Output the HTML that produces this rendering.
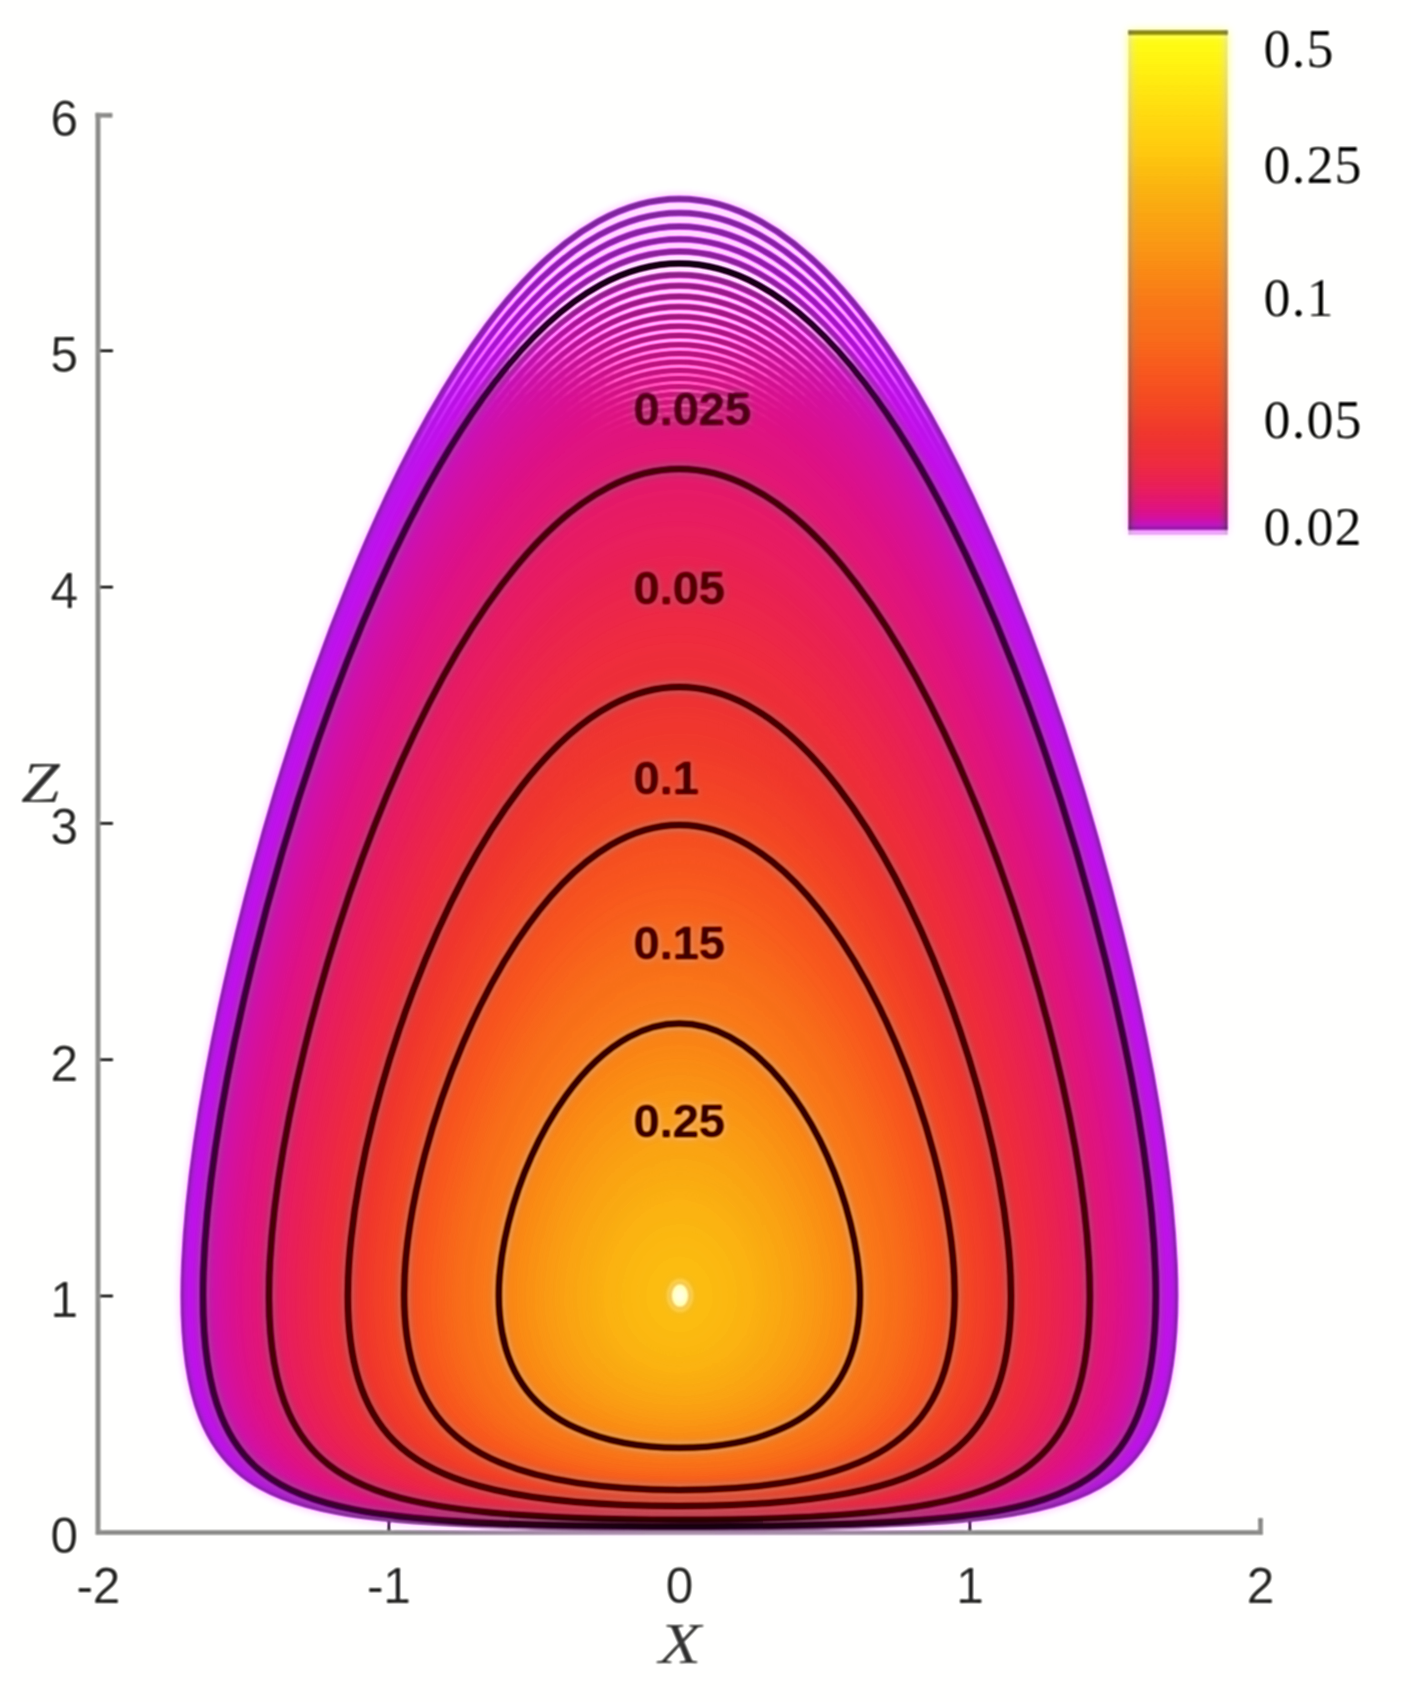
<!DOCTYPE html>
<html lang="en"><head><meta charset="utf-8"><title>Contour plot</title>
<style>
html,body{margin:0;padding:0;background:#fff}
svg{display:block}
.t{font-family:"Liberation Sans",sans-serif;font-size:49.5px;fill:#3c3c3c}
.b{font-family:"Liberation Sans",sans-serif;font-size:47px;font-weight:bold;fill:#2a0008}
.s{font-family:"Liberation Serif",serif;font-size:54px;letter-spacing:1.2px;fill:#222}
.i{font-family:"Liberation Serif",serif;font-size:57px;font-style:italic;fill:#444}
</style></head>
<body>
<svg width="1411" height="1702" viewBox="0 0 1411 1702">
<defs><filter id="usm" x="-30" y="-30" width="1471" height="1762" filterUnits="userSpaceOnUse" color-interpolation-filters="sRGB"><feGaussianBlur in="SourceGraphic" stdDeviation="1.0" result="a"/><feColorMatrix in="a" type="matrix" values=".299 .587 .114 0 0 .299 .587 .114 0 0 .299 .587 .114 0 0 0 0 0 1 0" result="ya"/><feGaussianBlur in="ya" stdDeviation="2.5" result="yb"/><feComposite in="ya" in2="yb" operator="arithmetic" k1="0" k2="1.5" k3="-0.5" k4="0" result="ys"/><feColorMatrix in="a" type="matrix" values=".3505 -.2935 -.057 0 .5 -.1495 .2065 -.057 0 .5 -.1495 -.2935 .443 0 .5 0 0 0 1 0" result="c"/><feGaussianBlur in="c" stdDeviation="4.0" result="cb"/><feComposite in="ys" in2="cb" operator="arithmetic" k1="0" k2="1" k3="2" k4="-1"/></filter></defs>
<g filter="url(#usm)">
<rect x="-30" y="-30" width="1471" height="1762" fill="#fff"/>
<g id="axes">
<line x1="98" y1="1296.0" x2="113" y2="1296.0" stroke="#111" stroke-width="2.4"/>
<line x1="98" y1="1059.7" x2="113" y2="1059.7" stroke="#111" stroke-width="2.4"/>
<line x1="98" y1="823.4" x2="113" y2="823.4" stroke="#111" stroke-width="2.4"/>
<line x1="98" y1="587.1" x2="113" y2="587.1" stroke="#111" stroke-width="2.4"/>
<line x1="98" y1="350.8" x2="113" y2="350.8" stroke="#111" stroke-width="2.4"/>
<line x1="388.9" y1="1532" x2="388.9" y2="1519" stroke="#111" stroke-width="2.4"/>
<line x1="679.4" y1="1532" x2="679.4" y2="1519" stroke="#111" stroke-width="2.4"/>
<line x1="969.9" y1="1532" x2="969.9" y2="1519" stroke="#111" stroke-width="2.4"/>
<path d="M98 112.8V1532.5H1263" fill="none" stroke="#989898" stroke-width="5.2" stroke-linejoin="miter"/>
<path d="M95.4 115.3H112.5" fill="none" stroke="#989898" stroke-width="5"/>
<path d="M1260.5 1518V1534" fill="none" stroke="#989898" stroke-width="5"/>
</g>
<g id="lines" fill="none" stroke-width="7.0">
<path stroke="#b814ec" d="M679.4 1527.5c213.8 0 293.7-6.8 343.1-16c40.3-7.5 70.9-18.9 93.9-37.3c17.5-14 31.2-32.4 41-57.4c12.6-32.2 20.3-79.5 16.9-154.3c-4.2-95.7-25.8-215.5-53.5-328.8c-28.2-114.9-66.9-240.2-113.3-353.7c-38.5-94.3-84.2-184.6-135.7-253.6c-33.2-44.5-70.5-82.3-111.2-104.9c-26.2-14.5-53.3-22.5-81.2-22.5c-27.9 0-55 8-81.2 22.5c-40.7 22.6-78 60.4-111.2 104.9c-51.5 69-97.2 159.3-135.7 253.6c-46.4 113.5-85.1 238.8-113.3 353.7c-27.7 113.3-49.3 233.1-53.5 328.8c-3.4 74.8 4.3 122.1 16.9 154.3c9.8 25 23.5 43.4 41 57.4c23 18.4 53.6 29.8 93.9 37.3c49.4 9.2 129.3 16 343.1 16z"/>
<path stroke="#bc12ec" d="M679.4 1527.2c212.1 0 291.2-7 339.9-16.3c39.7-7.5 69.9-18.8 92.7-36.9c17.5-13.9 31.2-32.2 41-57c12.6-31.8 20.4-78.5 17.3-151.9c-4-94.7-25.3-213.3-52.7-325.2c-27.9-114-66.4-238.2-112.5-350.6c-38.4-93.2-83.7-182.5-134.9-250.7c-32.9-43.8-69.8-81-110.2-103.3c-25.5-14.1-52.4-22.3-80.6-22.3c-28.2 0-55.1 8.2-80.6 22.3c-40.4 22.3-77.3 59.5-110.2 103.3c-51.2 68.2-96.5 157.5-134.9 250.7c-46.1 112.4-84.6 236.6-112.5 350.6c-27.4 111.9-48.7 230.5-52.7 325.2c-3.1 73.4 4.7 120.1 17.3 151.9c9.8 24.8 23.5 43.1 41 57c22.8 18.1 53 29.4 92.7 36.9c48.7 9.3 127.8 16.3 339.9 16.3z"/>
<path stroke="#c010ec" d="M679.4 1527c210 0 288.3-7.3 336.1-16.4c39.6-7.6 69.8-19 92.6-37.1c17.4-13.9 31-32.2 40.8-56.7c12.5-31.6 20.3-77.6 17.4-149.8c-3.7-93.7-24.7-210.8-51.8-321.3c-27.7-113-65.9-236.1-111.8-347.5c-38.1-92.3-83.2-180.5-134-247.9c-32.5-43.1-69.1-79.8-109.2-101.8c-25.7-14.2-52.4-22-80.1-22c-27.7 0-54.4 7.8-80.1 22c-40.1 22-76.7 58.7-109.2 101.8c-50.8 67.4-95.9 155.6-134 247.9c-45.9 111.4-84.1 234.5-111.8 347.5c-27.1 110.5-48.1 227.6-51.8 321.3c-2.9 72.2 4.9 118.2 17.4 149.8c9.8 24.5 23.4 42.8 40.8 56.7c22.8 18.1 53 29.5 92.6 37.1c47.8 9.1 126.1 16.4 336.1 16.4z"/>
<path stroke="#c40eeb" d="M679.4 1526.7c208.1 0 285.6-7.5 332.5-16.5c39.3-7.6 69.4-19 92.1-37c17.5-13.9 31.2-32.1 41-56.7c12.5-31.2 20.3-76.7 17.5-147.7c-3.5-92.7-24.2-208.5-50.9-317.5c-27.5-112.1-65.5-234.2-111.3-344.6c-37.7-91.2-82.4-178.3-132.8-244.8c-32.3-42.6-68.6-79-108.5-100.8c-25.9-14.2-52.5-21.8-79.6-21.8c-27.1 0-53.7 7.6-79.6 21.8c-39.9 21.8-76.2 58.2-108.5 100.8c-50.4 66.5-95.1 153.6-132.8 244.8c-45.8 110.4-83.8 232.5-111.3 344.6c-26.7 109-47.4 224.8-50.9 317.5c-2.8 71 5 116.5 17.5 147.7c9.8 24.6 23.5 42.8 41 56.7c22.7 18 52.8 29.4 92.1 37c46.9 9 124.4 16.5 332.5 16.5z"/>
<path stroke="#c60fdf" d="M679.4 1526.5c206.2 0 283-7.8 329.1-16.7c39.2-7.6 69.2-19.1 91.9-37.1c17.3-13.8 30.9-31.9 40.7-56.1c12.5-30.9 20.3-75.8 17.8-145.5c-3.3-91.9-23.7-206.6-50.2-314.4c-27.2-111-64.9-231.9-110.3-341.3c-37.6-90.4-82.1-176.9-132.3-242.8c-32-41.9-68-77.9-107.5-99.4c-25.2-13.8-51.6-21.6-79.2-21.6c-27.6 0-54 7.8-79.2 21.6c-39.5 21.5-75.5 57.5-107.5 99.4c-50.2 65.9-94.7 152.4-132.3 242.8c-45.4 109.4-83.1 230.3-110.3 341.3c-26.5 107.8-46.9 222.5-50.2 314.4c-2.5 69.7 5.3 114.6 17.8 145.5c9.8 24.2 23.4 42.3 40.7 56.1c22.7 18 52.7 29.5 91.9 37.1c46.1 8.9 122.9 16.7 329.1 16.7z"/>
<path stroke="#c810d4" d="M679.4 1526.2c204.5 0 280.6-7.9 325.9-16.8c38.9-7.6 68.7-19.1 91.3-37c17.4-13.8 31.1-31.9 40.9-56.2c12.4-30.6 20.2-74.9 17.9-143.5c-3.1-90.9-23.3-204.4-49.4-310.8c-27-110.2-64.6-230.2-109.8-338.7c-37.4-89.6-81.6-175.1-131.5-240.2c-31.7-41.4-67.4-76.9-106.6-98.2c-25.9-14.1-52.1-21.3-78.7-21.3c-26.6 0-52.8 7.2-78.7 21.3c-39.2 21.3-74.9 56.8-106.6 98.2c-49.9 65.1-94.1 150.6-131.5 240.2c-45.2 108.5-82.8 228.5-109.8 338.7c-26.1 106.4-46.3 219.9-49.4 310.8c-2.3 68.6 5.5 112.9 17.9 143.5c9.8 24.3 23.5 42.4 40.9 56.2c22.6 17.9 52.4 29.4 91.3 37c45.3 8.9 121.4 16.8 325.9 16.8z"/>
<path stroke="#ca10c2" d="M679.4 1526c202.9 0 278.3-8.2 322.8-17c38.8-7.7 68.6-19.2 91.1-37.1c17.2-13.7 30.8-31.7 40.6-55.6c12.3-30.4 20.2-74.3 18-142c-2.8-90.1-22.8-202.3-48.6-307.5c-26.8-109.3-64.2-228.5-109.2-336.1c-37.1-88.6-81-173.1-130.5-237.4c-31.4-41-66.9-76.1-105.9-97.3c-25-13.5-51.1-21.1-78.3-21.1c-27.2 0-53.3 7.6-78.3 21.1c-39 21.2-74.5 56.3-105.9 97.3c-49.5 64.3-93.4 148.8-130.5 237.4c-45 107.6-82.4 226.8-109.2 336.1c-25.8 105.2-45.8 217.4-48.6 307.5c-2.2 67.7 5.7 111.6 18 142c9.8 23.9 23.4 41.9 40.6 55.6c22.5 17.9 52.3 29.4 91.1 37.1c44.5 8.8 119.9 17 322.8 17z"/>
<path stroke="#cd10b4" d="M679.4 1525.7c201.3 0 276.1-8.4 319.8-17.1c38.6-7.7 68.2-19.2 90.6-37c17.2-13.7 30.8-31.5 40.5-55.3c12.4-30.2 20.3-73.6 18.3-140.5c-2.7-89.2-22.4-200.2-47.9-304.2c-26.6-108.4-63.7-226.5-108.4-333.1c-37-88-80.7-171.8-130-235.7c-31.1-40.3-66.4-75.1-105.1-96c-24.8-13.4-50.8-21-77.8-21c-27 0-53 7.6-77.8 21c-38.7 20.9-74 55.7-105.1 96c-49.3 63.9-93 147.7-130 235.7c-44.7 106.6-81.8 224.7-108.4 333.1c-25.5 104-45.2 215-47.9 304.2c-2 66.9 5.9 110.3 18.3 140.5c9.7 23.8 23.3 41.6 40.5 55.3c22.4 17.8 52 29.3 90.6 37c43.7 8.7 118.5 17.1 319.8 17.1z"/>
<path stroke="#cf10ae" d="M679.4 1525.5c199.8 0 274.1-8.6 317-17.3c38.3-7.7 67.7-19.2 90.1-36.9c17.2-13.7 30.8-31.6 40.6-55.4c12.3-29.9 20.1-72.9 18.2-138.7c-2.5-88.4-21.9-198.2-47.1-301c-26.4-107.6-63.4-224.9-107.9-330.7c-36.7-87.1-80.1-170-129-233.1c-30.9-40-66-74.4-104.5-95.2c-24.8-13.3-50.6-20.7-77.4-20.7c-26.8 0-52.6 7.4-77.4 20.7c-38.5 20.8-73.6 55.2-104.5 95.2c-48.9 63.1-92.3 146-129 233.1c-44.5 105.8-81.5 223.1-107.9 330.7c-25.2 102.8-44.6 212.6-47.1 301c-1.9 65.8 5.9 108.8 18.2 138.7c9.8 23.8 23.4 41.7 40.6 55.4c22.4 17.7 51.8 29.2 90.1 36.9c42.9 8.7 117.2 17.3 317 17.3z"/>
<path stroke="#d110a8" d="M679.4 1525.2c198 0 271.5-8.8 313.6-17.3c38.3-7.7 67.8-19.2 90.2-36.9c17.2-13.7 30.8-31.5 40.6-55.2c12.2-29.6 20.1-72 18.4-136.7c-2.3-87.7-21.5-196.7-46.5-298.5c-26.2-106.9-63-223.4-107.4-328.4c-36.5-86.3-79.6-168.4-128.3-230.9c-30.6-39.4-65.4-73.5-103.6-94c-25-13.4-50.7-20.6-77-20.6c-26.3 0-52 7.2-77 20.6c-38.2 20.5-73 54.6-103.6 94c-48.7 62.5-91.8 144.6-128.3 230.9c-44.4 105-81.2 221.5-107.4 328.4c-25 101.8-44.2 210.8-46.5 298.5c-1.7 64.7 6.2 107.1 18.4 136.7c9.8 23.7 23.4 41.5 40.6 55.2c22.4 17.7 51.9 29.2 90.2 36.9c42.1 8.5 115.6 17.3 313.6 17.3z"/>
<path stroke="#d310a3" d="M679.4 1525c196.6 0 269.7-9 311-17.5c38-7.7 67.3-19.2 89.7-36.9c17.1-13.6 30.7-31.3 40.5-54.8c12.2-29.4 20.1-71.4 18.5-135.4c-2.1-86.9-21.1-194.8-45.8-295.5c-26-106-62.5-221.5-106.6-325.7c-36.3-85.6-79.2-167-127.6-228.9c-30.5-39.1-65-72.9-103.1-93.2c-24.5-13.1-50-20.4-76.6-20.4c-26.6 0-52.1 7.3-76.6 20.4c-38.1 20.3-72.6 54.1-103.1 93.2c-48.4 61.9-91.3 143.3-127.6 228.9c-44.1 104.2-80.6 219.7-106.6 325.7c-24.7 100.7-43.7 208.6-45.8 295.5c-1.6 64 6.3 106 18.5 135.4c9.8 23.5 23.4 41.2 40.5 54.8c22.4 17.7 51.7 29.2 89.7 36.9c41.3 8.5 114.4 17.5 311 17.5z"/>
<path stroke="#d4109f" d="M679.4 1524.7c195.3 0 267.9-9.2 308.5-17.6c37.8-7.8 66.9-19.2 89.1-36.8c17.1-13.5 30.7-31.2 40.5-54.6c12.2-29.2 20.1-70.8 18.6-134.1c-1.9-86.1-20.7-193-45.1-292.5c-25.8-105.3-62.2-220.2-106.2-323.6c-36.1-84.9-78.8-165.5-126.9-226.9c-30.2-38.5-64.5-71.9-102.3-92c-24.6-13.2-50-20.3-76.2-20.3c-26.2 0-51.6 7.1-76.2 20.3c-37.8 20.1-72.1 53.5-102.3 92c-48.1 61.4-90.8 142-126.9 226.9c-44 103.4-80.4 218.3-106.2 323.6c-24.4 99.5-43.2 206.4-45.1 292.5c-1.5 63.3 6.4 104.9 18.6 134.1c9.8 23.4 23.4 41.1 40.5 54.6c22.2 17.6 51.3 29 89.1 36.8c40.6 8.4 113.2 17.6 308.5 17.6z"/>
<path stroke="#d6109b" d="M679.4 1524.5c194 0 266.2-9.5 306.2-17.8c37.4-7.8 66.4-19.2 88.4-36.7c17.1-13.6 30.6-31.1 40.4-54.4c12.2-29 20.1-70.3 18.8-132.8c-1.8-85.4-20.4-191.2-44.5-289.7c-25.6-104.7-61.9-218.8-105.7-321.6c-35.9-83.9-78.2-163.7-126-224.5c-30-38.1-64.1-71.3-101.8-91.3c-24.8-13.2-50.1-20.1-75.8-20.1c-25.7 0-51 6.9-75.8 20.1c-37.7 20-71.8 53.2-101.8 91.3c-47.8 60.8-90.1 140.6-126 224.5c-43.8 102.8-80.1 216.9-105.7 321.6c-24.1 98.5-42.7 204.3-44.5 289.7c-1.3 62.5 6.6 103.8 18.8 132.8c9.8 23.3 23.3 40.8 40.4 54.4c22 17.5 51 28.9 88.4 36.7c40 8.3 112.2 17.8 306.2 17.8z"/>
<path stroke="#d71098" d="M679.4 1524.2c192.4 0 264-9.6 303.2-17.7c37.5-7.9 66.5-19.4 88.6-36.9c17-13.5 30.5-30.9 40.3-54.1c12.2-28.8 20.1-69.7 18.9-131.5c-1.6-84.7-20-189.5-43.9-286.9c-25.5-103.9-61.5-217.2-105.1-319.1c-35.7-83.5-77.9-162.8-125.6-223.1c-29.7-37.7-63.6-70.5-100.9-90.3c-24.8-13.1-50-19.9-75.5-19.9c-25.5 0-50.7 6.8-75.5 19.9c-37.3 19.8-71.2 52.6-100.9 90.3c-47.7 60.3-89.9 139.6-125.6 223.1c-43.6 101.9-79.6 215.2-105.1 319.1c-23.9 97.4-42.3 202.2-43.9 286.9c-1.2 61.8 6.7 102.7 18.9 131.5c9.8 23.2 23.3 40.6 40.3 54.1c22.1 17.5 51.1 29 88.6 36.9c39.2 8.1 110.8 17.7 303.2 17.7z"/>
<path stroke="#d91094" d="M679.4 1524c191.2 0 262.4-9.8 301-18c37.2-7.8 66-19.3 88-36.7c17-13.5 30.4-30.9 40.2-53.9c12.2-28.6 20.1-69.2 19-130.3c-1.5-84-19.7-187.8-43.3-284.2c-25.3-103.3-61.1-215.9-104.6-317.2c-35.5-82.7-77.4-161.2-124.7-220.9c-29.6-37.3-63.3-69.8-100.5-89.5c-24.6-13-49.7-19.8-75.1-19.8c-25.4 0-50.5 6.8-75.1 19.8c-37.2 19.7-70.9 52.2-100.5 89.5c-47.3 59.7-89.2 138.2-124.7 220.9c-43.5 101.3-79.3 213.9-104.6 317.2c-23.6 96.4-41.8 200.2-43.3 284.2c-1.1 61.1 6.8 101.7 19 130.3c9.8 23 23.2 40.4 40.2 53.9c22 17.4 50.8 28.9 88 36.7c38.6 8.2 109.8 18 301 18z"/>
<path stroke="#da1091" d="M679.4 1523.7c189.6 0 260.4-10 298.2-17.9c37.2-7.9 66.1-19.4 88.1-36.9c16.9-13.4 30.3-30.8 40.1-53.7c12.1-28.4 20-68.6 19.1-129.1c-1.4-83.3-19.3-186.1-42.7-281.6c-25.1-102.5-60.7-214.2-104-314.7c-35.3-82.3-77.2-160.3-124.3-219.6c-29.4-36.9-62.8-69-99.7-88.5c-24.4-12.8-49.3-19.6-74.8-19.6c-25.5 0-50.4 6.8-74.8 19.6c-36.9 19.5-70.3 51.6-99.7 88.5c-47.1 59.3-89 137.3-124.3 219.6c-43.3 100.5-78.9 212.2-104 314.7c-23.4 95.5-41.3 198.3-42.7 281.6c-.9 60.5 7 100.7 19.1 129.1c9.8 22.9 23.2 40.3 40.1 53.7c22 17.5 50.9 29 88.1 36.9c37.8 7.9 108.6 17.9 298.2 17.9z"/>
<path stroke="#db118e" d="M679.4 1523.5c188.6 0 258.9-10.2 296.1-18.2c37-7.8 65.6-19.4 87.6-36.7c16.8-13.4 30.2-30.7 40-53.5c12.1-28.2 20-68.1 19.1-128c-1.2-82.6-19-184.5-42.1-279c-24.9-101.9-60.4-213-103.5-313c-35.2-81.4-76.7-158.6-123.5-217.3c-29.2-36.6-62.5-68.5-99.3-87.9c-24.4-12.8-49.3-19.5-74.4-19.5c-25.1 0-50 6.7-74.4 19.5c-36.8 19.4-70.1 51.3-99.3 87.9c-46.8 58.7-88.3 135.9-123.5 217.3c-43.1 100-78.6 211.1-103.5 313c-23.1 94.5-40.9 196.4-42.1 279c-.9 59.9 7 99.8 19.1 128c9.8 22.8 23.2 40.1 40 53.5c22 17.3 50.6 28.9 87.6 36.7c37.2 8 107.5 18.2 296.1 18.2z"/>
<path stroke="#dc118b" d="M679.4 1523.2c187.1 0 257-10.3 293.5-18.1c37-7.9 65.7-19.5 87.6-36.9c16.8-13.4 30.2-30.6 39.9-53.3c12-28 19.9-67.4 19.2-126.3c-1-82.1-18.6-183.3-41.5-277c-24.8-101.2-60.1-211.5-103-310.7c-35-81-76.4-157.8-123.1-216.1c-29-36.2-62-67.7-98.5-86.9c-24.4-12.7-49.1-19.3-74.1-19.3c-25 0-49.7 6.6-74.1 19.3c-36.5 19.2-69.5 50.7-98.5 86.9c-46.7 58.3-88.1 135.1-123.1 216.1c-42.9 99.2-78.2 209.5-103 310.7c-22.9 93.7-40.5 194.9-41.5 277c-.7 58.9 7.2 98.3 19.2 126.3c9.7 22.7 23.1 39.9 39.9 53.3c21.9 17.4 50.6 29 87.6 36.9c36.5 7.8 106.4 18.1 293.5 18.1z"/>
<path stroke="#dd1188" d="M679.4 1523c186 0 255.7-10.6 291.6-18.4c36.7-7.9 65.2-19.4 87-36.8c16.8-13.3 30.1-30.5 39.8-53.1c12-27.8 19.9-66.9 19.3-125.2c-.9-81.4-18.3-181.7-41-274.5c-24.6-100.6-59.8-210.4-102.6-309c-34.7-80.3-75.9-156.3-122.3-214c-28.8-35.9-61.7-67.3-98.1-86.3c-24.2-12.6-48.8-19.2-73.7-19.2c-24.9 0-49.5 6.6-73.7 19.2c-36.4 19-69.3 50.4-98.1 86.3c-46.4 57.7-87.6 133.7-122.3 214c-42.8 98.6-78 208.4-102.6 309c-22.7 92.8-40.1 193.1-41 274.5c-.6 58.3 7.3 97.4 19.3 125.2c9.7 22.6 23 39.8 39.8 53.1c21.8 17.4 50.3 28.9 87 36.8c35.9 7.8 105.6 18.4 291.6 18.4z"/>
<path stroke="#de1285" d="M679.4 1522.7c184.6 0 253.9-10.7 289.1-18.3c36.6-8 65-19.5 86.7-36.7c16.9-13.3 30.3-30.5 40.1-53.2c11.9-27.6 19.8-66.4 19.3-124c-.8-80.9-18-180.3-40.5-272.2c-24.4-99.9-59.4-208.9-101.9-306.8c-34.6-79.7-75.6-155.2-121.8-212.5c-28.6-35.6-61.4-66.8-97.6-85.7c-24.1-12.5-48.6-19.1-73.4-19.1c-24.8 0-49.3 6.6-73.4 19.1c-36.2 18.9-69 50.1-97.6 85.7c-46.2 57.3-87.2 132.8-121.8 212.5c-42.5 97.9-77.5 206.9-101.9 306.8c-22.5 91.9-39.7 191.3-40.5 272.2c-.5 57.6 7.4 96.4 19.3 124c9.8 22.7 23.2 39.9 40.1 53.2c21.7 17.2 50.1 28.7 86.7 36.7c35.2 7.6 104.5 18.3 289.1 18.3z"/>
<path stroke="#df1282" d="M679.4 1522.4c183.2 0 252.1-10.8 286.7-18.3c36.6-8 65-19.5 86.8-36.8c16.8-13.3 30.1-30.5 39.9-53c11.9-27.4 19.8-65.9 19.3-123c-.6-80.2-17.7-178.7-39.9-269.7c-24.3-99.5-59.2-207.9-101.6-305.3c-34.4-79.1-75.2-154-121.2-210.8c-28.4-35.2-60.9-66-96.9-84.8c-24-12.4-48.4-18.9-73.1-18.9c-24.7 0-49.1 6.5-73.1 18.9c-36 18.8-68.5 49.6-96.9 84.8c-46 56.8-86.8 131.7-121.2 210.8c-42.4 97.4-77.3 205.8-101.6 305.3c-22.2 91-39.3 189.5-39.9 269.7c-.5 57.1 7.4 95.6 19.3 123c9.8 22.5 23.1 39.7 39.9 53c21.8 17.3 50.2 28.8 86.8 36.8c34.6 7.5 103.5 18.3 286.7 18.3z"/>
<path stroke="#df1280" d="M679.4 1522.2c182.3 0 250.9-11 285-18.5c36.3-8 64.5-19.6 86.2-36.8c16.7-13.3 30-30.4 39.7-52.8c11.9-27.2 19.8-65.4 19.4-121.9c-.5-79.8-17.4-177.7-39.5-268c-24.1-98.7-58.8-206.1-100.9-302.6c-34.3-78.6-74.9-153-120.6-209.5c-28.3-34.9-60.7-65.5-96.5-84.1c-23.8-12.3-48.1-18.8-72.8-18.8c-24.7 0-49 6.5-72.8 18.8c-35.8 18.6-68.2 49.2-96.5 84.1c-45.7 56.5-86.3 130.9-120.6 209.5c-42.1 96.5-76.8 203.9-100.9 302.6c-22.1 90.3-39 188.2-39.5 268c-.4 56.5 7.5 94.7 19.4 121.9c9.7 22.4 23 39.5 39.7 52.8c21.7 17.2 49.9 28.8 86.2 36.8c34.1 7.5 102.7 18.5 285 18.5z"/>
<path stroke="#e0137e" d="M679.4 1521.9c180.9 0 249.2-11.1 282.7-18.5c36.3-8 64.6-19.6 86.2-36.9c16.7-13.2 30-30.3 39.7-52.6c11.8-27.1 19.6-65 19.3-120.9c-.4-79.2-17.1-176.3-39-265.7c-24-98.2-58.5-205.1-100.5-301.1c-34.1-77.9-74.4-151.6-119.9-207.5c-28.1-34.7-60.3-65.1-96-83.6c-23.8-12.3-48-18.7-72.5-18.7c-24.5 0-48.7 6.4-72.5 18.7c-35.7 18.5-67.9 48.9-96 83.6c-45.5 55.9-85.8 129.6-119.9 207.5c-42 96-76.5 202.9-100.5 301.1c-21.9 89.4-38.6 186.5-39 265.7c-.3 55.9 7.5 93.8 19.3 120.9c9.7 22.3 23 39.4 39.7 52.6c21.6 17.3 49.9 28.9 86.2 36.9c33.5 7.4 101.8 18.5 282.7 18.5z"/>
</g>
<g id="fills" stroke-width="7.0">
<path fill="#e0147c" stroke="#e0147c" d="M679.4 1521.7c179.6 0 247.6-11.3 280.5-18.6c36.1-8 64.3-19.6 85.9-36.7c16.7-13.2 29.9-30.2 39.7-52.4c11.8-26.9 19.7-64.6 19.5-120.2c-.3-78.6-16.9-174.9-38.5-263.5c-23.8-97.5-58.1-203.8-99.9-299.1c-34-77.6-74.3-150.9-119.6-206.5c-28-34.2-60-64.4-95.4-82.7c-23.7-12.2-47.8-18.5-72.2-18.5c-24.4 0-48.5 6.3-72.2 18.5c-35.4 18.3-67.4 48.5-95.4 82.7c-45.3 55.6-85.6 128.9-119.6 206.5c-41.8 95.3-76.1 201.6-99.9 299.1c-21.6 88.6-38.2 184.9-38.5 263.5c-.2 55.6 7.7 93.3 19.5 120.2c9.8 22.2 23 39.2 39.7 52.4c21.6 17.1 49.8 28.7 85.9 36.7c32.9 7.3 100.9 18.6 280.5 18.6z"/>
<path fill="#e1147b" stroke="#e1147b" d="M679.4 1521.4c178.3 0 246-11.4 278.3-18.6c36.2-8 64.3-19.6 85.9-36.8c16.6-13.2 29.9-30.1 39.6-52.2c11.8-26.8 19.7-64.2 19.5-119.3c-.2-77.9-16.6-173.4-38-261.3c-23.7-97-57.9-202.8-99.6-297.6c-33.8-76.9-73.8-149.5-118.8-204.6c-27.8-34-59.7-64-95-82.2c-23.5-12.1-47.5-18.4-71.9-18.4c-24.4 0-48.4 6.3-71.9 18.4c-35.3 18.2-67.2 48.2-95 82.2c-45 55.1-85 127.7-118.8 204.6c-41.7 94.8-75.9 200.6-99.6 297.6c-21.4 87.9-37.8 183.4-38 261.3c-.2 55.1 7.7 92.5 19.5 119.3c9.7 22.1 23 39 39.6 52.2c21.6 17.2 49.7 28.8 85.9 36.8c32.3 7.2 100 18.6 278.3 18.6z"/>
<path fill="#e11579" stroke="#e11579" d="M679.4 1521.2c177.4 0 244.9-11.6 276.8-18.8c35.7-8 63.6-19.6 85-36.6c16.8-13.3 30.1-30.3 39.7-52.3c11.8-26.6 19.7-63.7 19.6-118.2c-.1-77.5-16.3-172.1-37.6-259.2c-23.5-96.4-57.5-201.5-99-295.7c-33.6-76.4-73.5-148.6-118.3-203.3c-27.7-33.8-59.4-63.5-94.6-81.6c-21.9-11.3-45.9-18.4-71.6-18.4c-25.7 0-49.7 7.1-71.6 18.4c-35.2 18.1-66.9 47.8-94.6 81.6c-44.8 54.7-84.7 126.9-118.3 203.3c-41.5 94.2-75.5 199.3-99 295.7c-21.3 87.1-37.5 181.7-37.6 259.2c-.1 54.5 7.8 91.6 19.6 118.2c9.6 22 22.9 39 39.7 52.3c21.4 17 49.3 28.6 85 36.6c31.9 7.2 99.4 18.8 276.8 18.8z"/>
<path fill="#e21577" stroke="#e21577" d="M679.4 1520.9c176.2 0 243.4-11.7 274.7-18.8c35.8-8.1 63.6-19.6 85.1-36.7c16.6-13.2 29.8-30.1 39.5-52.1c11.7-26.5 19.6-63.3 19.6-117.3c0-76.9-16.1-170.8-37.1-257.1c-23.4-96-57.3-200.6-98.7-294.3c-33.5-75.9-73.2-147.5-117.9-201.9c-27.4-33.3-58.9-62.8-93.9-80.7c-21.8-11.2-45.6-18.2-71.3-18.2c-25.7 0-49.5 7-71.3 18.2c-35 17.9-66.5 47.4-93.9 80.7c-44.7 54.4-84.4 126-117.9 201.9c-41.4 93.7-75.3 198.3-98.7 294.3c-21 86.3-37.1 180.2-37.1 257.1c0 54 7.9 90.8 19.6 117.3c9.7 22 22.9 38.9 39.5 52.1c21.5 17.1 49.3 28.6 85.1 36.7c31.3 7.1 98.5 18.8 274.7 18.8z"/>
<path fill="#e21675" stroke="#e21675" d="M679.4 1520.6c174.9 0 241.9-11.8 272.7-18.8c35.6-8.1 63.3-19.6 84.7-36.5c16.6-13.2 29.9-30 39.6-51.9c11.7-26.4 19.6-63 19.7-116.7c.1-76.3-15.8-169.5-36.6-255c-23.2-95.4-57-199.4-98.2-292.5c-33.3-75.4-72.8-146.6-117.3-200.6c-27.3-33.1-58.7-62.4-93.6-80.2c-22.8-11.7-46.5-18.1-71-18.1c-24.5 0-48.2 6.4-71 18.1c-34.9 17.8-66.3 47.1-93.6 80.2c-44.5 54-84 125.2-117.3 200.6c-41.2 93.1-75 197.1-98.2 292.5c-20.8 85.5-36.7 178.7-36.6 255c.1 53.7 8 90.3 19.7 116.7c9.7 21.9 23 38.7 39.6 51.9c21.4 16.9 49.1 28.4 84.7 36.5c30.8 7 97.8 18.8 272.7 18.8z"/>
<path fill="#e31673" stroke="#e31673" d="M679.4 1520.4c173.7 0 240.4-12 270.7-18.9c35.6-8.1 63.4-19.6 84.8-36.6c16.5-13.2 29.7-30 39.4-51.8c11.6-26.2 19.5-62.6 19.7-115.7c.2-76-15.6-168.6-36.3-253.6c-23.1-94.8-56.7-198.1-97.8-290.6c-33.1-74.8-72.4-145.3-116.6-198.8c-27.2-32.9-58.4-62.1-93.2-79.8c-23.2-11.8-46.8-18-70.7-18c-23.9 0-47.5 6.2-70.7 18c-34.8 17.7-66 46.9-93.2 79.8c-44.2 53.5-83.5 124-116.6 198.8c-41.1 92.5-74.7 195.8-97.8 290.6c-20.7 85-36.5 177.6-36.3 253.6c.2 53.1 8.1 89.5 19.7 115.7c9.7 21.8 22.9 38.6 39.4 51.8c21.4 17 49.2 28.5 84.8 36.6c30.3 6.9 97 18.9 270.7 18.9z"/>
<path fill="#e31771" stroke="#e31771" d="M679.4 1520.1c172.5 0 239-12.1 268.8-18.9c35.4-8.1 63.1-19.6 84.4-36.5c16.6-13.2 29.9-30 39.6-51.9c11.6-26 19.5-62.1 19.7-114.8c.2-75.4-15.4-167.3-35.9-251.5c-22.9-94.3-56.4-196.9-97.2-288.9c-33.1-74.4-72.3-144.7-116.4-197.9c-27-32.5-58-61.4-92.6-78.9c-22.8-11.7-46.3-17.9-70.4-17.9c-24.1 0-47.6 6.2-70.4 17.9c-34.6 17.5-65.6 46.4-92.6 78.9c-44.1 53.2-83.3 123.5-116.4 197.9c-40.8 92-74.3 194.6-97.2 288.9c-20.5 84.2-36.1 176.1-35.9 251.5c.2 52.7 8.1 88.8 19.7 114.8c9.7 21.9 23 38.7 39.6 51.9c21.3 16.9 49 28.4 84.4 36.5c29.8 6.8 96.3 18.9 268.8 18.9z"/>
<path fill="#e4176f" stroke="#e4176f" d="M679.4 1519.8c171.3 0 237.6-12.2 266.9-18.9c35.4-8.1 63.1-19.7 84.4-36.6c16.5-13.1 29.6-29.8 39.3-51.4c11.6-26 19.5-61.9 19.8-114.2c.4-75-15.1-166.1-35.4-249.6c-22.8-93.7-56.1-195.7-96.7-287.1c-33-74-72-143.9-115.9-196.7c-26.9-32.4-57.8-61-92.2-78.5c-22.9-11.7-46.4-17.8-70.2-17.8c-23.8 0-47.3 6.1-70.2 17.8c-34.4 17.5-65.3 46.1-92.2 78.5c-43.9 52.8-82.9 122.7-115.9 196.7c-40.6 91.4-73.9 193.4-96.7 287.1c-20.3 83.5-35.8 174.6-35.4 249.6c.3 52.3 8.2 88.2 19.8 114.2c9.7 21.6 22.8 38.3 39.3 51.4c21.3 16.9 49 28.5 84.4 36.6c29.3 6.7 95.6 18.9 266.9 18.9z"/>
<path fill="#e4186d" stroke="#e4186d" d="M679.4 1519.6c170.6 0 236.6-12.4 265.7-19.1c34.9-8.1 62.3-19.6 83.5-36.4c16.5-13.1 29.7-29.8 39.4-51.5c11.5-25.8 19.4-61.5 19.7-113.3c.5-74.4-14.8-164.8-34.9-247.7c-22.7-93.3-55.9-194.9-96.5-285.9c-32.7-73.3-71.5-142.5-115.2-195c-26.7-32.1-57.5-60.6-91.8-78c-22.9-11.6-46.2-17.7-69.9-17.7c-23.7 0-47 6.1-69.9 17.7c-34.3 17.4-65.1 45.9-91.8 78c-43.7 52.5-82.5 121.7-115.2 195c-40.6 91-73.8 192.6-96.5 285.9c-20.1 82.9-35.4 173.3-34.9 247.7c.3 51.8 8.2 87.5 19.7 113.3c9.7 21.7 22.9 38.4 39.4 51.5c21.2 16.8 48.6 28.3 83.5 36.4c29.1 6.7 95.1 19.1 265.7 19.1z"/>
<path fill="#e5196b" stroke="#e5196b" d="M679.4 1519.3c169.4 0 235.3-12.5 263.9-19.1c34.9-8.1 62.3-19.7 83.4-36.5c16.4-13 29.5-29.6 39.2-51.1c11.5-25.6 19.4-61 19.8-112.3c.6-74-14.5-163.9-34.5-246.2c-22.6-92.7-55.6-193.7-96-284.2c-32.6-72.9-71.2-141.7-114.7-193.9c-26.6-31.8-57.3-60.2-91.5-77.5c-22-11.1-45.3-17.6-69.6-17.6c-24.3 0-47.6 6.5-69.6 17.6c-34.2 17.3-64.9 45.7-91.5 77.5c-43.5 52.2-82.1 121-114.7 193.9c-40.4 90.5-73.4 191.5-96 284.2c-20 82.3-35.1 172.2-34.5 246.2c.4 51.3 8.3 86.7 19.8 112.3c9.7 21.5 22.8 38.1 39.2 51.1c21.1 16.8 48.5 28.4 83.4 36.5c28.6 6.6 94.5 19.1 263.9 19.1z"/>
<path fill="#e51969" stroke="#e51969" d="M679.4 1519.1c179.4 0 246.1-14.2 278.1-23.4c33.5-9.5 59.5-23.1 79.1-42.9c17-17.2 29.8-40 37.8-70.8c12.6-48.8 11.8-113.9 1.6-188.3c-13.1-96.9-42.6-212.4-81.3-318.9c-33.8-93.2-77-186.3-127.5-257.9c-30.2-42.8-66.8-83.3-108.8-107.5c-25.8-14.9-52.2-22.6-79-22.6c-26.8 0-53.2 7.7-79 22.6c-42 24.2-78.6 64.7-108.8 107.5c-50.5 71.6-93.7 164.7-127.5 257.9c-38.7 106.5-68.2 222-81.3 318.9c-10.2 74.4-11 139.5 1.6 188.3c8 30.8 20.8 53.6 37.8 70.8c19.6 19.8 45.6 33.4 79.1 42.9c32 9.2 98.7 23.4 278.1 23.4z"/>
<path fill="#e61a67" stroke="#e61a67" d="M679.4 1518.8c178.3 0 244.7-14.3 276.3-23.3c33.4-9.6 59.3-23.1 78.8-42.8c17-17.2 29.9-39.9 37.9-70.5c12.6-48.4 11.9-112.9 1.9-186.9c-13.1-96.5-42.4-211.5-81-317.6c-33.6-92.5-76.6-184.8-126.8-255.9c-30.1-42.4-66.5-82.8-108.4-106.8c-25.7-14.8-52-22.5-78.7-22.5c-26.7 0-53 7.7-78.7 22.5c-41.9 24-78.3 64.4-108.4 106.8c-50.2 71.1-93.2 163.4-126.8 255.9c-38.6 106.1-67.9 221.1-81 317.6c-10 74-10.7 138.5 1.9 186.9c8 30.6 20.9 53.3 37.9 70.5c19.5 19.7 45.4 33.2 78.8 42.8c31.6 9 98 23.3 276.3 23.3z"/>
<path fill="#e61a65" stroke="#e61a65" d="M679.4 1518.5c177.3 0 243.4-14.4 274.5-23.3c33.4-9.6 59.3-23.2 78.8-43c16.9-17.1 29.7-39.5 37.6-69.9c12.7-48.2 12.1-112.3 2.2-185.9c-13-95.9-42.1-210-80.4-315.3c-33.5-91.9-76.3-183.8-126.3-254.4c-29.9-42.2-66.3-82.3-107.9-106.2c-25.7-14.7-51.9-22.4-78.5-22.4c-26.6 0-52.8 7.7-78.5 22.4c-41.6 23.9-78 64-107.9 106.2c-50 70.6-92.8 162.5-126.3 254.4c-38.3 105.3-67.4 219.4-80.4 315.3c-9.9 73.6-10.5 137.7 2.2 185.9c7.9 30.4 20.7 52.8 37.6 69.9c19.5 19.8 45.4 33.4 78.8 43c31.1 8.9 97.2 23.3 274.5 23.3z"/>
<path fill="#e61b64" stroke="#e61b64" d="M679.4 1518.3c176.2 0 242.1-14.6 272.7-23.4c33.3-9.6 59.1-23.1 78.6-42.8c16.9-17.1 29.8-39.6 37.8-70c12.5-47.8 12-111.4 2.2-184.1c-12.7-95.4-41.7-208.9-79.9-313.5c-33.3-91.6-76.1-183.1-126-253.3c-32.6-46-68.6-83.2-107.2-105.3c-25.6-14.6-51.7-22.3-78.2-22.3c-26.5 0-52.6 7.7-78.2 22.3c-38.6 22.1-74.6 59.3-107.2 105.3c-49.9 70.2-92.7 161.7-126 253.3c-38.2 104.6-67.2 218.1-79.9 313.5c-9.8 72.7-10.3 136.3 2.2 184.1c8 30.4 20.9 52.9 37.8 70c19.5 19.7 45.3 33.2 78.6 42.8c30.6 8.8 96.5 23.4 272.7 23.4z"/>
<path fill="#e71b62" stroke="#e71b62" d="M679.4 1518c175.2 0 240.8-14.7 271-23.4c33.1-9.6 58.9-23.1 78.3-42.7c17-17 29.8-39.4 37.8-69.6c12.6-47.5 12.1-110.5 2.5-182.8c-12.6-95-41.5-208-79.5-312.3c-33.2-90.9-75.7-181.6-125.4-251.3c-29.5-41.5-65.5-81.1-106.8-104.7c-25.4-14.5-51.4-22.2-77.9-22.2c-26.5 0-52.5 7.7-77.9 22.2c-41.3 23.6-77.3 63.2-106.8 104.7c-49.7 69.7-92.2 160.4-125.4 251.3c-38 104.3-66.9 217.3-79.5 312.3c-9.6 72.3-10.1 135.3 2.5 182.8c8 30.2 20.8 52.6 37.8 69.6c19.4 19.6 45.2 33.1 78.3 42.7c30.2 8.7 95.8 23.4 271 23.4z"/>
<path fill="#e71c61" stroke="#e71c61" d="M679.4 1517.7c174.1 0 239.6-14.8 269.3-23.4c33.2-9.6 58.9-23.2 78.3-42.8c16.9-17 29.7-39.3 37.7-69.5c12.5-47.3 12-109.9 2.6-181.5c-12.5-94.3-41.2-206.6-79-310c-33.1-90.4-75.4-180.6-124.8-250c-29.4-41.2-65.3-80.6-106.5-104.1c-25.4-14.4-51.3-22-77.6-22c-26.3 0-52.2 7.6-77.6 22c-41.2 23.5-77.1 62.9-106.5 104.1c-49.4 69.4-91.7 159.6-124.8 250c-37.8 103.4-66.5 215.7-79 310c-9.4 71.6-9.9 134.2 2.6 181.5c8 30.2 20.8 52.5 37.7 69.5c19.4 19.6 45.1 33.2 78.3 42.8c29.7 8.6 95.2 23.4 269.3 23.4z"/>
<path fill="#e71c5f" stroke="#e71c5f" d="M679.4 1517.5c173.1 0 238.3-15 267.7-23.5c33-9.6 58.7-23.1 78-42.6c16.9-17 29.6-39.3 37.6-69.2c12.6-47 12.2-109.1 2.9-180.2c-12.4-93.8-40.9-205.5-78.5-308.3c-32.9-89.9-75-179.6-124.3-248.6c-32.3-45.2-67.8-81.8-106.1-103.5c-25.2-14.4-51.1-21.9-77.3-21.9c-26.2 0-52.1 7.5-77.3 21.9c-38.3 21.7-73.8 58.3-106.1 103.5c-49.3 69-91.4 158.7-124.3 248.6c-37.6 102.8-66.1 214.5-78.5 308.3c-9.3 71.1-9.7 133.2 2.9 180.2c8 29.9 20.7 52.2 37.6 69.2c19.3 19.5 45 33 78 42.6c29.4 8.5 94.6 23.5 267.7 23.5z"/>
<path fill="#e81d5e" stroke="#e81d5e" d="M679.4 1517.2c172.1 0 237.1-15.1 266-23.5c33.1-9.6 58.7-23.2 78.1-42.8c16.7-16.9 29.5-39.1 37.5-69c12.5-46.7 12.1-108.5 2.9-178.9c-12.3-93.4-40.7-204.4-78.2-306.7c-32.7-89.4-74.7-178.6-123.8-247.1c-32.1-44.8-67.4-81-105.4-102.6c-25.2-14.3-51-21.8-77.1-21.8c-26.1 0-51.9 7.5-77.1 21.8c-38 21.6-73.3 57.8-105.4 102.6c-49.1 68.5-91.1 157.7-123.8 247.1c-37.5 102.3-65.9 213.3-78.2 306.7c-9.2 70.4-9.6 132.2 2.9 178.9c8 29.9 20.8 52.1 37.5 69c19.4 19.6 45 33.2 78.1 42.8c28.9 8.4 93.9 23.5 266 23.5z"/>
<path fill="#e81e5c" stroke="#e81e5c" d="M679.4 1516.9c171.1 0 235.9-15.2 264.4-23.5c32.9-9.6 58.5-23.1 77.8-42.6c16.8-16.9 29.5-39.1 37.5-68.8c12.5-46.4 12.3-107.6 3.2-177.6c-12.1-92.9-40.4-203.3-77.7-305c-32.6-88.9-74.4-177.6-123.3-245.7c-32-44.6-67.2-80.6-105.1-102.1c-25.1-14.2-50.8-21.7-76.8-21.7c-26 0-51.7 7.5-76.8 21.7c-37.9 21.5-73.1 57.5-105.1 102.1c-48.9 68.1-90.7 156.8-123.3 245.7c-37.3 101.7-65.6 212.1-77.7 305c-9.1 70-9.3 131.2 3.2 177.6c8 29.7 20.7 51.9 37.5 68.8c19.3 19.5 44.9 33 77.8 42.6c28.5 8.3 93.3 23.5 264.4 23.5z"/>
<path fill="#e81e5b" stroke="#e81e5b" d="M679.4 1516.6c170.1 0 234.8-15.3 262.9-23.5c32.7-9.6 58.2-23.1 77.5-42.5c16.7-16.9 29.4-38.9 37.5-68.5c12.5-46.2 12.3-107.1 3.3-176.7c-12-92.4-40.1-202-77.1-302.9c-32.5-88.5-74.2-176.7-122.9-244.5c-28.8-40-64.1-78.5-104.7-101.5c-25-14.1-50.6-21.5-76.5-21.5c-25.9 0-51.5 7.4-76.5 21.5c-40.6 23-75.9 61.5-104.7 101.5c-48.7 67.8-90.4 156-122.9 244.5c-37 100.9-65.1 210.5-77.1 302.9c-9 69.6-9.2 130.5 3.3 176.7c8.1 29.6 20.8 51.6 37.5 68.5c19.3 19.4 44.8 32.9 77.5 42.5c28.1 8.2 92.8 23.5 262.9 23.5z"/>
<path fill="#e81f59" stroke="#e81f59" d="M679.4 1516.4c169.1 0 233.6-15.5 261.3-23.6c32.8-9.6 58.3-23.2 77.5-42.6c16.7-16.9 29.3-38.9 37.3-68.3c12.5-45.9 12.4-106.3 3.5-175.2c-11.9-91.8-39.8-200.8-76.7-301.2c-32.3-88.2-73.9-176.1-122.6-243.5c-31.7-43.9-66.5-79.5-104-100.6c-25-14.1-50.4-21.5-76.3-21.5c-25.9 0-51.3 7.4-76.3 21.5c-37.5 21.1-72.3 56.7-104 100.6c-48.7 67.4-90.3 155.3-122.6 243.5c-36.9 100.4-64.8 209.4-76.7 301.2c-8.9 68.9-9 129.3 3.5 175.2c8 29.4 20.6 51.4 37.3 68.3c19.2 19.4 44.7 33 77.5 42.6c27.7 8.1 92.2 23.6 261.3 23.6z"/>
<path fill="#e91f58" stroke="#e91f58" d="M679.4 1516.1c168.2 0 232.4-15.6 259.8-23.6c32.6-9.6 58-23.1 77.2-42.5c16.7-16.8 29.3-38.7 37.3-68.1c12.5-45.7 12.4-105.8 3.6-174.3c-11.7-91.4-39.5-199.8-76.3-299.7c-32.2-87.5-73.5-174.7-121.9-241.6c-31.6-43.8-66.3-79.1-103.7-100.1c-24.9-14-50.2-21.4-76-21.4c-25.8 0-51.1 7.4-76 21.4c-37.4 21-72.1 56.3-103.7 100.1c-48.4 66.9-89.7 154.1-121.9 241.6c-36.8 99.9-64.6 208.3-76.3 299.7c-8.8 68.5-8.9 128.6 3.6 174.3c8 29.4 20.6 51.3 37.3 68.1c19.2 19.4 44.6 32.9 77.2 42.5c27.4 8 91.6 23.6 259.8 23.6z"/>
<path fill="#e92056" stroke="#e92056" d="M679.4 1515.8c167.2 0 231.3-15.6 258.3-23.6c32.5-9.6 57.8-23.1 77-42.4c16.6-16.7 29.2-38.5 37.3-67.8c12.4-45.4 12.5-105 3.8-173c-11.6-90.9-39.3-198.8-75.9-298.2c-32-87-73.2-173.8-121.4-240.4c-31.5-43.5-66.1-78.6-103.4-99.5c-24.7-14-50-21.3-75.7-21.3c-25.7 0-51 7.3-75.7 21.3c-37.3 20.9-71.9 56-103.4 99.5c-48.2 66.6-89.4 153.4-121.4 240.4c-36.6 99.4-64.3 207.3-75.9 298.2c-8.7 68-8.6 127.6 3.8 173c8.1 29.3 20.7 51.1 37.3 67.8c19.2 19.3 44.5 32.8 77 42.4c27 8 91.1 23.6 258.3 23.6z"/>
<path fill="#e92055" stroke="#e92055" d="M679.4 1515.6c166.3 0 230.2-15.8 256.8-23.7c32.4-9.6 57.6-23.1 76.7-42.3c16.7-16.7 29.4-38.6 37.4-67.8c12.4-45.1 12.5-104.2 3.9-171.5c-11.4-90.5-38.9-197.8-75.3-296.6c-32-86.6-73-172.9-121-239.1c-31.4-43.3-65.9-78.3-103-99.1c-24.7-13.9-49.9-21.1-75.5-21.1c-25.6 0-50.8 7.2-75.5 21.1c-37.1 20.8-71.6 55.8-103 99.1c-48 66.2-89 152.5-121 239.1c-36.4 98.8-63.9 206.1-75.3 296.6c-8.6 67.3-8.5 126.4 3.9 171.5c8 29.2 20.7 51.1 37.4 67.8c19.1 19.2 44.3 32.7 76.7 42.3c26.6 7.9 90.5 23.7 256.8 23.7z"/>
<path fill="#e92153" stroke="#e92153" d="M679.4 1515.3c165.3 0 229.1-15.9 255.4-23.7c32.3-9.7 57.6-23.2 76.7-42.4c16.5-16.7 29.1-38.4 37.1-67.4c12.4-44.9 12.5-103.7 4-170.7c-11.3-90-38.7-196.8-75-295c-31.8-86.2-72.7-172-120.6-237.8c-28.1-38.6-62.6-75.9-102.4-98.2c-24.4-13.7-49.6-21-75.2-21c-25.6 0-50.8 7.3-75.2 21c-39.8 22.3-74.3 59.6-102.4 98.2c-47.9 65.8-88.8 151.6-120.6 237.8c-36.3 98.2-63.7 205-75 295c-8.5 67-8.4 125.8 4 170.7c8 29 20.6 50.7 37.1 67.4c19.1 19.2 44.4 32.7 76.7 42.4c26.3 7.8 90.1 23.7 255.4 23.7z"/>
<path fill="#ea2151" stroke="#ea2151" d="M679.4 1515c164.4 0 228-16 253.9-23.7c32.3-9.7 57.4-23.1 76.5-42.3c16.6-16.8 29.1-38.5 37.1-67.1c12.3-44.6 12.6-103 4.2-169.5c-11.2-89.6-38.5-195.8-74.6-293.5c-31.6-85.8-72.4-171.1-120.1-236.6c-31.1-42.7-65.3-77.1-102-97.7c-24.5-13.7-49.6-20.9-75-20.9c-25.4 0-50.5 7.2-75 20.9c-36.7 20.6-70.9 55-102 97.7c-47.7 65.5-88.5 150.8-120.1 236.6c-36.1 97.7-63.4 203.9-74.6 293.5c-8.4 66.5-8.1 124.9 4.2 169.5c8 28.6 20.5 50.3 37.1 67.1c19.1 19.2 44.2 32.6 76.5 42.3c25.9 7.7 89.5 23.7 253.9 23.7z"/>
<path fill="#ea2250" stroke="#ea2250" d="M679.4 1514.7c163.5 0 226.9-16.1 252.5-23.8c32.1-9.6 57.2-23 76.2-42.1c16.5-16.6 29.1-38.3 37.2-67.2c12.3-44.5 12.5-102.5 4.3-168.4c-11.2-89-38.2-194.5-74.1-291.6c-31.6-85.3-72.2-170.2-119.7-235.3c-31-42.5-65-76.8-101.7-97.2c-23.7-13.3-48.7-20.8-74.7-20.8c-26 0-51 7.5-74.7 20.8c-36.7 20.4-70.7 54.7-101.7 97.2c-47.5 65.1-88.1 150-119.7 235.3c-35.9 97.1-62.9 202.6-74.1 291.6c-8.2 65.9-8 123.9 4.3 168.4c8.1 28.9 20.7 50.6 37.2 67.2c19 19.1 44.1 32.5 76.2 42.1c25.6 7.7 89 23.8 252.5 23.8z"/>
<path fill="#ea234f" stroke="#ea234f" d="M679.4 1514.5c162.2 0 225.5-16.2 250.6-23.7c32.2-9.6 57.4-23.1 76.4-42.2c16.5-16.6 29.1-38.1 37.2-66.9c12.3-44.2 12.6-101.8 4.5-167.2c-11-88.6-37.9-193.6-73.7-290.2c-31.4-84.8-71.8-169.3-119.2-234.1c-30.8-42.3-64.8-76.4-101.3-96.7c-24.3-13.6-49.2-20.7-74.5-20.7c-25.3 0-50.2 7.1-74.5 20.7c-36.5 20.3-70.5 54.4-101.3 96.7c-47.4 64.8-87.8 149.3-119.2 234.1c-35.8 96.6-62.7 201.6-73.7 290.2c-8.1 65.4-7.8 123 4.5 167.2c8.1 28.8 20.7 50.3 37.2 66.9c19 19.1 44.2 32.6 76.4 42.2c25.1 7.5 88.4 23.7 250.6 23.7z"/>
<path fill="#ea234e" stroke="#ea234e" d="M679.4 1514.2c161.3 0 224.4-16.3 249.3-23.7c32.2-9.7 57.3-23.2 76.3-42.3c16.4-16.5 28.9-38 36.9-66.5c12.4-44 12.7-101.4 4.6-166.4c-10.9-88.3-37.7-192.7-73.3-288.7c-31.3-84.5-71.6-168.5-118.8-232.9c-27.5-37.6-61.5-74-100.8-95.9c-24.2-13.5-49-20.6-74.2-20.6c-25.2 0-50 7.1-74.2 20.6c-39.3 21.9-73.3 58.3-100.8 95.9c-47.2 64.4-87.5 148.4-118.8 232.9c-35.6 96-62.4 200.4-73.3 288.7c-8.1 65-7.8 122.4 4.6 166.4c8 28.5 20.5 50 36.9 66.5c19 19.1 44.1 32.6 76.3 42.3c24.9 7.4 88 23.7 249.3 23.7z"/>
<path fill="#eb244d" stroke="#eb244d" d="M679.4 1513.9c160.4 0 223.4-16.3 248-23.7c32-9.7 57-23.1 76-42.2c16.4-16.6 29-38 37-66.6c12.2-43.7 12.6-100.5 4.7-164.9c-10.8-87.8-37.5-191.7-72.9-287.3c-31.2-84-71.3-167.6-118.4-231.7c-27.4-37.3-61.3-73.6-100.4-95.4c-24.2-13.4-48.9-20.5-74-20.5c-25.1 0-49.8 7.1-74 20.5c-39.1 21.8-73 58.1-100.4 95.4c-47.1 64.1-87.2 147.7-118.4 231.7c-35.4 95.6-62.1 199.5-72.9 287.3c-7.9 64.4-7.5 121.2 4.7 164.9c8 28.6 20.6 50 37 66.6c19 19.1 44 32.5 76 42.2c24.6 7.4 87.6 23.7 248 23.7z"/>
<path fill="#eb244c" stroke="#eb244c" d="M679.4 1513.6c159.6 0 222.4-16.4 246.6-23.7c31.9-9.7 56.9-23.1 75.8-42.1c16.4-16.5 28.9-37.9 36.9-66.3c12.3-43.7 12.7-100.2 4.9-164.3c-10.7-87.2-37.2-190.5-72.4-285.4c-31.1-83.6-71.1-166.7-118-230.5c-30.5-41.5-64-75-100-95c-23.5-13-48.2-20.3-73.8-20.3c-25.6 0-50.3 7.3-73.8 20.3c-36 20-69.5 53.5-100 95c-46.9 63.8-86.9 146.9-118 230.5c-35.2 94.9-61.7 198.2-72.4 285.4c-7.8 64.1-7.4 120.6 4.9 164.3c8 28.4 20.5 49.8 36.9 66.3c18.9 19 43.9 32.4 75.8 42.1c24.2 7.3 87 23.7 246.6 23.7z"/>
<path fill="#eb254b" stroke="#eb254b" d="M679.4 1513.4c158.7 0 221.4-16.6 245.3-23.9c31.8-9.6 56.7-23 75.5-41.9c16.4-16.5 28.9-37.8 36.9-66.1c12.3-43.3 12.8-99.5 5-163.1c-10.5-86.9-36.9-189.6-71.9-284c-30.9-83.2-70.8-165.9-117.5-229.4c-30.4-41.3-63.9-74.6-99.8-94.5c-24-13.3-48.6-20.2-73.5-20.2c-24.9 0-49.5 6.9-73.5 20.2c-35.9 19.9-69.4 53.2-99.8 94.5c-46.7 63.5-86.6 146.2-117.5 229.4c-35 94.4-61.4 197.1-71.9 284c-7.8 63.6-7.3 119.8 5 163.1c8 28.3 20.5 49.6 36.9 66.1c18.8 18.9 43.7 32.3 75.5 41.9c23.9 7.3 86.6 23.9 245.3 23.9z"/>
<path fill="#eb254a" stroke="#eb254a" d="M679.4 1513.1c102.4 0 188.3-6.9 244.1-23.9c31.6-9.6 56.3-23 75.2-41.9c16.3-16.3 28.8-37.6 36.8-65.8c12.3-43.2 12.9-99.1 5.2-162.4c-10.5-86.5-36.8-188.7-71.7-282.6c-30.8-82.8-70.6-165.1-117.1-228.1c-30.3-41-63.5-74-99.2-93.7c-23.9-13.2-48.4-20.2-73.3-20.2c-24.9 0-49.4 7-73.3 20.2c-35.7 19.7-68.9 52.7-99.2 93.7c-46.5 63-86.3 145.3-117.1 228.1c-34.9 93.9-61.2 196.1-71.7 282.6c-7.7 63.3-7.1 119.2 5.2 162.4c8 28.2 20.5 49.5 36.8 65.8c18.9 18.9 43.6 32.3 75.2 41.9c55.8 17 141.7 23.9 244.1 23.9z"/>
<path fill="#eb2649" stroke="#eb2649" d="M679.4 1512.8c98.1 0 185.3-6.4 242.3-23.7c31.9-9.7 56.8-23.2 75.6-42.2c16.3-16.4 28.8-37.6 36.7-65.7c12.2-42.9 12.8-98.3 5.3-160.9c-10.4-86.1-36.5-187.8-71.3-281.3c-30.7-82.4-70.3-164.2-116.7-227c-30.1-40.7-63.3-73.6-98.9-93.2c-23.5-13-47.9-20.1-73-20.1c-25.1 0-49.5 7.1-73 20.1c-35.6 19.6-68.8 52.5-98.9 93.2c-46.4 62.8-86 144.6-116.7 227c-34.8 93.5-60.9 195.2-71.3 281.3c-7.5 62.6-6.9 118 5.3 160.9c7.9 28.1 20.4 49.3 36.7 65.7c18.8 19 43.7 32.5 75.6 42.2c57 17.3 144.2 23.7 242.3 23.7z"/>
<path fill="#ec2648" stroke="#ec2648" d="M679.4 1512.5c95.8 0 183.6-6.2 241.1-23.8c31.7-9.6 56.5-23.1 75.3-42c16.2-16.3 28.7-37.5 36.7-65.5c12.2-42.8 12.8-98 5.3-160.3c-10.3-85.5-36.2-186.5-70.8-279.4c-30.5-82-70-163.5-116.2-225.9c-30.1-40.5-63.1-73.3-98.6-92.8c-23.8-13.1-48.1-20-72.8-20c-24.7 0-49 6.9-72.8 20c-35.5 19.5-68.5 52.3-98.6 92.8c-46.2 62.4-85.7 143.9-116.2 225.9c-34.6 92.9-60.5 193.9-70.8 279.4c-7.5 62.3-6.9 117.5 5.3 160.3c8 28 20.5 49.2 36.7 65.5c18.8 18.9 43.6 32.4 75.3 42c57.5 17.6 145.3 23.8 241.1 23.8z"/>
<path fill="#ec2747" stroke="#ec2747" d="M679.4 1512.2c93.8 0 181.9-6 239.8-23.8c31.6-9.6 56.3-23.1 75.1-41.9c16.2-16.3 28.6-37.4 36.6-65.3c12.2-42.5 12.9-97.3 5.5-159.1c-10.1-85.3-36-186.1-70.5-278.6c-30.4-81.4-69.7-162.3-115.7-224.3c-29.9-40.4-62.8-72.9-98.2-92.4c-23.8-13.1-48-19.9-72.6-19.9c-24.6 0-48.8 6.8-72.6 19.9c-35.4 19.5-68.3 52-98.2 92.4c-46 62-85.3 142.9-115.7 224.3c-34.5 92.5-60.4 193.3-70.5 278.6c-7.4 61.8-6.7 116.6 5.5 159.1c8 27.9 20.4 49 36.6 65.3c18.8 18.8 43.5 32.3 75.1 41.9c57.9 17.8 146 23.8 239.8 23.8z"/>
<path fill="#ec2746" stroke="#ec2746" d="M679.4 1512c91.9 0 180.4-6 238.6-23.9c31.5-9.7 56.1-23 74.8-41.8c16.2-16.3 28.6-37.3 36.6-65c12.2-42.4 12.9-97 5.6-158.6c-10.1-84.7-35.8-184.8-70.1-276.7c-30.3-81.1-69.4-161.6-115.2-223.3c-29.9-40.2-62.7-72.6-97.9-92c-23.7-12.9-47.9-19.7-72.4-19.7c-24.5 0-48.7 6.8-72.4 19.7c-35.2 19.4-68 51.8-97.9 92c-45.8 61.7-84.9 142.2-115.2 223.3c-34.3 91.9-60 192-70.1 276.7c-7.3 61.6-6.6 116.2 5.6 158.6c8 27.7 20.4 48.7 36.6 65c18.7 18.8 43.3 32.1 74.8 41.8c58.2 17.9 146.7 23.9 238.6 23.9z"/>
<path fill="#ec2844" stroke="#ec2844" d="M679.4 1511.7c89.5 0 178.3-5.8 236.9-23.8c31.6-9.6 56.3-23 75-41.9c16.2-16.2 28.7-37.2 36.7-65.1c12.1-42.1 12.8-96.2 5.6-157.1c-9.9-84.4-35.5-184-69.7-275.4c-30.2-80.9-69.2-161.1-115-222.6c-29.7-39.8-62.3-71.9-97.4-91.1c-23.6-13-47.6-19.7-72.1-19.7c-24.5 0-48.5 6.7-72.1 19.7c-35.1 19.2-67.7 51.3-97.4 91.1c-45.8 61.5-84.8 141.7-115 222.6c-34.2 91.4-59.8 191-69.7 275.4c-7.2 60.9-6.5 115 5.6 157.1c8 27.9 20.5 48.9 36.7 65.1c18.7 18.9 43.4 32.3 75 41.9c58.6 18 147.4 23.8 236.9 23.8z"/>
<path fill="#ed2843" stroke="#ed2843" d="M679.4 1511.4c88 0 176.9-5.6 235.8-23.8c31.4-9.6 56-23 74.6-41.8c16.2-16.2 28.7-37.1 36.7-64.9c12.1-42 12.8-95.9 5.7-156.4c-9.9-83.9-35.3-182.9-69.2-273.8c-30.1-80.4-69-160.3-114.7-221.4c-26.3-35.3-59-70-97-90.8c-23.5-12.8-47.5-19.6-71.9-19.6c-24.4 0-48.4 6.8-71.9 19.6c-38 20.8-70.7 55.5-97 90.8c-45.7 61.1-84.6 141-114.7 221.4c-33.9 90.9-59.3 189.9-69.2 273.8c-7.1 60.5-6.4 114.4 5.7 156.4c8 27.8 20.5 48.7 36.7 64.9c18.6 18.8 43.2 32.2 74.6 41.8c58.9 18.2 147.8 23.8 235.8 23.8z"/>
<path fill="#ed2942" stroke="#ed2942" d="M679.4 1511.1c86.6 0 175.5-5.5 234.6-23.8c31.3-9.7 55.8-23 74.4-41.7c16.1-16.2 28.6-37 36.6-64.7c12.1-41.7 12.9-95.2 5.9-155.4c-9.8-83.6-35.1-182.3-69.1-272.8c-29.9-80-68.6-159.3-114-220c-26.2-35.1-58.8-69.6-96.7-90.4c-23.5-12.8-47.4-19.5-71.7-19.5c-24.3 0-48.2 6.7-71.7 19.5c-37.9 20.8-70.5 55.3-96.7 90.4c-45.4 60.7-84.1 140-114 220c-34 90.5-59.3 189.2-69.1 272.8c-7 60.2-6.2 113.7 5.9 155.4c8 27.7 20.5 48.5 36.6 64.7c18.6 18.7 43.1 32 74.4 41.7c59.1 18.3 148 23.8 234.6 23.8z"/>
<path fill="#ed2941" stroke="#ed2941" d="M679.4 1510.8c85.2 0 174.2-5.4 233.5-23.8c31.1-9.7 55.5-23 74.1-41.6c16.1-16.1 28.5-37 36.5-64.5c12.1-41.6 12.9-94.9 6-154.7c-9.7-83.2-34.9-181.2-68.6-271.2c-29.8-79.6-68.4-158.5-113.6-219c-29.4-39.3-61.7-70.9-96.4-89.9c-23.3-12.7-47.2-19.4-71.5-19.4c-24.3 0-48.2 6.7-71.5 19.4c-34.7 19-67 50.6-96.4 89.9c-45.2 60.5-83.8 139.4-113.6 219c-33.7 90-58.9 188-68.6 271.2c-6.9 59.8-6.1 113.1 6 154.7c8 27.5 20.4 48.4 36.5 64.5c18.6 18.6 43 31.9 74.1 41.6c59.3 18.4 148.3 23.8 233.5 23.8z"/>
<path fill="#ed2a40" stroke="#ed2a40" d="M679.4 1510.5c83.3 0 172.4-5.3 231.9-23.7c31.3-9.7 55.8-23.1 74.5-41.9c15.9-16 28.2-36.7 36.2-64c12.2-41.5 13-94.6 6.1-154.1c-9.6-82.7-34.6-180.1-68.1-269.5c-29.7-79.2-68.2-157.8-113.2-218c-29.3-39.1-61.6-70.6-96.2-89.4c-23.3-12.7-47-19.4-71.2-19.4c-24.2 0-47.9 6.7-71.2 19.4c-34.6 18.8-66.9 50.3-96.2 89.4c-45 60.2-83.5 138.8-113.2 218c-33.5 89.4-58.5 186.8-68.1 269.5c-6.9 59.5-6.1 112.6 6.1 154.1c8 27.3 20.3 48 36.2 64c18.7 18.8 43.2 32.2 74.5 41.9c59.5 18.4 148.6 23.7 231.9 23.7z"/>
<path fill="#ed2a3f" stroke="#ed2a3f" d="M679.4 1510.3c82.2 0 171.2-5.3 230.7-23.8c31.2-9.7 55.7-23.1 74.3-41.8c15.9-16.1 28.3-36.8 36.3-64.1c12-41.3 12.9-93.9 6.1-152.8c-9.5-82.3-34.4-179.3-67.8-268.2c-29.6-79-68-157.3-113-217.3c-29.1-38.8-61.2-70-95.6-88.7c-23.2-12.7-46.9-19.3-71-19.3c-24.1 0-47.8 6.6-71 19.3c-34.4 18.7-66.5 49.9-95.6 88.7c-45 60-83.4 138.3-113 217.3c-33.4 88.9-58.3 185.9-67.8 268.2c-6.8 58.9-5.9 111.5 6.1 152.8c8 27.3 20.4 48 36.3 64.1c18.6 18.7 43.1 32.1 74.3 41.8c59.5 18.5 148.5 23.8 230.7 23.8z"/>
<path fill="#ee2b3e" stroke="#ee2b3e" d="M679.4 1510c81 0 170-5.2 229.7-23.9c31-9.6 55.3-23 73.9-41.6c15.9-16.1 28.2-36.7 36.2-63.9c12.1-41.2 13-93.6 6.2-152.2c-9.4-82-34.2-178.5-67.4-267c-29.5-78.5-67.7-156.3-112.5-215.8c-29.1-38.6-61-69.7-95.3-88.4c-23.1-12.5-46.8-19.1-70.8-19.1c-24 0-47.7 6.6-70.8 19.1c-34.3 18.7-66.2 49.8-95.3 88.4c-44.8 59.5-83 137.3-112.5 215.8c-33.2 88.5-58 185-67.4 267c-6.8 58.6-5.9 111 6.2 152.2c8 27.2 20.3 47.8 36.2 63.9c18.6 18.6 42.9 32 73.9 41.6c59.7 18.7 148.7 23.9 229.7 23.9z"/>
<path fill="#ee2b3d" stroke="#ee2b3d" d="M679.4 1509.7c79.9 0 168.8-5.2 228.6-23.9c30.9-9.7 55.1-23 73.6-41.5c15.9-16 28.2-36.6 36.2-63.7c12-40.9 13-93 6.3-151.2c-9.3-81.6-33.9-177.7-67.1-265.8c-29.3-78.1-67.4-155.5-112-214.8c-29-38.4-60.8-69.4-95-87.9c-23.1-12.6-46.7-19.1-70.6-19.1c-23.9 0-47.5 6.5-70.6 19.1c-34.2 18.5-66 49.5-95 87.9c-44.6 59.3-82.7 136.7-112 214.8c-33.2 88.1-57.8 184.2-67.1 265.8c-6.7 58.2-5.7 110.3 6.3 151.2c8 27.1 20.3 47.7 36.2 63.7c18.5 18.5 42.7 31.8 73.6 41.5c59.8 18.7 148.7 23.9 228.6 23.9z"/>
<path fill="#ee2c3c" stroke="#ee2c3c" d="M679.4 1509.4c78.4 0 167.1-5 227-23.8c31-9.6 55.3-23 73.8-41.6c15.9-15.9 28.2-36.4 36.2-63.5c12-40.7 13-92.6 6.4-150.5c-9.2-81.2-33.7-176.6-66.7-264.2c-29.2-77.7-67.1-154.8-111.6-213.8c-28.9-38.3-60.7-69.1-94.7-87.6c-22.5-12.1-46-18.9-70.4-18.9c-24.4 0-47.9 6.8-70.4 18.9c-34 18.5-65.8 49.3-94.7 87.6c-44.5 59-82.4 136.1-111.6 213.8c-33 87.6-57.5 183-66.7 264.2c-6.6 57.9-5.6 109.8 6.4 150.5c8 27.1 20.3 47.6 36.2 63.5c18.5 18.6 42.8 32 73.8 41.6c59.9 18.8 148.6 23.8 227 23.8z"/>
<path fill="#ee2c3c" stroke="#ee2c3c" d="M679.4 1509.1c77.4 0 166.1-5 226-23.8c30.8-9.7 55-23 73.4-41.5c15.9-15.9 28.2-36.4 36.1-63.3c12.1-40.5 13.1-92.1 6.6-149.6c-9.1-80.8-33.5-175.8-66.3-262.9c-29.1-77.4-66.9-154.1-111.3-212.8c-28.7-38.1-60.4-68.8-94.3-87.2c-22.9-12.3-46.3-18.9-70.2-18.9c-23.9 0-47.3 6.6-70.2 18.9c-33.9 18.4-65.6 49.1-94.3 87.2c-44.4 58.7-82.2 135.4-111.3 212.8c-32.8 87.1-57.2 182.1-66.3 262.9c-6.5 57.5-5.5 109.1 6.6 149.6c7.9 26.9 20.2 47.4 36.1 63.3c18.4 18.5 42.6 31.8 73.4 41.5c59.9 18.8 148.6 23.8 226 23.8z"/>
<path fill="#ee2d3b" stroke="#ee2d3b" d="M679.4 1508.8c76.4 0 165-4.9 224.9-23.8c30.7-9.7 54.8-23 73.2-41.4c15.9-16 28.2-36.5 36.1-63.4c12-40.4 13-91.7 6.6-148.7c-9-80.5-33.3-175-66-261.8c-29-76.9-66.6-153.1-110.8-211.4c-28.6-38-60.2-68.5-94.1-86.8c-22.8-12.3-46.2-18.8-69.9-18.8c-23.7 0-47.1 6.5-69.9 18.8c-33.9 18.3-65.5 48.8-94.1 86.8c-44.2 58.3-81.8 134.5-110.8 211.4c-32.7 86.8-57 181.3-66 261.8c-6.4 57-5.4 108.3 6.6 148.7c7.9 26.9 20.2 47.4 36.1 63.4c18.4 18.4 42.5 31.7 73.2 41.4c59.9 18.9 148.5 23.8 224.9 23.8z"/>
<path fill="#ee2d3a" stroke="#ee2d3a" d="M679.4 1508.5c75.1 0 163.4-4.8 223.4-23.7c30.8-9.7 55-23 73.4-41.5c15.8-15.9 28.1-36.3 36-63.2c12-40.1 13.1-91 6.7-147.7c-8.9-80.1-33.1-174.2-65.6-260.5c-28.9-76.7-66.5-152.7-110.6-210.8c-28.5-37.6-59.9-67.9-93.6-86.1c-22.7-12.2-45.9-18.7-69.7-18.7c-23.8 0-47 6.5-69.7 18.7c-33.7 18.2-65.1 48.5-93.6 86.1c-44.1 58.1-81.7 134.1-110.6 210.8c-32.5 86.3-56.7 180.4-65.6 260.5c-6.4 56.7-5.3 107.6 6.7 147.7c7.9 26.9 20.2 47.3 36 63.2c18.4 18.5 42.6 31.8 73.4 41.5c60 18.9 148.3 23.7 223.4 23.7z"/>
<path fill="#ee2e3a" stroke="#ee2e3a" d="M679.4 1508.2c74.2 0 162.4-4.8 222.4-23.7c30.6-9.7 54.7-23 73-41.4c15.8-15.9 28.1-36.2 36.1-63c11.9-40.1 13-90.8 6.7-147.1c-8.8-79.7-32.8-173.2-65.2-259c-28.8-76.4-66.3-152-110.2-209.9c-28.4-37.4-59.7-67.6-93.3-85.6c-22.7-12.3-45.9-18.7-69.5-18.7c-23.6 0-46.8 6.4-69.5 18.7c-33.6 18-64.9 48.2-93.3 85.6c-43.9 57.9-81.4 133.5-110.2 209.9c-32.4 85.8-56.4 179.3-65.2 259c-6.3 56.3-5.2 107 6.7 147.1c8 26.8 20.3 47.1 36.1 63c18.3 18.4 42.4 31.7 73 41.4c60 18.9 148.2 23.7 222.4 23.7z"/>
<path fill="#ee2e39" stroke="#ee2e39" d="M679.4 1507.9c73.3 0 161.4-4.7 221.4-23.8c30.5-9.6 54.5-22.9 72.7-41.2c15.8-15.9 28-36.2 36-62.8c11.9-39.9 13.1-90.2 6.9-146.2c-8.8-79.4-32.7-172.7-65.1-258.2c-28.6-75.9-65.9-151-109.6-208.5c-28.3-37.3-59.5-67.3-93-85.3c-22.6-12.2-45.8-18.6-69.3-18.6c-23.5 0-46.7 6.4-69.3 18.6c-33.5 18-64.7 48-93 85.3c-43.7 57.5-81 132.6-109.6 208.5c-32.4 85.5-56.3 178.8-65.1 258.2c-6.2 56-5 106.3 6.9 146.2c8 26.6 20.2 46.9 36 62.8c18.2 18.3 42.2 31.6 72.7 41.2c60 19.1 148.1 23.8 221.4 23.8z"/>
<path fill="#ee2e39" stroke="#ee2e39" d="M679.4 1507.6c72.1 0 159.9-4.6 219.9-23.6c30.6-9.7 54.6-23 72.9-41.4c15.8-15.8 28-36 35.9-62.6c12-39.7 13.1-89.9 7-145.6c-8.7-79-32.5-171.7-64.6-256.7c-28.6-75.5-65.7-150.3-109.3-207.5c-28.2-37-59.2-66.9-92.5-84.8c-22.6-12.2-45.8-18.6-69.3-18.6c-23.5 0-46.7 6.4-69.3 18.6c-33.3 17.9-64.3 47.8-92.5 84.8c-43.6 57.2-80.7 132-109.3 207.5c-32.1 85-55.9 177.7-64.6 256.7c-6.1 55.7-5 105.9 7 145.6c7.9 26.6 20.1 46.8 35.9 62.6c18.3 18.4 42.3 31.7 72.9 41.4c60 19 147.8 23.6 219.9 23.6z"/>
<path fill="#ee2f38" stroke="#ee2f38" d="M679.4 1507.4c71.3 0 158.9-4.7 218.9-23.8c30.5-9.7 54.4-22.9 72.6-41.2c15.7-15.8 27.9-35.9 35.9-62.4c11.9-39.7 13.1-89.7 7-145c-8.6-78.6-32.3-170.7-64.2-255.2c-28.4-75.2-65.4-149.6-108.9-206.6c-28.1-36.9-59-66.6-92.2-84.4c-22.6-12.2-45.6-18.5-69.1-18.5c-23.5 0-46.5 6.3-69.1 18.5c-33.2 17.8-64.1 47.5-92.2 84.4c-43.5 57-80.5 131.4-108.9 206.6c-31.9 84.5-55.6 176.6-64.2 255.2c-6.1 55.3-4.9 105.3 7 145c8 26.5 20.2 46.6 35.9 62.4c18.2 18.3 42.1 31.5 72.6 41.2c60 19.1 147.6 23.8 218.9 23.8z"/>
<path fill="#ef2f38" stroke="#ef2f38" d="M679.4 1507.1c70.6 0 158-4.6 218-23.8c30.3-9.7 54.1-22.9 72.3-41.2c15.6-15.7 27.8-35.8 35.8-62.1c11.9-39.5 13.1-89.2 7.1-144.1c-8.5-78.3-32.1-170-63.9-254.1c-28.3-74.8-65.2-148.9-108.5-205.7c-28-36.7-58.8-66.2-91.9-84c-22.5-12.1-45.5-18.4-68.9-18.4c-23.4 0-46.4 6.3-68.9 18.4c-33.1 17.8-63.9 47.3-91.9 84c-43.3 56.8-80.2 130.9-108.5 205.7c-31.8 84.1-55.4 175.8-63.9 254.1c-6 54.9-4.8 104.6 7.1 144.1c8 26.3 20.2 46.4 35.8 62.1c18.2 18.3 42 31.5 72.3 41.2c60 19.2 147.4 23.8 218 23.8z"/>
<path fill="#ef3037" stroke="#ef3037" d="M679.4 1506.8c69.4 0 156.5-4.6 216.6-23.7c30.3-9.7 54.2-23 72.4-41.2c15.7-15.7 27.9-35.9 35.8-62.3c11.8-39.3 13.1-88.7 7.1-143.2c-8.4-78-31.9-169.3-63.6-252.9c-28.2-74.6-65-148.3-108.2-204.7c-27.8-36.4-58.5-65.8-91.4-83.4c-22.4-12-45.4-18.3-68.7-18.3c-23.3 0-46.3 6.3-68.7 18.3c-32.9 17.6-63.6 47-91.4 83.4c-43.2 56.4-80 130.1-108.2 204.7c-31.7 83.6-55.2 174.9-63.6 252.9c-6 54.5-4.7 103.9 7.1 143.2c7.9 26.4 20.1 46.6 35.8 62.3c18.2 18.2 42.1 31.5 72.4 41.2c60.1 19.1 147.2 23.7 216.6 23.7z"/>
<path fill="#ef3037" stroke="#ef3037" d="M679.4 1506.5c68.7 0 155.6-4.5 215.6-23.7c30.2-9.7 54-23 72.1-41.1c15.7-15.7 27.9-35.8 35.8-62.2c11.8-39 13.1-88.1 7.2-142.3c-8.3-77.5-31.7-168.5-63.2-251.7c-28.2-74.3-64.8-147.7-107.8-203.8c-27.8-36.3-58.4-65.5-91.2-83c-22.4-12-45.3-18.3-68.5-18.3c-23.2 0-46.1 6.3-68.5 18.3c-32.8 17.5-63.4 46.7-91.2 83c-43 56.1-79.6 129.5-107.8 203.8c-31.5 83.2-54.9 174.2-63.2 251.7c-5.9 54.2-4.6 103.3 7.2 142.3c7.9 26.4 20.1 46.5 35.8 62.2c18.1 18.1 41.9 31.4 72.1 41.1c60 19.2 146.9 23.7 215.6 23.7z"/>
<path fill="#ef3136" stroke="#ef3136" d="M679.4 1506.2c67.7 0 154.3-4.5 214.2-23.6c30.3-9.7 54.1-23 72.3-41.2c15.6-15.6 27.7-35.7 35.7-61.9c11.8-39 13.1-87.9 7.3-141.8c-8.3-77.1-31.5-167.5-62.9-250.3c-28-73.9-64.5-146.9-107.4-202.8c-27.7-36.1-58.2-65.2-90.9-82.7c-22-11.7-44.8-18.2-68.3-18.2c-23.5 0-46.3 6.5-68.3 18.2c-32.7 17.5-63.2 46.6-90.9 82.7c-42.9 55.9-79.4 128.9-107.4 202.8c-31.4 82.8-54.6 173.2-62.9 250.3c-5.8 53.9-4.5 102.8 7.3 141.8c8 26.2 20.1 46.3 35.7 61.9c18.2 18.2 42 31.5 72.3 41.2c59.9 19.1 146.5 23.6 214.2 23.6z"/>
<path fill="#ef3135" stroke="#ef3135" d="M679.4 1505.9c67 0 153.4-4.4 213.3-23.7c30.1-9.7 53.8-22.9 71.9-41c15.6-15.7 27.7-35.6 35.7-61.8c11.8-38.7 13.1-87.3 7.4-140.8c-8.2-76.8-31.3-166.8-62.5-249.2c-28-73.6-64.3-146.3-107.1-202c-27.6-35.9-58-64.9-90.6-82.3c-22.2-11.8-44.9-18.1-68.1-18.1c-23.2 0-45.9 6.3-68.1 18.1c-32.6 17.4-63 46.4-90.6 82.3c-42.8 55.7-79.1 128.4-107.1 202c-31.2 82.4-54.3 172.4-62.5 249.2c-5.7 53.5-4.4 102.1 7.4 140.8c8 26.2 20.1 46.1 35.7 61.8c18.1 18.1 41.8 31.3 71.9 41c59.9 19.3 146.3 23.7 213.3 23.7z"/>
<path fill="#ef3135" stroke="#ef3135" d="M679.4 1505.6c66.4 0 152.5-4.4 212.4-23.7c30-9.7 53.6-22.9 71.6-41c15.6-15.6 27.7-35.5 35.6-61.5c11.8-38.7 13.1-87.1 7.5-140.3c-8.2-76.6-31.2-166.1-62.3-248.2c-27.8-73.1-64-145.3-106.6-200.7c-27.5-35.7-57.8-64.6-90.3-81.9c-22.2-11.8-44.9-18-67.9-18c-23 0-45.7 6.2-67.9 18c-32.5 17.3-62.8 46.2-90.3 81.9c-42.6 55.4-78.8 127.6-106.6 200.7c-31.1 82.1-54.1 171.6-62.3 248.2c-5.6 53.2-4.3 101.6 7.5 140.3c7.9 26 20 45.9 35.6 61.5c18 18.1 41.6 31.3 71.6 41c59.9 19.3 146 23.7 212.4 23.7z"/>
<path fill="#ef3234" stroke="#ef3234" d="M679.4 1505.3c65.4 0 151.2-4.3 211-23.6c30.1-9.7 53.7-22.9 71.8-41c15.5-15.6 27.6-35.4 35.5-61.4c11.8-38.5 13.1-86.8 7.5-139.8c-8-76.1-30.9-165.1-61.9-246.6c-27.7-72.8-63.7-144.8-106.1-199.8c-27.5-35.7-57.7-64.4-90.1-81.6c-22.1-11.8-44.7-18-67.7-18c-23 0-45.6 6.2-67.7 18c-32.4 17.2-62.6 45.9-90.1 81.6c-42.4 55-78.4 127-106.1 199.8c-31 81.5-53.9 170.5-61.9 246.6c-5.6 53-4.3 101.3 7.5 139.8c7.9 26 20 45.8 35.5 61.4c18.1 18.1 41.7 31.3 71.8 41c59.8 19.3 145.6 23.6 211 23.6z"/>
<path fill="#ef3234" stroke="#ef3234" d="M679.4 1505c64.8 0 150.4-4.3 210.1-23.6c29.9-9.7 53.5-22.9 71.5-41c15.4-15.5 27.5-35.3 35.4-61.1c11.8-38.4 13.2-86.3 7.7-138.9c-8-75.8-30.7-164.4-61.6-245.6c-27.6-72.6-63.7-144.4-106-199.2c-27.3-35.4-57.4-63.9-89.6-81c-21.8-11.6-44.4-17.9-67.5-17.9c-23.1 0-45.7 6.3-67.5 17.9c-32.2 17.1-62.3 45.6-89.6 81c-42.3 54.8-78.4 126.6-106 199.2c-30.9 81.2-53.6 169.8-61.6 245.6c-5.5 52.6-4.1 100.5 7.7 138.9c7.9 25.8 20 45.6 35.4 61.1c18 18.1 41.6 31.3 71.5 41c59.7 19.3 145.3 23.6 210.1 23.6z"/>
<path fill="#ef3333" stroke="#ef3333" d="M679.4 1504.7c63.9 0 149.1-4.3 208.8-23.5c30-9.7 53.6-23 71.6-41c15.4-15.5 27.4-35.3 35.4-61c11.7-38.3 13.1-86 7.7-138.4c-7.9-75.4-30.5-163.4-61.2-244.1c-27.6-72.3-63.5-143.8-105.7-198.4c-27.2-35.2-57.2-63.5-89.3-80.6c-22-11.7-44.5-17.8-67.3-17.8c-22.8 0-45.3 6.1-67.3 17.8c-32.1 17.1-62.1 45.4-89.3 80.6c-42.2 54.6-78.1 126.1-105.7 198.4c-30.7 80.7-53.3 168.7-61.2 244.1c-5.4 52.4-4 100.1 7.7 138.4c8 25.7 20 45.5 35.4 61c18 18 41.6 31.3 71.6 41c59.7 19.2 144.9 23.5 208.8 23.5z"/>
<path fill="#ef3333" stroke="#ef3333" d="M679.4 1504.4c63.3 0 148.3-4.3 207.9-23.6c29.9-9.7 53.3-22.9 71.3-40.9c15.4-15.4 27.4-35.1 35.3-60.8c11.7-38 13.2-85.5 7.8-137.4c-7.8-75.3-30.4-163.1-61-243.5c-27.4-71.9-63.1-142.9-105.2-197.1c-27.1-35.1-56.9-63.3-89-80.3c-21.9-11.6-44.3-17.7-67.1-17.7c-22.8 0-45.2 6.1-67.1 17.7c-32.1 17-61.9 45.2-89 80.3c-42.1 54.2-77.8 125.2-105.2 197.1c-30.6 80.4-53.2 168.2-61 243.5c-5.4 51.9-3.9 99.4 7.8 137.4c7.9 25.7 19.9 45.4 35.3 60.8c18 18 41.4 31.2 71.3 40.9c59.6 19.3 144.6 23.6 207.9 23.6z"/>
<path fill="#ef3332" stroke="#ef3332" d="M679.4 1504.1c62.8 0 147.5-4.2 207-23.6c29.7-9.7 53.1-22.9 71-40.8c15.4-15.5 27.4-35.2 35.3-60.9c11.7-38 13.1-85.2 7.8-136.7c-7.7-74.8-30.2-162.1-60.6-242.1c-27.3-71.5-62.9-142.2-104.8-196.2c-27.1-34.9-56.8-63-88.8-79.9c-21.7-11.6-44.1-17.7-66.9-17.7c-22.8 0-45.2 6.1-66.9 17.7c-32 16.9-61.7 45-88.8 79.9c-41.9 54-77.5 124.7-104.8 196.2c-30.4 80-52.9 167.3-60.6 242.1c-5.3 51.5-3.9 98.7 7.8 136.7c7.9 25.7 19.9 45.4 35.3 60.9c17.9 17.9 41.3 31.1 71 40.8c59.5 19.4 144.2 23.6 207 23.6z"/>
<path fill="#ef3432" stroke="#ef3432" d="M679.4 1503.8c61.9 0 146.2-4.2 205.7-23.5c29.7-9.7 53-22.8 70.9-40.7c15.5-15.4 27.6-35.2 35.5-60.9c11.6-37.9 13.1-84.9 7.8-136.2c-7.7-74.4-30-161.1-60.3-240.6c-27.1-71.3-62.6-141.6-104.4-195.4c-27-34.8-56.6-62.8-88.5-79.6c-21.8-11.5-44.1-17.6-66.7-17.6c-22.6 0-44.9 6.1-66.7 17.6c-31.9 16.8-61.5 44.8-88.5 79.6c-41.8 53.8-77.3 124.1-104.4 195.4c-30.3 79.5-52.6 166.2-60.3 240.6c-5.3 51.3-3.8 98.3 7.8 136.2c7.9 25.7 20 45.5 35.5 60.9c17.9 17.9 41.2 31 70.9 40.7c59.5 19.3 143.8 23.5 205.7 23.5z"/>
<path fill="#ef3431" stroke="#ef3431" d="M679.4 1503.5c61.4 0 145.5-4.2 204.8-23.6c29.6-9.6 52.8-22.7 70.6-40.5c15.5-15.4 27.5-35.1 35.5-60.8c11.6-37.6 13.1-84.3 7.8-135.3c-7.5-74.1-29.7-160.5-59.9-239.6c-27-70.9-62.4-141-104-194.6c-26.9-34.6-56.5-62.4-88.3-79.2c-21.7-11.5-43.9-17.5-66.5-17.5c-22.6 0-44.8 6-66.5 17.5c-31.8 16.8-61.4 44.6-88.3 79.2c-41.6 53.6-77 123.7-104 194.6c-30.2 79.1-52.4 165.5-59.9 239.6c-5.3 51-3.8 97.7 7.8 135.3c8 25.7 20 45.4 35.5 60.8c17.8 17.8 41 30.9 70.6 40.5c59.3 19.4 143.4 23.6 204.8 23.6z"/>
<path fill="#ef3530" stroke="#ef3530" d="M679.4 1503.2c60.6 0 144.3-4.1 203.6-23.5c29.6-9.6 52.9-22.8 70.7-40.6c15.4-15.4 27.4-35 35.3-60.6c11.6-37.5 13.1-84.1 8-134.8c-7.5-73.8-29.6-159.8-59.7-238.5c-27-70.6-62.2-140.2-103.6-193.4c-26.8-34.5-56.3-62.2-87.9-78.9c-21.7-11.4-43.9-17.4-66.4-17.4c-22.5 0-44.7 6-66.4 17.4c-31.6 16.7-61.1 44.4-87.9 78.9c-41.4 53.2-76.6 122.8-103.6 193.4c-30.1 78.7-52.2 164.7-59.7 238.5c-5.1 50.7-3.6 97.3 8 134.8c7.9 25.6 19.9 45.2 35.3 60.6c17.8 17.8 41.1 31 70.7 40.6c59.3 19.4 143 23.5 203.6 23.5z"/>
<path fill="#f03530" stroke="#f03530" d="M679.4 1502.9c60.1 0 143.5-4.1 202.7-23.5c29.5-9.7 52.7-22.8 70.4-40.5c15.4-15.4 27.4-35 35.3-60.4c11.6-37.4 13.1-83.6 8-134c-7.4-73.5-29.4-159.1-59.3-237.5c-26.9-70.3-62-139.6-103.3-192.6c-26.7-34.3-56.1-61.9-87.6-78.5c-21.5-11.3-43.6-17.4-66.2-17.4c-22.6 0-44.7 6.1-66.2 17.4c-31.5 16.6-60.9 44.2-87.6 78.5c-41.3 53-76.4 122.3-103.3 192.6c-29.9 78.4-51.9 164-59.3 237.5c-5.1 50.4-3.6 96.6 8 134c7.9 25.4 19.9 45 35.3 60.4c17.7 17.7 40.9 30.8 70.4 40.5c59.2 19.4 142.6 23.5 202.7 23.5z"/>
<path fill="#f0362f" stroke="#f0362f" d="M679.4 1502.6c59.3 0 142.4-4.1 201.5-23.4c29.5-9.7 52.7-22.8 70.5-40.6c15.3-15.3 27.3-34.8 35.2-60.2c11.6-37.3 13.1-83.4 8.1-133.5c-7.4-73.1-29.2-158.2-59-236.1c-26.8-70.1-61.9-139.2-103.1-192c-26.6-34.1-55.9-61.5-87.2-78c-21.6-11.3-43.6-17.3-66-17.3c-22.4 0-44.4 6-66 17.3c-31.3 16.5-60.6 43.9-87.2 78c-41.2 52.8-76.3 121.9-103.1 192c-29.8 77.9-51.6 163-59 236.1c-5 50.1-3.5 96.2 8.1 133.5c7.9 25.4 19.9 44.9 35.2 60.2c17.8 17.8 41 30.9 70.5 40.6c59.1 19.3 142.2 23.4 201.5 23.4z"/>
<path fill="#f0362f" stroke="#f0362f" d="M679.4 1502.2c58.9 0 141.6-4 200.6-23.4c29.4-9.6 52.6-22.7 70.3-40.4c15.2-15.3 27.2-34.8 35.1-60.1c11.6-37.2 13.1-83.1 8.1-133c-7.3-72.7-29-157.3-58.6-234.8c-26.7-69.7-61.7-138.6-102.8-191.2c-26.5-33.9-55.6-61.1-86.9-77.6c-21.5-11.2-43.5-17.2-65.8-17.2c-22.3 0-44.3 6-65.8 17.2c-31.3 16.5-60.4 43.7-86.9 77.6c-41.1 52.6-76.1 121.5-102.8 191.2c-29.6 77.5-51.3 162.1-58.6 234.8c-5 49.9-3.5 95.8 8.1 133c7.9 25.3 19.9 44.8 35.1 60.1c17.7 17.7 40.9 30.8 70.3 40.4c59 19.4 141.7 23.4 200.6 23.4z"/>
<path fill="#f0362e" stroke="#f0362e" d="M679.4 1501.9c58.2 0 140.5-3.9 199.4-23.3c29.4-9.6 52.6-22.8 70.3-40.5c15.3-15.3 27.2-34.7 35.1-59.9c11.5-36.9 13.1-82.6 8.2-132.1c-7.2-72.5-28.9-156.9-58.5-234.2c-26.5-69.3-61.3-137.7-102.2-190c-26.5-33.8-55.5-60.9-86.7-77.3c-21.4-11.2-43.3-17.1-65.6-17.1c-22.3 0-44.2 5.9-65.6 17.1c-31.2 16.4-60.2 43.5-86.7 77.3c-40.9 52.3-75.7 120.7-102.2 190c-29.6 77.3-51.3 161.7-58.5 234.2c-4.9 49.5-3.3 95.2 8.2 132.1c7.9 25.2 19.8 44.6 35.1 59.9c17.7 17.7 40.9 30.9 70.3 40.5c58.9 19.4 141.2 23.3 199.4 23.3z"/>
<path fill="#f0372e" stroke="#f0372e" d="M679.4 1501.6c57.7 0 139.8-3.9 198.6-23.3c29.3-9.7 52.4-22.8 70-40.5c15.2-15.2 27.1-34.5 35-59.7c11.5-36.8 13.1-82.3 8.2-131.6c-7.1-72.2-28.7-156-58.1-232.8c-26.4-69.1-61.1-137.2-101.9-189.2c-26.3-33.7-55.3-60.7-86.4-77c-20.9-11-42.8-17.1-65.4-17.1c-22.6 0-44.5 6.1-65.4 17.1c-31.1 16.3-60.1 43.3-86.4 77c-40.8 52-75.5 120.1-101.9 189.2c-29.4 76.8-51 160.6-58.1 232.8c-4.9 49.3-3.3 94.8 8.2 131.6c7.9 25.2 19.8 44.5 35 59.7c17.6 17.7 40.7 30.8 70 40.5c58.8 19.4 140.9 23.3 198.6 23.3z"/>
<path fill="#f0372d" stroke="#f0372d" d="M679.4 1501.3c57 0 138.7-3.9 197.4-23.2c29.3-9.7 52.4-22.8 70.1-40.5c15.1-15.2 27-34.5 34.9-59.5c11.5-36.7 13.1-81.9 8.3-130.8c-7-71.9-28.5-155.4-57.8-231.9c-26.3-68.8-60.9-136.6-101.5-188.4c-26.3-33.5-55.2-60.4-86.2-76.6c-21.3-11.2-43.1-17-65.2-17c-22.1 0-43.9 5.8-65.2 17c-31 16.2-59.9 43.1-86.2 76.6c-40.6 51.8-75.2 119.6-101.5 188.4c-29.3 76.5-50.8 160-57.8 231.9c-4.8 48.9-3.2 94.1 8.3 130.8c7.9 25 19.8 44.3 34.9 59.5c17.7 17.7 40.8 30.8 70.1 40.5c58.7 19.3 140.4 23.2 197.4 23.2z"/>
<path fill="#f0382d" stroke="#f0382d" d="M679.4 1501c56.6 0 138-3.9 196.6-23.3c29.2-9.7 52.2-22.8 69.8-40.4c15.1-15.2 27-34.4 34.8-59.3c11.5-36.6 13.2-81.7 8.4-130.4c-7-71.4-28.3-154.5-57.4-230.5c-26.3-68.5-60.7-136-101.3-187.6c-26.1-33.3-55-60.1-85.9-76.3c-21.2-11.1-42.9-16.9-65-16.9c-22.1 0-43.8 5.8-65 16.9c-30.9 16.2-59.8 43-85.9 76.3c-40.6 51.6-75 119.1-101.3 187.6c-29.1 76-50.4 159.1-57.4 230.5c-4.8 48.7-3.1 93.8 8.4 130.4c7.8 24.9 19.7 44.1 34.8 59.3c17.6 17.6 40.6 30.7 69.8 40.4c58.6 19.4 140 23.3 196.6 23.3z"/>
<path fill="#f0382c" stroke="#f0382c" d="M679.4 1500.7c56.2 0 137.3-3.9 195.8-23.3c29-9.7 51.8-22.7 69.3-40.1c15.1-15.2 27-34.4 34.9-59.4c11.5-36.5 13.2-81.4 8.4-129.9c-6.9-71.2-28.1-153.9-57.2-229.5c-26.1-68.1-60.4-135.2-100.7-186.5c-26.1-33.2-54.8-59.9-85.7-76c-21.1-11-42.8-16.8-64.8-16.8c-22 0-43.7 5.8-64.8 16.8c-30.9 16.1-59.6 42.8-85.7 76c-40.3 51.3-74.6 118.4-100.7 186.5c-29.1 75.6-50.3 158.3-57.2 229.5c-4.8 48.5-3.1 93.4 8.4 129.9c7.9 25 19.8 44.2 34.9 59.4c17.5 17.4 40.3 30.4 69.3 40.1c58.5 19.4 139.6 23.3 195.8 23.3z"/>
<path fill="#f0392c" stroke="#f0392c" d="M679.4 1500.4c55.5 0 136.2-3.9 194.6-23.3c29-9.6 51.9-22.6 69.4-40.1c15.1-15.1 27-34.3 34.9-59.2c11.4-36.3 13.1-80.9 8.5-129c-6.9-71-28-153.3-57-228.6c-26-67.8-60.1-134.6-100.3-185.7c-26.1-33.1-54.7-59.7-85.4-75.7c-21.2-11-42.8-16.8-64.7-16.8c-21.9 0-43.5 5.8-64.7 16.8c-30.7 16-59.3 42.6-85.4 75.7c-40.2 51.1-74.3 117.9-100.3 185.7c-29 75.3-50.1 157.6-57 228.6c-4.6 48.1-2.9 92.7 8.5 129c7.9 24.9 19.8 44.1 34.9 59.2c17.5 17.5 40.4 30.5 69.4 40.1c58.4 19.4 139.1 23.3 194.6 23.3z"/>
<path fill="#f0392b" stroke="#f0392b" d="M679.4 1500.1c55.1 0 135.6-3.9 193.8-23.3c28.9-9.6 51.7-22.6 69.1-40.1c15.1-15.1 26.9-34.2 34.8-59c11.5-36.2 13.1-80.7 8.5-128.6c-6.8-70.5-27.8-152.4-56.5-227.2c-26-67.7-60.1-134.3-100.3-185.2c-25.9-32.8-54.4-59.2-84.9-75.1c-21.1-11-42.6-16.7-64.5-16.7c-21.9 0-43.4 5.7-64.5 16.7c-30.5 15.9-59 42.3-84.9 75.1c-40.2 50.9-74.3 117.5-100.3 185.2c-28.7 74.8-49.7 156.7-56.5 227.2c-4.6 47.9-3 92.4 8.5 128.6c7.9 24.8 19.7 43.9 34.8 59c17.4 17.5 40.2 30.5 69.1 40.1c58.2 19.4 138.7 23.3 193.8 23.3z"/>
<path fill="#f13a2b" stroke="#f13a2b" d="M679.4 1499.8c54.5 0 134.5-3.9 192.7-23.2c28.9-9.7 51.7-22.7 69.1-40.1c15.1-15.1 26.9-34.2 34.7-58.9c11.5-36.2 13.2-80.5 8.6-128.1c-6.7-70.2-27.6-151.5-56.2-226c-25.9-67.3-59.9-133.7-99.9-184.4c-25.8-32.7-54.2-58.9-84.7-74.8c-21-10.9-42.5-16.6-64.3-16.6c-21.8 0-43.3 5.7-64.3 16.6c-30.5 15.9-58.9 42.1-84.7 74.8c-40 50.7-74 117.1-99.9 184.4c-28.6 74.5-49.5 155.8-56.2 226c-4.6 47.6-2.9 91.9 8.6 128.1c7.8 24.7 19.6 43.8 34.7 58.9c17.4 17.4 40.2 30.4 69.1 40.1c58.2 19.3 138.2 23.2 192.7 23.2z"/>
<path fill="#f13a2b" stroke="#f13a2b" d="M679.4 1499.4c54.1 0 133.9-3.8 191.9-23.2c28.8-9.6 51.5-22.6 68.8-40c15-15 26.8-34.1 34.7-58.7c11.4-36 13.1-80 8.6-127.3c-6.6-70-27.5-151.2-56-225.4c-25.8-66.9-59.6-132.8-99.4-183.2c-25.8-32.6-54.1-58.7-84.5-74.5c-20.5-10.7-41.9-16.6-64.1-16.6c-22.2 0-43.6 5.9-64.1 16.6c-30.4 15.8-58.7 41.9-84.5 74.5c-39.8 50.4-73.6 116.3-99.4 183.2c-28.5 74.2-49.4 155.4-56 225.4c-4.5 47.3-2.8 91.3 8.6 127.3c7.9 24.6 19.7 43.7 34.7 58.7c17.3 17.4 40 30.4 68.8 40c58 19.4 137.8 23.2 191.9 23.2z"/>
<path fill="#f13b2a" stroke="#f13b2a" d="M679.4 1499.1c53.5 0 132.8-3.8 190.7-23.1c28.9-9.6 51.6-22.7 69-40.1c14.9-15 26.7-34 34.5-58.5c11.5-35.9 13.2-79.8 8.7-126.8c-6.6-69.7-27.3-150.4-55.7-224.1c-25.7-66.7-59.4-132.3-99.1-182.5c-25.6-32.4-53.9-58.5-84.2-74.2c-20.9-10.8-42.2-16.5-63.9-16.5c-21.7 0-43 5.7-63.9 16.5c-30.3 15.7-58.6 41.8-84.2 74.2c-39.7 50.2-73.4 115.8-99.1 182.5c-28.4 73.7-49.1 154.4-55.7 224.1c-4.5 47-2.8 90.9 8.7 126.8c7.8 24.5 19.6 43.5 34.5 58.5c17.4 17.4 40.1 30.5 69 40.1c57.9 19.3 137.2 23.1 190.7 23.1z"/>
<path fill="#f13c2a" stroke="#f13c2a" d="M679.4 1498.8c52.9 0 131.8-3.7 189.6-23c28.9-9.7 51.6-22.7 69-40.2c14.9-14.9 26.7-33.8 34.5-58.3c11.4-35.7 13.1-79.3 8.7-126c-6.5-69.4-27.1-149.7-55.3-223.2c-25.6-66.4-59.2-131.8-98.8-181.7c-25.6-32.3-53.8-58.2-84-73.9c-20.8-10.8-42.1-16.4-63.7-16.4c-21.6 0-42.9 5.6-63.7 16.4c-30.2 15.7-58.4 41.6-84 73.9c-39.6 49.9-73.2 115.3-98.8 181.7c-28.2 73.5-48.8 153.8-55.3 223.2c-4.4 46.7-2.7 90.3 8.7 126c7.8 24.5 19.6 43.4 34.5 58.3c17.4 17.5 40.1 30.5 69 40.2c57.8 19.3 136.7 23 189.6 23z"/>
<path fill="#f13c2a" stroke="#f13c2a" d="M679.4 1498.5c52.6 0 131.2-3.8 188.9-23.1c28.6-9.6 51.2-22.5 68.5-39.8c14.9-15 26.7-33.9 34.6-58.4c11.4-35.6 13.1-79.1 8.7-125.6c-6.4-69-26.9-148.8-55-221.9c-25.5-66.1-59-131.2-98.4-180.9c-25.5-32.1-53.5-57.9-83.5-73.5c-20.9-10.8-42.2-16.5-63.8-16.5c-21.6 0-42.9 5.7-63.8 16.5c-30 15.6-58 41.4-83.5 73.5c-39.4 49.7-72.9 114.8-98.4 180.9c-28.1 73.1-48.6 152.9-55 221.9c-4.4 46.5-2.7 90 8.7 125.6c7.9 24.5 19.7 43.4 34.6 58.4c17.3 17.3 39.9 30.2 68.5 39.8c57.7 19.3 136.3 23.1 188.9 23.1z"/>
<path fill="#f13d29" stroke="#f13d29" d="M679.4 1498.2c52 0 130.2-3.7 187.7-23c28.7-9.6 51.3-22.6 68.6-39.9c14.9-14.9 26.7-33.8 34.5-58.2c11.4-35.5 13.2-78.8 8.8-125.2c-6.4-68.7-26.8-148.2-54.8-220.9c-25.4-65.8-58.7-130.4-98-179.9c-25.3-31.9-53.3-57.6-83.2-73.1c-20.8-10.8-42-16.4-63.6-16.4c-21.6 0-42.8 5.6-63.6 16.4c-29.9 15.5-57.9 41.2-83.2 73.1c-39.3 49.5-72.6 114.1-98 179.9c-28 72.7-48.4 152.2-54.8 220.9c-4.4 46.4-2.6 89.7 8.8 125.2c7.8 24.4 19.6 43.3 34.5 58.2c17.3 17.3 39.9 30.3 68.6 39.9c57.5 19.3 135.7 23 187.7 23z"/>
<path fill="#f23e29" stroke="#f23e29" d="M679.4 1497.9c51.7 0 129.6-3.8 187-23.1c28.6-9.6 51-22.5 68.3-39.8c14.9-14.9 26.6-33.7 34.4-58c11.4-35.3 13.2-78.4 8.9-124.4c-6.4-68.4-26.6-147.6-54.6-220c-25.2-65.5-58.4-129.9-97.6-179.1c-25.3-31.9-53.1-57.4-83-72.9c-20.7-10.7-41.9-16.3-63.4-16.3c-21.5 0-42.7 5.6-63.4 16.3c-29.9 15.5-57.7 41-83 72.9c-39.2 49.2-72.4 113.6-97.6 179.1c-28 72.4-48.2 151.6-54.6 220c-4.3 46-2.5 89.1 8.9 124.4c7.8 24.3 19.5 43.1 34.4 58c17.3 17.3 39.7 30.2 68.3 39.8c57.4 19.3 135.3 23.1 187 23.1z"/>
<path fill="#f23e29" stroke="#f23e29" d="M679.4 1497.5c51.1 0 128.6-3.6 185.9-22.9c28.6-9.6 51.1-22.6 68.3-39.8c14.9-14.9 26.6-33.7 34.4-57.9c11.3-35.3 13.1-78.2 8.9-123.9c-6.3-68.1-26.5-146.8-54.2-218.8c-25.2-65.2-58.3-129.4-97.3-178.4c-25.2-31.7-53-57.1-82.8-72.5c-20.6-10.7-41.8-16.3-63.2-16.3c-21.4 0-42.6 5.6-63.2 16.3c-29.8 15.4-57.6 40.8-82.8 72.5c-39 49-72.1 113.2-97.3 178.4c-27.7 72-47.9 150.7-54.2 218.8c-4.2 45.7-2.4 88.6 8.9 123.9c7.8 24.2 19.5 43 34.4 57.9c17.2 17.2 39.7 30.2 68.3 39.8c57.3 19.3 134.8 22.9 185.9 22.9z"/>
<path fill="#f23f28" stroke="#f23f28" d="M679.4 1497.2c50.8 0 128-3.7 185.2-23c28.4-9.6 50.8-22.5 68-39.7c14.8-14.8 26.5-33.6 34.3-57.7c11.3-35.2 13.1-78 8.9-123.5c-6.2-67.9-26.3-146.2-54-217.9c-25.1-64.8-58-128.5-96.8-177.3c-25.2-31.5-52.9-56.9-82.6-72.2c-20.5-10.7-41.6-16.2-63-16.2c-21.4 0-42.5 5.5-63 16.2c-29.7 15.3-57.4 40.7-82.6 72.2c-38.8 48.8-71.7 112.5-96.8 177.3c-27.7 71.7-47.8 150-54 217.9c-4.2 45.5-2.4 88.3 8.9 123.5c7.8 24.1 19.5 42.9 34.3 57.7c17.2 17.2 39.6 30.1 68 39.7c57.2 19.3 134.4 23 185.2 23z"/>
<path fill="#f23f28" stroke="#f23f28" d="M679.4 1496.9c50.3 0 127.1-3.7 184.1-22.9c28.5-9.6 50.9-22.6 68.1-39.8c14.7-14.8 26.4-33.5 34.2-57.5c11.3-35 13.1-77.5 9-122.7c-6.2-67.6-26.2-145.7-53.8-217c-25-64.7-57.9-128.3-96.7-176.8c-25-31.3-52.5-56.5-82-71.7c-20.5-10.6-41.5-16.2-62.9-16.2c-21.4 0-42.4 5.6-62.9 16.2c-29.5 15.2-57 40.4-82 71.7c-38.8 48.5-71.7 112.1-96.7 176.8c-27.6 71.3-47.6 149.4-53.8 217c-4.1 45.2-2.3 87.7 9 122.7c7.8 24 19.5 42.7 34.2 57.5c17.2 17.2 39.6 30.2 68.1 39.8c57 19.2 133.8 22.9 184.1 22.9z"/>
<path fill="#f24028" stroke="#f24028" d="M679.4 1496.6c50 0 126.5-3.7 183.4-22.9c28.2-9.6 50.5-22.5 67.6-39.6c14.8-14.7 26.5-33.4 34.3-57.5c11.3-34.9 13.1-77.3 9-122.3c-6.1-67.3-26-144.8-53.4-215.8c-24.9-64.4-57.7-127.7-96.4-176c-24.9-31.2-52.4-56.3-81.8-71.4c-20.5-10.6-41.4-16.1-62.7-16.1c-21.3 0-42.2 5.5-62.7 16.1c-29.4 15.1-56.9 40.2-81.8 71.4c-38.7 48.3-71.5 111.6-96.4 176c-27.4 71-47.3 148.5-53.4 215.8c-4.1 45-2.3 87.4 9 122.3c7.8 24.1 19.5 42.8 34.3 57.5c17.1 17.1 39.4 30 67.6 39.6c56.9 19.2 133.4 22.9 183.4 22.9z"/>
<path fill="#f24127" stroke="#f24127" d="M679.4 1496.2c49.5 0 125.6-3.6 182.3-22.8c28.3-9.6 50.6-22.5 67.7-39.5c14.7-14.8 26.4-33.4 34.2-57.5c11.3-34.8 13.1-77 9-121.8c-6.1-66.9-25.8-144-53.1-214.5c-24.8-64.2-57.4-127.2-96-175.4c-24.9-31-52.2-56-81.6-71.1c-20.4-10.5-41.3-16-62.5-16c-21.2 0-42.1 5.5-62.5 16c-29.4 15.1-56.7 40.1-81.6 71.1c-38.6 48.2-71.2 111.2-96 175.4c-27.3 70.5-47 147.6-53.1 214.5c-4.1 44.8-2.3 87 9 121.8c7.8 24.1 19.5 42.7 34.2 57.5c17.1 17 39.4 29.9 67.7 39.5c56.7 19.2 132.8 22.8 182.3 22.8z"/>
<path fill="#f34127" stroke="#f34127" d="M679.4 1495.9c49.2 0 125-3.6 181.6-22.8c28-9.6 50.2-22.4 67.3-39.5c14.8-14.7 26.4-33.3 34.2-57.3c11.2-34.6 13.1-76.5 9.1-121c-6-66.8-25.7-143.7-52.9-214c-24.7-63.8-57.3-126.4-95.6-174.3c-24.8-30.9-52.1-55.8-81.4-70.8c-20.3-10.5-41.1-16-62.3-16c-21.2 0-42 5.5-62.3 16c-29.3 15-56.6 39.9-81.4 70.8c-38.3 47.9-70.9 110.5-95.6 174.3c-27.2 70.3-46.9 147.2-52.9 214c-4 44.5-2.1 86.4 9.1 121c7.8 24 19.4 42.6 34.2 57.3c17.1 17.1 39.3 29.9 67.3 39.5c56.6 19.2 132.4 22.8 181.6 22.8z"/>
<path fill="#f34227" stroke="#f34227" d="M679.4 1495.6c48.7 0 124.1-3.6 180.5-22.8c28.2-9.6 50.4-22.5 67.4-39.5c14.7-14.7 26.3-33.2 34.1-57.1c11.2-34.5 13.1-76.4 9.1-120.6c-5.9-66.4-25.5-142.9-52.6-212.8c-24.6-63.5-57-125.9-95.2-173.6c-24.8-30.8-52-55.5-81.1-70.5c-20.3-10.4-41.1-15.9-62.2-15.9c-21.1 0-41.9 5.5-62.2 15.9c-29.1 15-56.3 39.7-81.1 70.5c-38.2 47.7-70.6 110.1-95.2 173.6c-27.1 69.9-46.7 146.4-52.6 212.8c-4 44.2-2.1 86.1 9.1 120.6c7.8 23.9 19.4 42.4 34.1 57.1c17 17 39.2 29.9 67.4 39.5c56.4 19.2 131.8 22.8 180.5 22.8z"/>
<path fill="#f34226" stroke="#f34226" d="M679.4 1495.3c48.4 0 123.5-3.6 179.8-22.8c28.1-9.6 50.2-22.5 67.2-39.5c14.6-14.6 26.1-33.1 33.9-56.9c11.2-34.5 13.1-76.2 9.2-120.2c-5.9-66.1-25.4-142.1-52.3-211.6c-24.5-63.2-56.8-125.3-95-172.8c-24.6-30.7-51.7-55.3-80.8-70.3c-20.3-10.3-41-15.8-62-15.8c-21 0-41.7 5.5-62 15.8c-29.1 15-56.2 39.6-80.8 70.3c-38.2 47.5-70.5 109.6-95 172.8c-26.9 69.5-46.4 145.5-52.3 211.6c-3.9 44-2 85.7 9.2 120.2c7.8 23.8 19.3 42.3 33.9 56.9c17 17 39.1 29.9 67.2 39.5c56.3 19.2 131.4 22.8 179.8 22.8z"/>
<path fill="#f34326" stroke="#f34326" d="M679.4 1494.9c47.9 0 122.6-3.5 178.8-22.7c28-9.5 50-22.4 67-39.3c14.6-14.6 26.2-33.1 34-56.9c11.2-34.3 13.1-75.7 9.2-119.5c-5.8-65.7-25.1-141.4-51.9-210.7c-24.5-63-56.7-124.8-94.7-172.1c-24.6-30.6-51.6-55.1-80.6-70c-20.2-10.3-40.8-15.7-61.8-15.7c-21 0-41.6 5.4-61.8 15.7c-29 14.9-56 39.4-80.6 70c-38 47.3-70.2 109.1-94.7 172.1c-26.8 69.3-46.1 145-51.9 210.7c-3.9 43.8-2 85.2 9.2 119.5c7.8 23.8 19.4 42.3 34 56.9c17 16.9 39 29.8 67 39.3c56.2 19.2 130.9 22.7 178.8 22.7z"/>
<path fill="#f34425" stroke="#f34425" d="M679.4 1494.6c47.5 0 121.7-3.5 177.7-22.6c28.1-9.6 50.1-22.4 67.1-39.3c14.6-14.7 26.2-33.1 33.9-56.8c11.2-34.3 13.1-75.5 9.3-119.1c-5.8-65.5-25.1-140.9-51.8-209.8c-24.3-62.6-56.4-124.1-94.2-171.1c-20.9-26-48.1-53.2-80.4-69.7c-20.1-10.3-40.7-15.6-61.6-15.6c-20.9 0-41.5 5.3-61.6 15.6c-32.3 16.5-59.5 43.7-80.4 69.7c-37.8 47-69.9 108.5-94.2 171.1c-26.7 68.9-46 144.3-51.8 209.8c-3.8 43.6-1.9 84.8 9.3 119.1c7.7 23.7 19.3 42.1 33.9 56.8c17 16.9 39 29.7 67.1 39.3c56 19.1 130.2 22.6 177.7 22.6z"/>
<path fill="#f34425" stroke="#f34425" d="M679.4 1494.3c47.2 0 121.2-3.5 177-22.7c28-9.5 49.9-22.4 66.8-39.2c14.6-14.6 26.1-33 33.9-56.7c11.1-34.1 13-75.2 9.2-118.6c-5.7-65.2-24.9-140.1-51.4-208.6c-24.2-62.4-56.2-123.6-93.9-170.4c-20.9-25.9-48-52.9-80.2-69.4c-19.4-9.9-40-15.6-61.4-15.6c-21.4 0-42 5.7-61.4 15.6c-32.2 16.5-59.3 43.5-80.2 69.4c-37.7 46.8-69.7 108-93.9 170.4c-26.5 68.5-45.7 143.4-51.4 208.6c-3.8 43.4-1.9 84.5 9.2 118.6c7.8 23.7 19.3 42.1 33.9 56.7c16.9 16.8 38.8 29.7 66.8 39.2c55.8 19.2 129.8 22.7 177 22.7z"/>
<path fill="#f44525" stroke="#f44525" d="M679.4 1493.9c46.8 0 120.3-3.5 176-22.5c28-9.6 49.9-22.4 66.8-39.3c14.5-14.6 26.1-32.9 33.8-56.5c11.1-33.9 13.1-74.8 9.3-117.9c-5.6-64.9-24.7-139.5-51.2-207.7c-24.1-62.1-55.9-123.1-93.5-169.7c-24.4-30.2-51.2-54.4-79.9-69.1c-20-10.2-40.5-15.6-61.3-15.6c-20.8 0-41.3 5.4-61.3 15.6c-28.7 14.7-55.5 38.9-79.9 69.1c-37.6 46.6-69.4 107.6-93.5 169.7c-26.5 68.2-45.6 142.8-51.2 207.7c-3.8 43.1-1.8 84 9.3 117.9c7.7 23.6 19.3 41.9 33.8 56.5c16.9 16.9 38.8 29.7 66.8 39.3c55.7 19 129.2 22.5 176 22.5z"/>
<path fill="#f44624" stroke="#f44624" d="M679.4 1493.6c46.5 0 119.8-3.5 175.3-22.6c27.7-9.5 49.6-22.3 66.3-39c14.6-14.6 26.2-32.9 33.9-56.5c11.2-33.9 13.1-74.6 9.4-117.5c-5.6-64.6-24.6-138.7-50.9-206.5c-24-61.9-55.8-122.6-93.2-169c-20.7-25.7-47.7-52.5-79.7-68.9c-20-10.1-40.4-15.5-61.1-15.5c-20.7 0-41.1 5.4-61.1 15.5c-32 16.4-59 43.2-79.7 68.9c-37.4 46.4-69.2 107.1-93.2 169c-26.3 67.8-45.3 141.9-50.9 206.5c-3.7 42.9-1.8 83.6 9.4 117.5c7.7 23.6 19.3 41.9 33.9 56.5c16.7 16.7 38.6 29.5 66.3 39c55.5 19.1 128.8 22.6 175.3 22.6z"/>
<path fill="#f44624" stroke="#f44624" d="M679.4 1493.3c46.1 0 118.9-3.5 174.3-22.5c27.8-9.6 49.6-22.3 66.4-39.1c14.5-14.5 26-32.8 33.8-56.3c11.1-33.8 13-74.4 9.3-117.1c-5.5-64.3-24.4-138.2-50.7-205.7c-23.9-61.6-55.6-122-92.9-168.2c-20.6-25.5-47.4-52.1-79.3-68.3c-19.9-10.2-40.2-15.5-60.9-15.5c-20.7 0-41 5.3-60.9 15.5c-31.9 16.2-58.7 42.8-79.3 68.3c-37.3 46.2-69 106.6-92.9 168.2c-26.3 67.5-45.2 141.4-50.7 205.7c-3.7 42.7-1.8 83.3 9.3 117.1c7.8 23.5 19.3 41.8 33.8 56.3c16.8 16.8 38.6 29.5 66.4 39.1c55.4 19 128.2 22.5 174.3 22.5z"/>
<path fill="#f44724" stroke="#f44724" d="M679.4 1492.9c45.6 0 118.1-3.4 173.3-22.4c27.8-9.5 49.6-22.3 66.4-39.1c14.5-14.5 26-32.7 33.7-56.2c11.1-33.6 13-73.9 9.4-116.3c-5.5-64.1-24.3-137.6-50.4-204.9c-23.8-61.3-55.4-121.5-92.6-167.5c-20.6-25.3-47.3-51.8-79.1-68c-19.8-10.1-40.1-15.4-60.7-15.4c-20.6 0-40.9 5.3-60.7 15.4c-31.8 16.2-58.5 42.7-79.1 68c-37.2 46-68.8 106.2-92.6 167.5c-26.1 67.3-44.9 140.8-50.4 204.9c-3.6 42.4-1.7 82.7 9.4 116.3c7.7 23.5 19.2 41.7 33.7 56.2c16.8 16.8 38.6 29.6 66.4 39.1c55.2 19 127.7 22.4 173.3 22.4z"/>
<path fill="#f44723" stroke="#f44723" d="M679.4 1492.6c45.4 0 117.6-3.4 172.6-22.4c27.7-9.6 49.5-22.4 66.2-39.1c14.4-14.4 25.9-32.6 33.6-56c11-33.5 13-73.7 9.4-115.9c-5.5-63.8-24.1-136.9-50.1-203.7c-23.8-61.1-55.2-121.1-92.3-166.8c-20.5-25.3-47.1-51.7-78.8-67.8c-19.8-10-40-15.3-60.6-15.3c-20.6 0-40.8 5.3-60.6 15.3c-31.7 16.1-58.3 42.5-78.8 67.8c-37.1 45.7-68.5 105.7-92.3 166.8c-26 66.8-44.6 139.9-50.1 203.7c-3.6 42.2-1.6 82.4 9.4 115.9c7.7 23.4 19.2 41.6 33.6 56c16.7 16.7 38.5 29.5 66.2 39.1c55 19 127.2 22.4 172.6 22.4z"/>
<path fill="#f44823" stroke="#f44823" d="M679.4 1492.3c45 0 116.7-3.5 171.6-22.4c27.7-9.5 49.5-22.3 66.2-39.1c14.4-14.4 25.8-32.5 33.5-55.8c11.1-33.5 13-73.6 9.5-115.5c-5.4-63.4-24-136.1-49.8-202.6c-23.7-60.8-55-120.5-92.1-166.1c-23.9-29.5-50.2-53.2-78.5-67.5c-19.7-10-39.9-15.2-60.4-15.2c-20.5 0-40.7 5.2-60.4 15.2c-28.3 14.3-54.6 38-78.5 67.5c-37.1 45.6-68.4 105.3-92.1 166.1c-25.8 66.5-44.4 139.2-49.8 202.6c-3.5 41.9-1.6 82 9.5 115.5c7.7 23.3 19.1 41.4 33.5 55.8c16.7 16.8 38.5 29.6 66.2 39.1c54.9 18.9 126.6 22.4 171.6 22.4z"/>
<path fill="#f54923" stroke="#f54923" d="M679.4 1491.9c50.9 0 128.8-4.3 184.4-27.4c27.2-11.3 48.3-26.6 63.8-47c14.6-19.1 25.8-44.8 30.6-80.8c7.7-57.4-3-126.7-18.9-187.1c-19.9-75.7-53-156.8-94.9-220.4c-27.7-42.1-59.7-77.3-95-98.2c-22.7-13.4-46.1-20.5-70-20.5c-23.9 0-47.3 7.1-70 20.5c-35.3 20.9-67.3 56.1-95 98.2c-41.9 63.6-75 144.7-94.9 220.4c-15.9 60.4-26.6 129.7-18.9 187.1c4.8 36 16 61.7 30.6 80.8c15.5 20.4 36.6 35.7 63.8 47c55.6 23.1 133.5 27.4 184.4 27.4z"/>
<path fill="#f54922" stroke="#f54922" d="M679.4 1491.6c50.4 0 127.8-4.3 183.4-27.4c27.2-11.3 48.3-26.5 63.8-46.9c14.6-19.1 25.8-44.7 30.6-80.6c7.6-57.1-3-126-18.7-186c-19.8-75.5-52.8-156.2-94.6-219.5c-27.6-42-59.5-77-94.7-97.8c-22.6-13.4-46-20.5-69.8-20.5c-23.8 0-47.2 7.1-69.8 20.5c-35.2 20.8-67.1 55.8-94.7 97.8c-41.8 63.3-74.8 144-94.6 219.5c-15.7 60-26.3 128.9-18.7 186c4.8 35.9 16 61.5 30.6 80.6c15.5 20.4 36.6 35.6 63.8 46.9c55.6 23.1 133 27.4 183.4 27.4z"/>
<path fill="#f54a22" stroke="#f54a22" d="M679.4 1491.3c49.9 0 126.9-4.3 182.3-27.3c27.3-11.3 48.4-26.6 64-47c14.4-19 25.6-44.4 30.4-80c7.7-56.9-2.8-125.5-18.5-185.3c-19.7-75.1-52.6-155.5-94.2-218.6c-27.5-41.8-59.3-76.7-94.4-97.4c-22.6-13.3-45.9-20.3-69.6-20.3c-23.7 0-47 7-69.6 20.3c-35.1 20.7-66.9 55.6-94.4 97.4c-41.6 63.1-74.5 143.5-94.2 218.6c-15.7 59.8-26.2 128.4-18.5 185.3c4.8 35.6 16 61 30.4 80c15.6 20.4 36.7 35.7 64 47c55.4 23 132.4 27.3 182.3 27.3z"/>
<path fill="#f54a22" stroke="#f54a22" d="M679.4 1490.9c49.6 0 126.4-4.2 181.6-27.3c27.2-11.3 48.2-26.5 63.7-46.9c14.4-18.9 25.5-44.3 30.3-79.7c7.7-56.7-2.7-125-18.3-184.6c-19.6-74.7-52.4-154.7-93.7-217.4c-27.5-41.6-59.2-76.4-94.2-97c-22.5-13.2-45.7-20.2-69.4-20.2c-23.7 0-46.9 7-69.4 20.2c-35 20.6-66.7 55.4-94.2 97c-41.3 62.7-74.1 142.7-93.7 217.4c-15.6 59.6-26 127.9-18.3 184.6c4.8 35.4 15.9 60.8 30.3 79.7c15.5 20.4 36.5 35.6 63.7 46.9c55.2 23.1 132 27.3 181.6 27.3z"/>
<path fill="#f54b22" stroke="#f54b22" d="M679.4 1490.6c49.1 0 125.5-4.2 180.6-27.2c27.2-11.3 48.2-26.6 63.7-46.9c14.4-18.9 25.5-44.2 30.3-79.5c7.7-56.4-2.6-124.3-18.2-183.6c-19.5-74.4-52.1-154-93.3-216.5c-27.4-41.4-59-76-93.9-96.6c-22.4-13.1-45.6-20.1-69.2-20.1c-23.6 0-46.8 7-69.2 20.1c-34.9 20.6-66.5 55.2-93.9 96.6c-41.2 62.5-73.8 142.1-93.3 216.5c-15.6 59.3-25.9 127.2-18.2 183.6c4.8 35.3 15.9 60.6 30.3 79.5c15.5 20.3 36.5 35.6 63.7 46.9c55.1 23 131.5 27.2 180.6 27.2z"/>
<path fill="#f54b22" stroke="#f54b22" d="M679.4 1490.2c48.8 0 124.9-4.2 179.9-27.2c27-11.2 47.9-26.4 63.3-46.6c14.4-18.8 25.5-44.1 30.4-79.5c7.6-56.1-2.6-123.7-18.1-182.8c-19.4-74-51.9-153.1-92.9-215.3c-27.2-41.1-58.7-75.6-93.4-96c-22.4-13.2-45.6-20.3-69.2-20.3c-23.6 0-46.8 7.1-69.2 20.3c-34.7 20.4-66.2 54.9-93.4 96c-41 62.2-73.5 141.3-92.9 215.3c-15.5 59.1-25.7 126.7-18.1 182.8c4.9 35.4 16 60.7 30.4 79.5c15.4 20.2 36.3 35.4 63.3 46.6c55 23 131.1 27.2 179.9 27.2z"/>
<path fill="#f54c21" stroke="#f54c21" d="M679.4 1489.9c48.3 0 124-4.2 178.9-27.1c27-11.3 47.9-26.4 63.3-46.6c14.4-18.8 25.5-44 30.3-79.3c7.7-55.8-2.4-123.1-17.8-181.8c-19.3-73.7-51.7-152.5-92.6-214.4c-27.1-41-58.5-75.3-93.1-95.6c-22.4-13.2-45.5-20.2-69-20.2c-23.5 0-46.6 7-69 20.2c-34.6 20.3-66 54.6-93.1 95.6c-40.9 61.9-73.3 140.7-92.6 214.4c-15.4 58.7-25.5 126-17.8 181.8c4.8 35.3 15.9 60.5 30.3 79.3c15.4 20.2 36.3 35.3 63.3 46.6c54.9 22.9 130.6 27.1 178.9 27.1z"/>
<path fill="#f54c21" stroke="#f54c21" d="M679.4 1489.5c48 0 123.5-4.1 178.2-27.1c26.9-11.2 47.7-26.4 63.1-46.5c14.3-18.7 25.4-43.9 30.2-79c7.7-55.6-2.4-122.4-17.7-180.7c-19.2-73.6-51.5-152.2-92.4-213.8c-27-40.8-58.2-74.8-92.6-95.1c-22.3-13.1-45.3-20-68.8-20c-23.5 0-46.5 6.9-68.8 20c-34.4 20.3-65.6 54.3-92.6 95.1c-40.9 61.6-73.2 140.2-92.4 213.8c-15.3 58.3-25.4 125.1-17.7 180.7c4.8 35.1 15.9 60.3 30.2 79c15.4 20.1 36.2 35.3 63.1 46.5c54.7 23 130.2 27.1 178.2 27.1z"/>
<path fill="#f64d21" stroke="#f64d21" d="M679.4 1489.2c47.6 0 122.6-4.1 177.2-27c26.9-11.3 47.8-26.4 63.1-46.5c14.3-18.7 25.3-43.8 30.2-78.8c7.6-55.4-2.4-121.9-17.6-180.1c-19.1-73.1-51.3-151.3-91.9-212.5c-27-40.6-58.1-74.5-92.4-94.7c-22.2-13-45.2-20-68.6-20c-23.4 0-46.4 7-68.6 20c-34.3 20.2-65.4 54.1-92.4 94.7c-40.6 61.2-72.8 139.4-91.9 212.5c-15.2 58.2-25.2 124.7-17.6 180.1c4.9 35 15.9 60.1 30.2 78.8c15.3 20.1 36.2 35.2 63.1 46.5c54.6 22.9 129.6 27 177.2 27z"/>
<path fill="#f64d21" stroke="#f64d21" d="M679.4 1488.8c47.1 0 121.8-4.1 176.2-26.8c27-11.3 47.8-26.5 63.2-46.6c14.2-18.6 25.2-43.7 30.1-78.5c7.6-55.1-2.3-121.2-17.4-179.1c-19.1-72.8-51.1-150.6-91.6-211.7c-26.9-40.4-57.9-74.2-92.1-94.2c-22.2-13-45.1-19.9-68.4-19.9c-23.3 0-46.2 6.9-68.4 19.9c-34.2 20-65.2 53.8-92.1 94.2c-40.5 61.1-72.5 138.9-91.6 211.7c-15.1 57.9-25 124-17.4 179.1c4.9 34.8 15.9 59.9 30.1 78.5c15.4 20.1 36.2 35.3 63.2 46.6c54.4 22.7 129.1 26.8 176.2 26.8z"/>
<path fill="#f64e21" stroke="#f64e21" d="M679.4 1488.5c46.8 0 121.2-4.1 175.5-26.9c26.8-11.2 47.5-26.3 62.7-46.3c14.3-18.6 25.4-43.6 30.2-78.4c7.7-54.9-2.2-120.8-17.2-178.4c-19-72.5-50.9-149.8-91.2-210.5c-26.8-40.3-57.7-73.9-91.8-93.9c-22.1-12.9-44.9-19.8-68.2-19.8c-23.3 0-46.1 6.9-68.2 19.8c-34.1 20-65 53.6-91.8 93.9c-40.3 60.7-72.2 138-91.2 210.5c-15 57.6-24.9 123.5-17.2 178.4c4.8 34.8 15.9 59.8 30.2 78.4c15.2 20 35.9 35.1 62.7 46.3c54.3 22.8 128.7 26.9 175.5 26.9z"/>
<path fill="#f64e21" stroke="#f64e21" d="M679.4 1488.1c46.4 0 120.4-4 174.6-26.8c26.7-11.2 47.4-26.3 62.7-46.2c14.2-18.6 25.3-43.5 30.1-78.3c7.6-54.6-2.1-120-17.1-177.3c-18.8-72.2-50.6-149.2-90.8-209.7c-26.7-40.1-57.5-73.5-91.5-93.5c-22-12.8-44.8-19.7-68-19.7c-23.2 0-46 6.9-68 19.7c-34 20-64.8 53.4-91.5 93.5c-40.2 60.5-72 137.5-90.8 209.7c-15 57.3-24.7 122.7-17.1 177.3c4.8 34.8 15.9 59.7 30.1 78.3c15.3 19.9 36 35 62.7 46.2c54.2 22.8 128.2 26.8 174.6 26.8z"/>
<path fill="#f64f21" stroke="#f64f21" d="M679.4 1487.8c46.1 0 119.8-4.1 173.9-26.8c26.6-11.2 47.3-26.3 62.5-46.2c14.1-18.5 25.2-43.3 30-78c7.6-54.3-2-119.3-16.9-176.3c-18.8-71.9-50.4-148.6-90.5-208.8c-26.5-40-57.3-73.3-91.2-93.1c-22-12.9-44.7-19.7-67.8-19.7c-23.1 0-45.8 6.8-67.8 19.7c-33.9 19.8-64.7 53.1-91.2 93.1c-40.1 60.2-71.7 136.9-90.5 208.8c-14.9 57-24.5 122-16.9 176.3c4.8 34.7 15.9 59.5 30 78c15.2 19.9 35.9 35 62.5 46.2c54.1 22.7 127.8 26.8 173.9 26.8z"/>
<path fill="#f64f21" stroke="#f64f21" d="M679.4 1487.4c45.7 0 119-4 172.9-26.7c26.7-11.2 47.3-26.3 62.5-46.2c14.1-18.4 25.2-43.2 30-77.7c7.6-54.1-2-118.9-16.8-175.7c-18.7-71.5-50.1-147.7-90-207.6c-26.5-39.8-57.2-73-91-92.7c-21.9-12.8-44.5-19.6-67.6-19.6c-23.1 0-45.7 6.8-67.6 19.6c-33.8 19.7-64.5 52.9-91 92.7c-39.9 59.9-71.3 136.1-90 207.6c-14.8 56.8-24.4 121.6-16.8 175.7c4.8 34.5 15.9 59.3 30 77.7c15.2 19.9 35.8 35 62.5 46.2c53.9 22.7 127.2 26.7 172.9 26.7z"/>
<path fill="#f65020" stroke="#f65020" d="M679.4 1487.1c45.3 0 118.2-4 171.9-26.6c26.7-11.2 47.4-26.3 62.6-46.2c14-18.4 25-43.1 29.9-77.5c7.6-53.9-1.9-118.2-16.6-174.7c-18.6-71.3-50-147.4-89.9-207c-26.4-39.5-56.9-72.5-90.5-92.1c-21.8-12.8-44.4-19.5-67.4-19.5c-23 0-45.6 6.7-67.4 19.5c-33.6 19.6-64.1 52.6-90.5 92.1c-39.9 59.6-71.3 135.7-89.9 207c-14.7 56.5-24.2 120.8-16.6 174.7c4.9 34.4 15.9 59.1 29.9 77.5c15.2 19.9 35.9 35 62.6 46.2c53.7 22.6 126.6 26.6 171.9 26.6z"/>
<path fill="#f65020" stroke="#f65020" d="M679.4 1486.7c45 0 117.7-4 171.3-26.6c26.5-11.2 47-26.2 62.1-45.9c14-18.3 25.1-42.9 29.9-77.2c7.7-53.7-1.7-117.9-16.4-174.3c-18.6-70.9-49.8-146.5-89.5-205.8c-26.3-39.4-56.7-72.2-90.2-91.7c-21.8-12.7-44.2-19.5-67.2-19.5c-23 0-45.4 6.8-67.2 19.5c-33.5 19.5-63.9 52.3-90.2 91.7c-39.7 59.3-70.9 134.9-89.5 205.8c-14.7 56.4-24.1 120.6-16.4 174.3c4.8 34.3 15.9 58.9 29.9 77.2c15.1 19.7 35.6 34.7 62.1 45.9c53.6 22.6 126.3 26.6 171.3 26.6z"/>
<path fill="#f65120" stroke="#f65120" d="M679.4 1486.4c44.6 0 116.9-4 170.3-26.6c26.5-11.1 47-26.1 62.2-45.9c14-18.3 25-42.8 29.8-76.9c7.7-53.5-1.7-117.3-16.3-173.3c-18.4-70.7-49.5-145.9-89-205c-26.2-39.2-56.6-71.9-90-91.4c-21.7-12.6-44.1-19.3-67-19.3c-22.9 0-45.3 6.7-67 19.3c-33.4 19.5-63.8 52.2-90 91.4c-39.5 59.1-70.6 134.3-89 205c-14.6 56-24 119.8-16.3 173.3c4.8 34.1 15.8 58.6 29.8 76.9c15.2 19.8 35.7 34.8 62.2 45.9c53.4 22.6 125.7 26.6 170.3 26.6z"/>
<path fill="#f75120" stroke="#f75120" d="M679.4 1486c44.4 0 116.4-4 169.7-26.5c26.4-11.2 46.8-26.2 61.8-45.8c14-18.3 25-42.7 29.8-76.7c7.7-53.2-1.6-116.6-16.1-172.4c-18.3-70.3-49.3-145.3-88.7-204.1c-26.1-39-56.4-71.6-89.7-91c-21.6-12.6-44-19.2-66.8-19.2c-22.8 0-45.2 6.6-66.8 19.2c-33.3 19.4-63.6 52-89.7 91c-39.4 58.8-70.4 133.8-88.7 204.1c-14.5 55.8-23.8 119.2-16.1 172.4c4.8 34 15.8 58.4 29.8 76.7c15 19.6 35.4 34.6 61.8 45.8c53.3 22.5 125.3 26.5 169.7 26.5z"/>
<path fill="#f75220" stroke="#f75220" d="M679.4 1485.7c44 0 115.6-4 168.7-26.5c26.4-11.2 46.9-26.1 61.9-45.8c13.9-18.2 24.9-42.6 29.7-76.5c7.7-53-1.5-116.1-16-171.6c-18.2-70-49.1-144.5-88.3-203c-26-38.9-56.2-71.3-89.4-90.6c-21-12.2-43.3-19.2-66.6-19.2c-23.3 0-45.6 7-66.6 19.2c-33.2 19.3-63.4 51.7-89.4 90.6c-39.2 58.5-70.1 133-88.3 203c-14.5 55.5-23.7 118.6-16 171.6c4.8 33.9 15.8 58.3 29.7 76.5c15 19.7 35.5 34.6 61.9 45.8c53.1 22.5 124.7 26.5 168.7 26.5z"/>
<path fill="#f75220" stroke="#f75220" d="M679.4 1485.3c43.6 0 114.8-3.9 167.8-26.3c26.4-11.2 46.9-26.2 61.9-45.9c13.8-18.1 24.8-42.4 29.6-76.2c7.6-52.7-1.5-115.5-15.8-170.7c-18.1-69.7-48.9-143.9-87.9-202.1c-26-38.8-56.1-71-89.2-90.3c-21.5-12.4-43.7-19.1-66.4-19.1c-22.7 0-44.9 6.7-66.4 19.1c-33.1 19.3-63.2 51.5-89.2 90.3c-39 58.2-69.8 132.4-87.9 202.1c-14.3 55.2-23.4 118-15.8 170.7c4.8 33.8 15.8 58.1 29.6 76.2c15 19.7 35.5 34.7 61.9 45.9c53 22.4 124.2 26.3 167.8 26.3z"/>
<path fill="#f75320" stroke="#f75320" d="M679.4 1484.9c43.4 0 114.3-3.9 167.2-26.3c26.2-11.1 46.5-26 61.4-45.5c14-18.3 24.9-42.7 29.8-76.2c7.6-52.5-1.5-115-15.8-170.1c-18.1-69.3-48.7-143.1-87.5-201c-25.9-38.5-55.8-70.7-88.9-89.8c-21.4-12.4-43.6-19-66.2-19c-22.6 0-44.8 6.6-66.2 19c-33.1 19.1-63 51.3-88.9 89.8c-38.8 57.9-69.4 131.7-87.5 201c-14.3 55.1-23.4 117.6-15.8 170.1c4.9 33.5 15.8 57.9 29.8 76.2c14.9 19.5 35.2 34.4 61.4 45.5c52.9 22.4 123.8 26.3 167.2 26.3z"/>
<path fill="#f7531f" stroke="#f7531f" d="M679.4 1484.6c43 0 113.5-3.9 166.2-26.3c26.2-11.1 46.5-26 61.5-45.5c13.8-18.1 24.8-42.3 29.7-76c7.5-52.2-1.4-114.3-15.6-169c-18-69.1-48.5-142.5-87.2-200.2c-25.8-38.4-55.6-70.4-88.6-89.5c-21.4-12.4-43.5-18.9-66-18.9c-22.5 0-44.6 6.5-66 18.9c-33 19.1-62.8 51.1-88.6 89.5c-38.7 57.7-69.2 131.1-87.2 200.2c-14.2 54.7-23.1 116.8-15.6 169c4.9 33.7 15.9 57.9 29.7 76c15 19.5 35.3 34.4 61.5 45.5c52.7 22.4 123.2 26.3 166.2 26.3z"/>
<path fill="#f7541f" stroke="#f7541f" d="M679.4 1484.2c42.8 0 113-3.9 165.6-26.3c26.1-11.1 46.3-25.9 61.2-45.4c13.8-18 24.7-42.1 29.6-75.7c7.5-52-1.3-113.7-15.4-168.1c-17.9-68.8-48.3-141.9-86.9-199.3c-25.7-38.3-55.4-70.2-88.3-89.2c-21.3-12.3-43.3-18.8-65.8-18.8c-22.5 0-44.5 6.5-65.8 18.8c-32.9 19-62.6 50.9-88.3 89.2c-38.6 57.4-69 130.5-86.9 199.3c-14.1 54.4-22.9 116.1-15.4 168.1c4.9 33.6 15.8 57.7 29.6 75.7c14.9 19.5 35.1 34.3 61.2 45.4c52.6 22.4 122.8 26.3 165.6 26.3z"/>
<path fill="#f7541f" stroke="#f7541f" d="M679.4 1483.9c42.4 0 112.2-3.9 164.6-26.2c26.2-11.1 46.4-26 61.3-45.5c13.7-17.9 24.6-42 29.5-75.4c7.5-51.8-1.3-113.3-15.3-167.5c-17.8-68.5-48.1-141.3-86.6-198.4c-25.6-38-55.2-69.7-87.9-88.6c-21.2-12.2-43.2-18.7-65.6-18.7c-22.4 0-44.4 6.5-65.6 18.7c-32.7 18.9-62.3 50.6-87.9 88.6c-38.5 57.1-68.8 129.9-86.6 198.4c-14 54.2-22.8 115.7-15.3 167.5c4.9 33.4 15.8 57.5 29.5 75.4c14.9 19.5 35.1 34.4 61.3 45.5c52.4 22.3 122.2 26.2 164.6 26.2z"/>
<path fill="#f7551f" stroke="#f7551f" d="M679.4 1483.5c42 0 111.5-3.9 163.7-26.1c26.2-11.1 46.4-26 61.3-45.5c13.7-17.9 24.5-41.8 29.4-75.2c7.5-51.5-1.2-112.6-15.1-166.5c-17.7-68.2-47.9-140.7-86.3-197.6c-25.5-37.8-55-69.4-87.6-88.1c-21.2-12.3-43.1-18.8-65.4-18.8c-22.3 0-44.2 6.5-65.4 18.8c-32.6 18.7-62.1 50.3-87.6 88.1c-38.4 56.9-68.6 129.4-86.3 197.6c-13.9 53.9-22.6 115-15.1 166.5c4.9 33.4 15.7 57.3 29.4 75.2c14.9 19.5 35.1 34.4 61.3 45.5c52.2 22.2 121.7 26.1 163.7 26.1z"/>
<path fill="#f7551f" stroke="#f7551f" d="M679.4 1483.1c41.8 0 111-3.8 163.1-26.1c25.9-11 46-25.8 60.8-45.1c13.7-17.9 24.6-41.9 29.5-75.2c7.6-51.3-1.1-112.2-15-165.9c-17.6-67.8-47.7-139.9-85.8-196.5c-25.4-37.6-54.8-68.9-87.2-87.6c-21.2-12.3-43.1-18.8-65.4-18.8c-22.3 0-44.2 6.5-65.4 18.8c-32.4 18.7-61.8 50-87.2 87.6c-38.1 56.6-68.2 128.7-85.8 196.5c-13.9 53.7-22.6 114.6-15 165.9c4.9 33.3 15.8 57.3 29.5 75.2c14.8 19.3 34.9 34.1 60.8 45.1c52.1 22.3 121.3 26.1 163.1 26.1z"/>
<path fill="#f7561f" stroke="#f7561f" d="M679.4 1482.8c41.5 0 110.2-3.9 162.2-26c25.9-11.1 46-25.9 60.8-45.2c13.7-17.8 24.6-41.7 29.5-74.9c7.5-51.1-1.1-111.5-14.9-164.9c-17.6-67.6-47.5-139.4-85.5-195.7c-25.3-37.5-54.6-68.7-86.9-87.3c-21.1-12.2-42.9-18.7-65.2-18.7c-22.3 0-44.1 6.5-65.2 18.7c-32.3 18.6-61.6 49.8-86.9 87.3c-38 56.3-67.9 128.1-85.5 195.7c-13.8 53.4-22.4 113.8-14.9 164.9c4.9 33.2 15.8 57.1 29.5 74.9c14.8 19.3 34.9 34.1 60.8 45.2c52 22.1 120.7 26 162.2 26z"/>
<path fill="#f8561f" stroke="#f8561f" d="M679.4 1482.4c41.1 0 109.5-3.8 161.3-25.9c26-11.1 46-25.9 60.8-45.2c13.6-17.7 24.4-41.5 29.3-74.4c7.6-50.9-.9-111.3-14.7-164.5c-17.5-67.3-47.2-138.6-85.1-194.6c-25.2-37.3-54.4-68.4-86.6-87c-21-12.1-42.8-18.6-65-18.6c-22.2 0-44 6.5-65 18.6c-32.2 18.6-61.4 49.7-86.6 87c-37.9 56-67.6 127.3-85.1 194.6c-13.8 53.2-22.3 113.6-14.7 164.5c4.9 32.9 15.7 56.7 29.3 74.4c14.8 19.3 34.8 34.1 60.8 45.2c51.8 22.1 120.2 25.9 161.3 25.9z"/>
<path fill="#f8571e" stroke="#f8571e" d="M679.4 1482c40.9 0 109-3.8 160.7-25.9c25.8-11 45.8-25.8 60.5-45.1c13.6-17.6 24.4-41.3 29.3-74.1c7.5-50.7-.9-110.7-14.6-163.6c-17.4-67-47-138-84.7-193.8c-25.2-37.2-54.3-68.1-86.4-86.6c-21-12.1-42.7-18.5-64.8-18.5c-22.1 0-43.8 6.4-64.8 18.5c-32.1 18.5-61.2 49.4-86.4 86.6c-37.7 55.8-67.3 126.8-84.7 193.8c-13.7 52.9-22.1 112.9-14.6 163.6c4.9 32.8 15.7 56.5 29.3 74.1c14.7 19.3 34.7 34.1 60.5 45.1c51.7 22.1 119.8 25.9 160.7 25.9z"/>
<path fill="#f8571e" stroke="#f8571e" d="M679.4 1481.6c40.6 0 108.3-3.7 159.7-25.7c25.8-11.1 45.8-25.8 60.5-44.9c13.5-17.7 24.4-41.3 29.3-74.2c7.5-50.4-.8-110-14.4-162.6c-17.3-66.7-46.8-137.5-84.4-193c-25.1-37-54.1-67.8-86.1-86.2c-20.4-11.8-42.1-18.5-64.6-18.5c-22.5 0-44.2 6.7-64.6 18.5c-32 18.4-61 49.2-86.1 86.2c-37.6 55.5-67.1 126.3-84.4 193c-13.6 52.6-21.9 112.2-14.4 162.6c4.9 32.9 15.8 56.5 29.3 74.2c14.7 19.1 34.7 33.8 60.5 44.9c51.4 22 119.1 25.7 159.7 25.7z"/>
<path fill="#f8571e" stroke="#f8571e" d="M679.4 1481.3c40.2 0 107.6-3.8 158.8-25.7c25.9-11.1 45.8-25.8 60.5-44.9c13.5-17.6 24.3-41.2 29.2-73.9c7.5-50.2-.8-109.6-14.3-162c-17.2-66.4-46.6-136.7-84-191.9c-24.9-36.8-53.9-67.5-85.8-85.9c-20.8-12-42.4-18.3-64.4-18.3c-22 0-43.6 6.3-64.4 18.3c-31.9 18.4-60.9 49.1-85.8 85.9c-37.4 55.2-66.8 125.5-84 191.9c-13.5 52.4-21.8 111.8-14.3 162c4.9 32.7 15.7 56.3 29.2 73.9c14.7 19.1 34.6 33.8 60.5 44.9c51.2 21.9 118.6 25.7 158.8 25.7z"/>
<path fill="#f8581e" stroke="#f8581e" d="M679.4 1480.9c40 0 107.1-3.7 158.2-25.7c25.7-11 45.6-25.7 60.2-44.8c13.5-17.6 24.2-41.1 29.1-73.7c7.6-49.9-.7-108.9-14.1-161c-17.1-66.2-46.5-136.3-83.8-191.3c-24.8-36.6-53.6-67.1-85.3-85.3c-20.8-12-42.4-18.3-64.3-18.3c-21.9 0-43.5 6.3-64.3 18.3c-31.7 18.2-60.5 48.7-85.3 85.3c-37.3 55-66.7 125.1-83.8 191.3c-13.4 52.1-21.7 111.1-14.1 161c4.9 32.6 15.6 56.1 29.1 73.7c14.6 19.1 34.5 33.8 60.2 44.8c51.1 22 118.2 25.7 158.2 25.7z"/>
<path fill="#f8591e" stroke="#f8591e" d="M679.4 1480.5c39.7 0 106.4-3.7 157.3-25.6c25.8-11 45.6-25.7 60.2-44.8c13.4-17.5 24.2-40.9 29.1-73.4c7.5-49.8-.7-108.5-14.1-160.5c-17-65.8-46.2-135.5-83.4-190.2c-24.7-36.4-53.4-66.8-85-84.9c-20.8-11.9-42.2-18.2-64.1-18.2c-21.9 0-43.3 6.3-64.1 18.2c-31.6 18.1-60.3 48.5-85 84.9c-37.2 54.7-66.4 124.4-83.4 190.2c-13.4 52-21.6 110.7-14.1 160.5c4.9 32.5 15.7 55.9 29.1 73.4c14.6 19.1 34.4 33.8 60.2 44.8c50.9 21.9 117.6 25.6 157.3 25.6z"/>
<path fill="#f8591e" stroke="#f8591e" d="M679.4 1480.1c39.4 0 105.7-3.7 156.5-25.4c25.6-11 45.4-25.7 60-44.7c13.4-17.5 24.2-40.9 29.1-73.4c7.5-49.5-.6-107.8-13.9-159.5c-16.9-65.5-46-134.9-83-189.4c-24.7-36.3-53.3-66.5-84.8-84.6c-20.7-11.8-42.1-18.1-63.9-18.1c-21.8 0-43.2 6.3-63.9 18.1c-31.5 18.1-60.1 48.3-84.8 84.6c-37 54.5-66.1 123.9-83 189.4c-13.3 51.7-21.4 110-13.9 159.5c4.9 32.5 15.7 55.9 29.1 73.4c14.6 19 34.4 33.7 60 44.7c50.8 21.7 117.1 25.4 156.5 25.4z"/>
<path fill="#f85a1e" stroke="#f85a1e" d="M679.4 1479.8c39.2 0 105.2-3.7 155.9-25.5c25.5-11 45.2-25.7 59.7-44.6c13.4-17.4 24.2-40.7 29.1-73.1c7.4-49.3-.6-107.4-13.9-158.9c-16.8-65.2-45.7-134.2-82.6-188.3c-24.6-36.2-53.1-66.2-84.5-84.2c-20.6-11.8-42-18.1-63.7-18.1c-21.7 0-43.1 6.3-63.7 18.1c-31.4 18-59.9 48-84.5 84.2c-36.9 54.1-65.8 123.1-82.6 188.3c-13.3 51.5-21.3 109.6-13.9 158.9c4.9 32.4 15.7 55.7 29.1 73.1c14.5 18.9 34.2 33.6 59.7 44.6c50.7 21.8 116.7 25.5 155.9 25.5z"/>
<path fill="#f85a1d" stroke="#f85a1d" d="M679.4 1479.4c38.9 0 104.5-3.7 155-25.4c25.5-11 45.2-25.7 59.7-44.6c13.4-17.3 24.1-40.6 29-72.9c7.4-49-.5-106.7-13.7-157.9c-16.7-64.9-45.5-133.6-82.3-187.5c-24.5-36-52.9-66-84.2-83.9c-20.6-11.8-41.8-18-63.5-18c-21.7 0-42.9 6.2-63.5 18c-31.3 17.9-59.7 47.9-84.2 83.9c-36.8 53.9-65.6 122.6-82.3 187.5c-13.2 51.2-21.1 108.9-13.7 157.9c4.9 32.3 15.6 55.6 29 72.9c14.5 18.9 34.2 33.6 59.7 44.6c50.5 21.7 116.1 25.4 155 25.4z"/>
<path fill="#f85b1d" stroke="#f85b1d" d="M679.4 1479c38.6 0 103.8-3.7 154.1-25.3c25.6-11 45.3-25.6 59.8-44.5c13.2-17.4 23.9-40.5 28.8-72.7c7.5-48.8-.4-106.1-13.5-157.1c-16.6-64.6-45.3-133-81.9-186.7c-24.5-35.8-52.8-65.7-84-83.5c-20.5-11.7-41.7-17.9-63.3-17.9c-21.6 0-42.8 6.2-63.3 17.9c-31.2 17.8-59.5 47.7-84 83.5c-36.6 53.7-65.3 122.1-81.9 186.7c-13.1 51-21 108.3-13.5 157.1c4.9 32.2 15.6 55.3 28.8 72.7c14.5 18.9 34.2 33.5 59.8 44.5c50.3 21.6 115.5 25.3 154.1 25.3z"/>
<path fill="#f85c1d" stroke="#f85c1d" d="M679.4 1478.6c38.4 0 103.4-3.6 153.5-25.3c25.4-10.9 44.9-25.5 59.3-44.2c13.3-17.3 24.1-40.5 29-72.7c7.4-48.6-.4-105.6-13.5-156.4c-16.5-64.3-45.1-132.3-81.5-185.6c-24.3-35.7-52.6-65.5-83.7-83.2c-20.4-11.7-41.5-17.9-63.1-17.9c-21.6 0-42.7 6.2-63.1 17.9c-31.1 17.7-59.4 47.5-83.7 83.2c-36.4 53.3-65 121.3-81.5 185.6c-13.1 50.8-20.9 107.8-13.5 156.4c4.9 32.2 15.7 55.4 29 72.7c14.4 18.7 33.9 33.3 59.3 44.2c50.1 21.7 115.1 25.3 153.5 25.3z"/>
<path fill="#f85c1d" stroke="#f85c1d" d="M679.4 1478.2c38.1 0 102.7-3.6 152.6-25.2c25.4-10.9 45-25.5 59.4-44.2c13.2-17.3 23.9-40.3 28.8-72.4c7.4-48.3-.3-105.1-13.3-155.5c-16.4-64.1-44.9-131.7-81.1-184.9c-24.3-35.5-52.5-65.1-83.5-82.8c-20.4-11.6-41.4-17.8-62.9-17.8c-21.5 0-42.5 6.2-62.9 17.8c-31 17.7-59.2 47.3-83.5 82.8c-36.2 53.2-64.7 120.8-81.1 184.9c-13 50.4-20.7 107.2-13.3 155.5c4.9 32.1 15.6 55.1 28.8 72.4c14.4 18.7 34 33.3 59.4 44.2c49.9 21.6 114.5 25.2 152.6 25.2z"/>
<path fill="#f85d1d" stroke="#f85d1d" d="M679.4 1477.9c37.8 0 102-3.7 151.8-25.2c25.4-10.9 44.9-25.5 59.3-44.2c13.2-17.2 23.8-40.1 28.7-71.9c7.5-48.2-.2-104.8-13.1-155.2c-16.4-63.7-44.7-130.9-80.8-183.7c-24.2-35.5-52.3-64.9-83.2-82.5c-20.3-11.6-41.3-17.7-62.7-17.7c-21.4 0-42.4 6.1-62.7 17.7c-30.9 17.6-59 47-83.2 82.5c-36.1 52.8-64.4 120-80.8 183.7c-12.9 50.4-20.6 107-13.1 155.2c4.9 31.8 15.5 54.7 28.7 71.9c14.4 18.7 33.9 33.3 59.3 44.2c49.8 21.5 114 25.2 151.8 25.2z"/>
<path fill="#f85e1d" stroke="#f85e1d" d="M679.4 1477.5c37.6 0 101.5-3.7 151.2-25.2c25.2-10.9 44.7-25.4 59-44.1c13.1-17.1 23.8-40 28.7-71.7c7.4-47.9-.2-104.2-13-154.2c-16.4-63.5-44.6-130.6-80.6-183.2c-24.1-35.2-52-64.5-82.8-82c-20.2-11.4-41.1-17.6-62.5-17.6c-21.4 0-42.3 6.2-62.5 17.6c-30.8 17.5-58.7 46.8-82.8 82c-36 52.6-64.2 119.7-80.6 183.2c-12.8 50-20.4 106.3-13 154.2c4.9 31.7 15.6 54.6 28.7 71.7c14.3 18.7 33.8 33.2 59 44.1c49.7 21.5 113.6 25.2 151.2 25.2z"/>
<path fill="#f85e1d" stroke="#f85e1d" d="M679.4 1477.1c37.3 0 100.9-3.6 150.3-25c25.2-10.9 44.6-25.5 58.9-44c13.1-17.1 23.8-39.9 28.7-71.6c7.4-47.8-.1-103.8-12.9-153.7c-16.2-63.1-44.3-129.8-80.2-182.1c-24-35-51.8-64.2-82.5-81.6c-20.2-11.4-41-17.5-62.3-17.5c-21.3 0-42.1 6.1-62.3 17.5c-30.7 17.4-58.5 46.6-82.5 81.6c-35.9 52.3-64 119-80.2 182.1c-12.8 49.9-20.3 105.9-12.9 153.7c4.9 31.7 15.6 54.5 28.7 71.6c14.3 18.5 33.7 33.1 58.9 44c49.4 21.4 113 25 150.3 25z"/>
<path fill="#f85f1d" stroke="#f85f1d" d="M679.4 1476.7c37 0 100.2-3.6 149.5-24.9c25.2-10.9 44.6-25.4 58.8-44c13.1-17 23.8-39.8 28.7-71.4c7.4-47.5-.1-103.1-12.8-152.7c-16.1-62.9-44.1-129.3-79.9-181.4c-23.8-34.8-51.5-63.8-82-81.1c-20.2-11.5-41-17.6-62.3-17.6c-21.3 0-42.1 6.1-62.3 17.6c-30.5 17.3-58.2 46.3-82 81.1c-35.8 52.1-63.8 118.5-79.9 181.4c-12.7 49.6-20.2 105.2-12.8 152.7c4.9 31.6 15.6 54.4 28.7 71.4c14.2 18.6 33.6 33.1 58.8 44c49.3 21.3 112.5 24.9 149.5 24.9z"/>
<path fill="#f85f1c" stroke="#f85f1c" d="M679.4 1476.3c36.8 0 99.7-3.6 148.9-24.9c25.1-10.9 44.4-25.4 58.6-43.9c13-16.9 23.6-39.6 28.5-71.1c7.4-47.4 0-102.8-12.7-152.2c-16-62.5-43.9-128.5-79.4-180.3c-23.8-34.6-51.4-63.5-81.8-80.8c-20.1-11.4-40.9-17.5-62.1-17.5c-21.2 0-42 6.1-62.1 17.5c-30.4 17.3-58 46.2-81.8 80.8c-35.5 51.8-63.4 117.8-79.4 180.3c-12.7 49.4-20.1 104.8-12.7 152.2c4.9 31.5 15.5 54.2 28.5 71.1c14.2 18.5 33.5 33 58.6 43.9c49.2 21.3 112.1 24.9 148.9 24.9z"/>
<path fill="#f8601c" stroke="#f8601c" d="M679.4 1475.9c36.6 0 99.1-3.6 148-24.8c25.1-10.9 44.4-25.4 58.6-43.9c13-16.9 23.6-39.5 28.5-70.9c7.3-47.1 0-102.1-12.6-151.2c-15.9-62.3-43.7-128-79.1-179.6c-23.7-34.5-51.2-63.2-81.5-80.4c-20-11.4-40.7-17.4-61.9-17.4c-21.2 0-41.9 6-61.9 17.4c-30.3 17.2-57.8 45.9-81.5 80.4c-35.4 51.6-63.2 117.3-79.1 179.6c-12.6 49.1-19.9 104.1-12.6 151.2c4.9 31.4 15.5 54 28.5 70.9c14.2 18.5 33.5 33 58.6 43.9c48.9 21.2 111.4 24.8 148 24.8z"/>
<path fill="#f8611c" stroke="#f8611c" d="M679.4 1475.5c36.3 0 98.4-3.5 147.2-24.7c25-10.9 44.3-25.3 58.4-43.7c13-16.9 23.6-39.5 28.5-70.8c7.4-46.9 .1-101.7-12.4-150.7c-15.9-61.9-43.5-127.2-78.7-178.5c-23.7-34.3-51.1-62.9-81.3-80.1c-19.9-11.3-40.6-17.3-61.7-17.3c-21.1 0-41.8 6-61.7 17.3c-30.2 17.2-57.6 45.8-81.3 80.1c-35.2 51.3-62.8 116.6-78.7 178.5c-12.5 49-19.8 103.8-12.4 150.7c4.9 31.3 15.5 53.9 28.5 70.8c14.1 18.4 33.4 32.8 58.4 43.7c48.8 21.2 110.9 24.7 147.2 24.7z"/>
<path fill="#f8611c" stroke="#f8611c" d="M679.4 1475.1c36 0 97.8-3.5 146.3-24.6c25.1-10.9 44.3-25.3 58.5-43.7c12.9-16.8 23.5-39.3 28.4-70.6c7.3-46.6 .1-101.1-12.3-149.7c-15.8-61.7-43.3-126.7-78.4-177.8c-23.5-34.2-50.8-62.7-81-79.7c-19.9-11.3-40.5-17.3-61.5-17.3c-21 0-41.6 6-61.5 17.3c-30.2 17-57.5 45.5-81 79.7c-35.1 51.1-62.6 116.1-78.4 177.8c-12.4 48.6-19.6 103.1-12.3 149.7c4.9 31.3 15.5 53.8 28.4 70.6c14.2 18.4 33.4 32.8 58.5 43.7c48.5 21.1 110.3 24.6 146.3 24.6z"/>
<path fill="#f8621c" stroke="#f8621c" d="M679.4 1474.7c35.8 0 97.3-3.5 145.8-24.6c24.9-10.9 44-25.3 58.1-43.6c12.9-16.7 23.4-39.2 28.3-70.3c7.4-46.5 .2-100.7-12.2-149.2c-15.7-61.3-43-125.9-78-176.7c-23.4-34.1-50.6-62.4-80.7-79.4c-19.8-11.2-40.3-17.2-61.3-17.2c-21 0-41.5 6-61.3 17.2c-30.1 17-57.3 45.3-80.7 79.4c-35 50.8-62.3 115.4-78 176.7c-12.4 48.5-19.6 102.7-12.2 149.2c4.9 31.1 15.4 53.6 28.3 70.3c14.1 18.3 33.2 32.7 58.1 43.6c48.5 21.1 110 24.6 145.8 24.6z"/>
<path fill="#f8621c" stroke="#f8621c" d="M679.4 1474.3c35.6 0 96.7-3.5 144.9-24.5c25-10.9 44.1-25.3 58.2-43.6c12.8-16.7 23.3-39.1 28.2-70.1c7.3-46.2 .2-100.1-12.1-148.3c-15.6-61.1-42.8-125.4-77.6-175.9c-23.4-33.9-50.5-62.2-80.5-79.1c-19.7-11.1-40.2-17.1-61.1-17.1c-20.9 0-41.4 6-61.1 17.1c-30 16.9-57.1 45.2-80.5 79.1c-34.8 50.5-62 114.8-77.6 175.9c-12.3 48.2-19.4 102.1-12.1 148.3c4.9 31 15.4 53.4 28.2 70.1c14.1 18.3 33.2 32.7 58.2 43.6c48.2 21 109.3 24.5 144.9 24.5z"/>
<path fill="#f8631c" stroke="#f8631c" d="M679.4 1473.9c35.3 0 96-3.5 144.1-24.4c24.9-10.8 43.9-25.2 58-43.4c12.8-16.7 23.4-39 28.3-70.1c7.2-45.9 .3-99.4-12-147.3c-15.5-60.9-42.6-124.9-77.3-175.2c-23.3-33.8-50.3-61.9-80.2-78.8c-19.7-11.1-40.1-17-60.9-17c-20.8 0-41.2 5.9-60.9 17c-29.9 16.9-56.9 45-80.2 78.8c-34.7 50.3-61.8 114.3-77.3 175.2c-12.3 47.9-19.2 101.4-12 147.3c4.9 31.1 15.5 53.4 28.3 70.1c14.1 18.2 33.1 32.6 58 43.4c48.1 20.9 108.8 24.4 144.1 24.4z"/>
<path fill="#f8641b" stroke="#f8641b" d="M679.4 1473.5c35.1 0 95.6-3.5 143.5-24.4c24.8-10.8 43.7-25.2 57.7-43.3c12.8-16.6 23.3-38.9 28.2-69.8c7.3-45.8 .3-99.1-11.8-146.8c-15.5-60.6-42.5-124.3-77.1-174.4c-23.2-33.5-50.1-61.4-79.7-78.1c-19.7-11.1-40-17-60.8-17c-20.8 0-41.1 5.9-60.8 17c-29.6 16.7-56.5 44.6-79.7 78.1c-34.6 50.1-61.6 113.8-77.1 174.4c-12.1 47.7-19.1 101-11.8 146.8c4.9 30.9 15.4 53.2 28.2 69.8c14 18.1 32.9 32.5 57.7 43.3c47.9 20.9 108.4 24.4 143.5 24.4z"/>
<path fill="#f8641b" stroke="#f8641b" d="M679.4 1473.1c34.9 0 95-3.5 142.7-24.3c24.8-10.8 43.7-25.2 57.7-43.3c12.7-16.5 23.1-38.7 28.1-69.3c7.2-45.6 .4-98.7-11.7-146.2c-15.4-60.3-42.3-123.8-76.8-173.6c-23.1-33.4-49.9-61.2-79.4-77.8c-19.6-11.1-39.9-16.9-60.6-16.9c-20.7 0-41 5.8-60.6 16.9c-29.5 16.6-56.3 44.4-79.4 77.8c-34.5 49.8-61.4 113.3-76.8 173.6c-12.1 47.5-18.9 100.6-11.7 146.2c5 30.6 15.4 52.8 28.1 69.3c14 18.1 32.9 32.5 57.7 43.3c47.7 20.8 107.8 24.3 142.7 24.3z"/>
<path fill="#f8651b" stroke="#f8651b" d="M679.4 1472.7c34.6 0 94.3-3.5 141.9-24.2c24.7-10.8 43.6-25.1 57.5-43.1c12.7-16.5 23.2-38.6 28.1-69.3c7.3-45.4 .5-98.2-11.6-145.6c-15.3-60-42.1-123-76.3-172.5c-23-33.3-49.8-60.9-79.2-77.5c-19.5-11-39.8-16.9-60.4-16.9c-20.6 0-40.9 5.9-60.4 16.9c-29.4 16.6-56.2 44.2-79.2 77.5c-34.2 49.5-61 112.5-76.3 172.5c-12.1 47.4-18.9 100.2-11.6 145.6c4.9 30.7 15.4 52.8 28.1 69.3c13.9 18 32.8 32.3 57.5 43.1c47.6 20.7 107.3 24.2 141.9 24.2z"/>
<path fill="#f8651b" stroke="#f8651b" d="M679.4 1472.3c34.3 0 93.7-3.4 141-24.1c24.8-10.8 43.6-25.1 57.5-43.1c12.7-16.5 23.2-38.5 28.1-69.1c7.2-45.1 .5-97.6-11.5-144.6c-15.2-59.8-41.9-122.5-76-171.9c-22.9-33.1-49.6-60.6-78.9-77.1c-19.5-11-39.6-16.8-60.2-16.8c-20.6 0-40.7 5.8-60.2 16.8c-29.3 16.5-56 44-78.9 77.1c-34.1 49.4-60.8 112.1-76 171.9c-12 47-18.7 99.5-11.5 144.6c4.9 30.6 15.4 52.6 28.1 69.1c13.9 18 32.7 32.3 57.5 43.1c47.3 20.7 106.7 24.1 141 24.1z"/>
<path fill="#f8661b" stroke="#f8661b" d="M679.4 1471.9c34.1 0 93.3-3.4 140.5-24.1c24.6-10.8 43.4-25.1 57.2-43c12.6-16.4 23-38.4 27.9-68.8c7.3-45 .6-97.2-11.3-144.1c-15.2-59.4-41.7-121.8-75.7-170.8c-22.8-33-49.3-60.4-78.6-76.8c-19.4-10.9-39.5-16.7-60-16.7c-20.5 0-40.6 5.8-60 16.7c-29.3 16.4-55.8 43.8-78.6 76.8c-34 49-60.5 111.4-75.7 170.8c-11.9 46.9-18.6 99.1-11.3 144.1c4.9 30.4 15.3 52.4 27.9 68.8c13.8 17.9 32.6 32.2 57.2 43c47.2 20.7 106.4 24.1 140.5 24.1z"/>
<path fill="#f8671b" stroke="#f8671b" d="M679.4 1471.5c33.8 0 92.6-3.4 139.7-24.1c24.6-10.7 43.3-25 57.1-42.9c12.6-16.4 23-38.2 27.9-68.6c7.2-44.7 .6-96.6-11.2-143.2c-15.1-59.2-41.5-121.3-75.3-170.1c-22.8-32.8-49.2-60.1-78.4-76.5c-19.3-10.8-39.4-16.6-59.8-16.6c-20.4 0-40.5 5.8-59.8 16.6c-29.2 16.4-55.6 43.7-78.4 76.5c-33.8 48.8-60.2 110.9-75.3 170.1c-11.8 46.6-18.4 98.5-11.2 143.2c4.9 30.4 15.3 52.2 27.9 68.6c13.8 17.9 32.5 32.2 57.1 42.9c47.1 20.7 105.9 24.1 139.7 24.1z"/>
<path fill="#f8671b" stroke="#f8671b" d="M679.4 1471.1c33.3 0 91.8-3.4 138.9-24c24.5-10.7 43.2-24.9 57-42.8c12.5-16.2 23-38.1 27.9-68.5c7.2-44.5 .6-96.2-11.2-142.6c-15-58.8-41.2-120.5-74.9-169c-22.7-32.7-49-59.9-78.1-76.2c-19.3-10.8-39.2-16.5-59.6-16.5c-20.4 0-40.3 5.7-59.6 16.5c-29.1 16.3-55.4 43.5-78.1 76.2c-33.7 48.5-59.9 110.2-74.9 169c-11.8 46.4-18.4 98.1-11.2 142.6c4.9 30.4 15.4 52.3 27.9 68.5c13.8 17.9 32.5 32.1 57 42.8c47.1 20.6 105.6 24 138.9 24z"/>
<path fill="#f8681a" stroke="#f8681a" d="M679.4 1470.6c32.4 0 91.1-3.1 138.3-23.9c24.4-10.7 43-24.9 56.7-42.7c12.5-16.2 22.9-38 27.8-68.2c7.2-44.3 .7-95.6-11-141.8c-14.9-58.6-41-120-74.5-168.3c-22.6-32.5-48.8-59.5-77.7-75.7c-19.3-10.8-39.2-16.6-59.6-16.6c-20.4 0-40.3 5.8-59.6 16.6c-28.9 16.2-55.1 43.2-77.7 75.7c-33.5 48.3-59.6 109.7-74.5 168.3c-11.7 46.2-18.2 97.5-11 141.8c4.9 30.2 15.3 52 27.8 68.2c13.7 17.8 32.3 32 56.7 42.7c47.2 20.8 105.9 23.9 138.3 23.9z"/>
<path fill="#f8691a" stroke="#f8691a" d="M679.4 1470.2c31 0 90-2.9 137.5-23.8c24.4-10.7 43-24.9 56.7-42.7c12.4-16.1 22.8-37.9 27.7-68c7.2-44.1 .7-95.2-10.9-141.2c-14.9-58.2-40.9-119.2-74.2-167.2c-22.5-32.4-48.6-59.3-77.4-75.5c-19.2-10.7-39.1-16.4-59.4-16.4c-20.3 0-40.2 5.7-59.4 16.4c-28.8 16.2-54.9 43.1-77.4 75.5c-33.3 48-59.3 109-74.2 167.2c-11.6 46-18.1 97.1-10.9 141.2c4.9 30.1 15.3 51.9 27.7 68c13.7 17.8 32.3 32 56.7 42.7c47.5 20.9 106.5 23.8 137.5 23.8z"/>
<path fill="#f8691a" stroke="#f8691a" d="M679.4 1469.8c35.3 0 91.5-3.8 136.7-23.7c24.4-10.7 42.9-24.9 56.5-42.5c12.5-16.1 22.9-37.8 27.8-68c7.1-43.8 .8-94.6-10.8-140.3c-14.8-58-40.7-118.7-73.9-166.5c-22.4-32.2-48.4-59-77.1-75.1c-19.2-10.7-39-16.4-59.2-16.4c-20.2 0-40 5.7-59.2 16.4c-28.7 16.1-54.7 42.9-77.1 75.1c-33.2 47.8-59.1 108.5-73.9 166.5c-11.6 45.7-17.9 96.5-10.8 140.3c4.9 30.2 15.3 51.9 27.8 68c13.6 17.6 32.1 31.8 56.5 42.5c45.2 19.9 101.4 23.7 136.7 23.7z"/>
<path fill="#f86a1a" stroke="#f86a1a" d="M679.4 1469.4c35.8 0 91.2-4 135.9-23.6c24.4-10.7 42.9-24.9 56.5-42.5c12.4-16.1 22.8-37.7 27.7-67.7c7.1-43.7 .8-94.2-10.8-139.8c-14.6-57.6-40.4-118-73.4-165.5c-22.4-32.1-48.3-58.7-76.9-74.7c-19.1-10.7-38.8-16.4-59-16.4c-20.2 0-39.9 5.7-59 16.4c-28.6 16-54.5 42.6-76.9 74.7c-33 47.5-58.8 107.9-73.4 165.5c-11.6 45.6-17.9 96.1-10.8 139.8c4.9 30 15.3 51.6 27.7 67.7c13.6 17.6 32.1 31.8 56.5 42.5c44.7 19.6 100.1 23.6 135.9 23.6z"/>
<path fill="#f86a1a" stroke="#f86a1a" d="M679.4 1469c36 0 91-4.1 135.3-23.7c24.3-10.7 42.7-24.8 56.2-42.3c12.4-16 22.7-37.6 27.6-67.5c7.1-43.4 .9-93.6-10.6-138.9c-14.6-57.5-40.3-117.7-73.2-165c-22.2-31.8-48-58.3-76.5-74.2c-19-10.6-38.7-16.3-58.8-16.3c-20.1 0-39.8 5.7-58.8 16.3c-28.5 15.9-54.3 42.4-76.5 74.2c-32.9 47.3-58.6 107.5-73.2 165c-11.5 45.3-17.7 95.5-10.6 138.9c4.9 29.9 15.2 51.5 27.6 67.5c13.5 17.5 31.9 31.6 56.2 42.3c44.3 19.6 99.3 23.7 135.3 23.7z"/>
<path fill="#f86b1a" stroke="#f86b1a" d="M679.4 1468.5c36.2 0 90.6-4.1 134.5-23.5c24.2-10.7 42.6-24.7 56.1-42.2c12.3-15.9 22.7-37.5 27.6-67.4c7.1-43.2 .9-93.2-10.5-138.3c-14.5-57.1-40.1-116.9-72.9-164c-22.1-31.7-47.8-58-76.2-73.8c-18.9-10.6-38.6-16.2-58.6-16.2c-20 0-39.7 5.6-58.6 16.2c-28.4 15.8-54.1 42.1-76.2 73.8c-32.8 47.1-58.4 106.9-72.9 164c-11.4 45.1-17.6 95.1-10.5 138.3c4.9 29.9 15.3 51.5 27.6 67.4c13.5 17.5 31.9 31.5 56.1 42.2c43.9 19.4 98.3 23.5 134.5 23.5z"/>
<path fill="#f86b1a" stroke="#f86b1a" d="M679.4 1468.1c36.4 0 90.3-4.2 133.7-23.4c24.3-10.7 42.6-24.8 56-42.2c12.3-15.9 22.6-37.2 27.5-66.9c7.2-43.1 1-92.8-10.3-137.7c-14.4-56.9-39.9-116.4-72.6-163.2c-22-31.6-47.6-57.8-75.9-73.6c-18.9-10.5-38.4-16.1-58.4-16.1c-20 0-39.5 5.6-58.4 16.1c-28.3 15.8-53.9 42-75.9 73.6c-32.7 46.8-58.2 106.3-72.6 163.2c-11.3 44.9-17.5 94.6-10.3 137.7c4.9 29.7 15.2 51 27.5 66.9c13.4 17.4 31.7 31.5 56 42.2c43.4 19.2 97.3 23.4 133.7 23.4z"/>
<path fill="#f86c1a" stroke="#f86c1a" d="M679.4 1467.7c36.6 0 89.8-4.3 132.9-23.3c24.3-10.7 42.6-24.8 56-42.2c12.2-15.8 22.5-37.1 27.4-66.7c7.1-42.9 1-92.4-10.3-137.1c-14.3-56.6-39.6-115.7-72.1-162.2c-22-31.5-47.5-57.6-75.7-73.3c-18.8-10.4-38.3-16-58.2-16c-19.9 0-39.4 5.6-58.2 16c-28.2 15.7-53.7 41.8-75.7 73.3c-32.5 46.5-57.8 105.6-72.1 162.2c-11.3 44.7-17.4 94.2-10.3 137.1c4.9 29.6 15.2 50.9 27.4 66.7c13.4 17.4 31.7 31.5 56 42.2c43.1 19 96.3 23.3 132.9 23.3z"/>
<path fill="#f86c1a" stroke="#f86c1a" d="M679.4 1467.3c36.6 0 89.6-4.4 132.4-23.4c24.1-10.6 42.3-24.7 55.7-42c12.1-15.8 22.4-37 27.3-66.5c7.1-42.6 1.1-91.8-10.2-136.2c-14.2-56.3-39.4-115.2-71.8-161.5c-21.9-31.3-47.3-57.3-75.4-72.9c-18.7-10.5-38.2-16-58-16c-19.8 0-39.3 5.5-58 16c-28.1 15.6-53.5 41.6-75.4 72.9c-32.4 46.3-57.6 105.2-71.8 161.5c-11.3 44.4-17.3 93.6-10.2 136.2c4.9 29.5 15.2 50.7 27.3 66.5c13.4 17.3 31.6 31.4 55.7 42c42.8 19 95.8 23.4 132.4 23.4z"/>
<path fill="#f86c1a" stroke="#f86c1a" d="M679.4 1466.8c36.7 0 89.1-4.4 131.6-23.2c24.1-10.6 42.2-24.6 55.5-41.8c12.2-15.8 22.5-37 27.4-66.4c7-42.5 1.1-91.5-10.1-135.7c-14.2-56-39.3-114.5-71.5-160.5c-21.8-31.2-47.1-57-75.1-72.6c-18.7-10.4-38-15.9-57.8-15.9c-19.8 0-39.1 5.5-57.8 15.9c-28 15.6-53.3 41.4-75.1 72.6c-32.2 46-57.3 104.5-71.5 160.5c-11.2 44.2-17.1 93.2-10.1 135.7c4.9 29.4 15.2 50.6 27.4 66.4c13.3 17.2 31.4 31.2 55.5 41.8c42.5 18.8 94.9 23.2 131.6 23.2z"/>
<path fill="#f86d1a" stroke="#f86d1a" d="M679.4 1466.4c36.8 0 88.7-4.5 130.8-23.1c24.1-10.7 42.2-24.7 55.5-41.9c12.1-15.6 22.3-36.8 27.2-66.1c7.1-42.2 1.2-90.9-9.9-134.8c-14.1-55.8-39-114-71.1-159.8c-21.7-31.1-47-56.8-74.9-72.3c-18.6-10.3-37.9-15.8-57.6-15.8c-19.7 0-39 5.5-57.6 15.8c-27.9 15.5-53.2 41.2-74.9 72.3c-32.1 45.8-57 104-71.1 159.8c-11.1 43.9-17 92.6-9.9 134.8c4.9 29.3 15.1 50.5 27.2 66.1c13.3 17.2 31.4 31.2 55.5 41.9c42.1 18.6 94 23.1 130.8 23.1z"/>
<path fill="#f86d1a" stroke="#f86d1a" d="M679.4 1466c36.8 0 88.3-4.5 130-23c24.1-10.7 42.2-24.7 55.4-41.9c12.1-15.6 22.3-36.7 27.2-65.9c7-42 1.2-90.4-9.9-134.2c-14-55.5-38.8-113.3-70.7-158.9c-21.6-30.8-46.8-56.5-74.6-71.9c-18.5-10.3-37.8-15.7-57.4-15.7c-19.6 0-38.9 5.4-57.4 15.7c-27.8 15.4-53 41.1-74.6 71.9c-31.9 45.6-56.7 103.4-70.7 158.9c-11.1 43.8-16.9 92.2-9.9 134.2c4.9 29.2 15.1 50.3 27.2 65.9c13.2 17.2 31.3 31.2 55.4 41.9c41.7 18.5 93.2 23 130 23z"/>
<path fill="#f86e1a" stroke="#f86e1a" d="M679.4 1465.5c36.8 0 88-4.5 129.5-23c23.9-10.6 41.8-24.5 55-41.5c12-15.6 22.3-36.6 27.2-65.9c7-41.8 1.2-90-9.8-133.6c-14-55.1-38.6-112.6-70.4-157.9c-21.5-30.7-46.6-56.2-74.3-71.6c-18.5-10.2-37.6-15.7-57.2-15.7c-19.6 0-38.7 5.5-57.2 15.7c-27.7 15.4-52.8 40.9-74.3 71.6c-31.8 45.3-56.4 102.8-70.4 157.9c-11 43.6-16.8 91.8-9.8 133.6c4.9 29.3 15.2 50.3 27.2 65.9c13.2 17 31.1 30.9 55 41.5c41.5 18.5 92.7 23 129.5 23z"/>
<path fill="#f86e1a" stroke="#f86e1a" d="M679.4 1465.1c36.8 0 87.5-4.6 128.7-22.9c23.9-10.6 41.8-24.6 54.9-41.5c12.1-15.6 22.3-36.5 27.2-65.6c7-41.7 1.2-89.5-9.7-132.9c-13.9-54.8-38.4-112-70-157.1c-21.5-30.6-46.5-56-74.1-71.2c-18.1-10.1-37.2-15.7-57-15.7c-19.8 0-38.9 5.6-57 15.7c-27.6 15.2-52.6 40.6-74.1 71.2c-31.6 45.1-56.1 102.3-70 157.1c-10.9 43.4-16.7 91.2-9.7 132.9c4.9 29.1 15.1 50 27.2 65.6c13.1 16.9 31 30.9 54.9 41.5c41.2 18.3 91.9 22.9 128.7 22.9z"/>
<path fill="#f86e19" stroke="#f86e19" d="M679.4 1464.7c36.8 0 87.1-4.7 128-22.8c23.9-10.7 41.7-24.6 54.8-41.6c12-15.4 22.2-36.3 27-65.3c7-41.5 1.3-89.1-9.6-132.3c-13.7-54.5-38.2-111.3-69.6-156.1c-21.3-30.4-46.2-55.6-73.6-70.9c-18.4-10.2-37.5-15.6-57-15.6c-19.5 0-38.6 5.4-57 15.6c-27.4 15.3-52.3 40.5-73.6 70.9c-31.4 44.8-55.9 101.6-69.6 156.1c-10.9 43.2-16.6 90.8-9.6 132.3c4.8 29 15 49.9 27 65.3c13.1 17 30.9 30.9 54.8 41.6c40.9 18.1 91.2 22.8 128 22.8z"/>
<path fill="#f86f19" stroke="#f86f19" d="M679.4 1464.2c36.8 0 86.6-4.7 127.2-22.7c23.8-10.6 41.6-24.5 54.7-41.3c11.9-15.5 22.1-36.3 27-65.3c7-41.2 1.4-88.5-9.5-131.4c-13.7-54.4-38-111.1-69.4-155.6c-21.2-30.2-45.9-55.2-73.2-70.4c-18.3-10.1-37.4-15.5-56.8-15.5c-19.4 0-38.5 5.4-56.8 15.5c-27.3 15.2-52 40.2-73.2 70.4c-31.4 44.5-55.7 101.2-69.4 155.6c-10.9 42.9-16.5 90.2-9.5 131.4c4.9 29 15.1 49.8 27 65.3c13.1 16.8 30.9 30.7 54.7 41.3c40.6 18 90.4 22.7 127.2 22.7z"/>
<path fill="#f86f19" stroke="#f86f19" d="M679.4 1463.8c36.8 0 86.1-4.7 126.4-22.6c23.9-10.6 41.6-24.5 54.6-41.3c11.9-15.4 22.1-36.2 27-65.1c6.9-41 1.4-88.1-9.4-130.8c-13.6-54.1-37.9-110.4-69.1-154.7c-21.1-30-45.7-54.9-72.9-70c-18.3-10.1-37.3-15.5-56.6-15.5c-19.3 0-38.3 5.4-56.6 15.5c-27.2 15.1-51.8 40-72.9 70c-31.2 44.3-55.5 100.6-69.1 154.7c-10.8 42.7-16.3 89.8-9.4 130.8c4.9 28.9 15.1 49.7 27 65.1c13 16.8 30.7 30.7 54.6 41.3c40.3 17.9 89.6 22.6 126.4 22.6z"/>
<path fill="#f87019" stroke="#f87019" d="M679.4 1463.3c36.7 0 85.8-4.7 125.9-22.6c23.7-10.6 41.4-24.4 54.3-41.2c11.9-15.3 22-36 26.9-64.7c6.9-40.8 1.4-87.6-9.3-130.1c-13.5-53.8-37.7-109.8-68.7-153.9c-21.1-29.9-45.6-54.7-72.7-69.7c-18.2-10-37.1-15.4-56.4-15.4c-19.3 0-38.2 5.4-56.4 15.4c-27.1 15-51.6 39.8-72.7 69.7c-31 44.1-55.2 100.1-68.7 153.9c-10.7 42.5-16.2 89.3-9.3 130.1c4.9 28.7 15 49.4 26.9 64.7c12.9 16.8 30.6 30.6 54.3 41.2c40.1 17.9 89.2 22.6 125.9 22.6z"/>
<path fill="#f87019" stroke="#f87019" d="M679.4 1462.9c36.7 0 85.4-4.8 125.1-22.5c23.7-10.6 41.3-24.4 54.2-41c11.8-15.3 22-36 26.9-64.7c6.8-40.6 1.4-87.2-9.3-129.5c-13.4-53.5-37.4-109.1-68.3-152.9c-21-29.8-45.4-54.5-72.4-69.4c-18.2-10-37-15.3-56.2-15.3c-19.2 0-38 5.3-56.2 15.3c-27 14.9-51.4 39.6-72.4 69.4c-30.9 43.8-54.9 99.4-68.3 152.9c-10.7 42.3-16.1 88.9-9.3 129.5c4.9 28.7 15.1 49.4 26.9 64.7c12.9 16.6 30.5 30.4 54.2 41c39.7 17.7 88.4 22.5 125.1 22.5z"/>
<path fill="#f87019" stroke="#f87019" d="M679.4 1462.4c36.6 0 84.9-4.8 124.3-22.4c23.7-10.5 41.3-24.4 54.1-40.9c11.8-15.3 22-35.9 26.8-64.5c6.9-40.4 1.5-86.6-9-128.6c-13.4-53.3-37.3-108.7-68.1-152.3c-20.9-29.6-45.2-54.2-72.1-69c-18.1-10-36.9-15.3-56-15.3c-19.1 0-37.9 5.3-56 15.3c-26.9 14.8-51.2 39.4-72.1 69c-30.8 43.6-54.7 99-68.1 152.3c-10.5 42-15.9 88.2-9 128.6c4.8 28.6 15 49.2 26.8 64.5c12.8 16.5 30.4 30.4 54.1 40.9c39.4 17.6 87.7 22.4 124.3 22.4z"/>
<path fill="#f87119" stroke="#f87119" d="M679.4 1462c36.6 0 84.4-4.8 123.6-22.3c23.7-10.6 41.2-24.4 54-41c11.7-15.1 21.9-35.6 26.7-64.2c6.9-40.2 1.5-86.2-9-128c-13.3-53-37-108-67.6-151.3c-20.9-29.5-45.1-54-71.9-68.7c-18-10-36.7-15.2-55.8-15.2c-19.1 0-37.8 5.2-55.8 15.2c-26.8 14.7-51 39.2-71.9 68.7c-30.6 43.3-54.3 98.3-67.6 151.3c-10.5 41.8-15.9 87.8-9 128c4.8 28.6 15 49.1 26.7 64.2c12.8 16.6 30.3 30.4 54 41c39.2 17.5 87 22.3 123.6 22.3z"/>
<path fill="#f87119" stroke="#f87119" d="M679.4 1461.5c36.5 0 83.9-4.8 122.8-22.2c23.7-10.5 41.1-24.3 53.9-40.7c11.7-15.1 21.8-35.5 26.7-63.9c6.8-40.1 1.6-85.8-8.9-127.5c-13.2-52.7-36.8-107.4-67.3-150.6c-20.8-29.3-44.9-53.7-71.6-68.4c-18-9.8-36.6-15.1-55.6-15.1c-19 0-37.6 5.3-55.6 15.1c-26.7 14.7-50.8 39.1-71.6 68.4c-30.5 43.2-54.1 97.9-67.3 150.6c-10.5 41.7-15.7 87.4-8.9 127.5c4.9 28.4 15 48.8 26.7 63.9c12.8 16.4 30.2 30.2 53.9 40.7c38.9 17.4 86.3 22.2 122.8 22.2z"/>
<path fill="#f87219" stroke="#f87219" d="M679.4 1461.1c36.4 0 83.6-4.9 122.3-22.2c23.5-10.5 40.9-24.3 53.5-40.6c11.7-15.1 21.8-35.4 26.6-63.7c6.9-39.9 1.7-85.4-8.7-126.9c-13.2-52.4-36.7-106.8-67-149.6c-20.6-29.2-44.7-53.5-71.3-68.1c-17.9-9.8-36.5-15.1-55.4-15.1c-18.9 0-37.5 5.3-55.4 15.1c-26.6 14.6-50.7 38.9-71.3 68.1c-30.3 42.8-53.8 97.2-67 149.6c-10.4 41.5-15.6 87-8.7 126.9c4.8 28.3 14.9 48.6 26.6 63.7c12.6 16.3 30 30.1 53.5 40.6c38.7 17.3 85.9 22.2 122.3 22.2z"/>
<path fill="#f97219" stroke="#f97219" d="M679.4 1460.6c36.3 0 83.1-4.9 121.5-22.1c23.6-10.5 40.9-24.3 53.5-40.6c11.6-15 21.7-35.2 26.5-63.4c6.9-39.7 1.7-85-8.7-126.3c-13.1-52.1-36.4-106.1-66.5-148.7c-20.6-29.1-44.6-53.2-71.1-67.7c-17.8-9.8-36.3-15-55.2-15c-18.9 0-37.4 5.2-55.2 15c-26.5 14.5-50.5 38.6-71.1 67.7c-30.1 42.6-53.4 96.6-66.5 148.7c-10.4 41.3-15.6 86.6-8.7 126.3c4.8 28.2 14.9 48.4 26.5 63.4c12.6 16.3 29.9 30.1 53.5 40.6c38.4 17.2 85.2 22.1 121.5 22.1z"/>
<path fill="#f97319" stroke="#f97319" d="M679.4 1460.1c36.2 0 82.7-4.9 120.8-21.9c23.5-10.6 40.8-24.3 53.4-40.6c11.5-14.9 21.5-35.1 26.4-63.2c6.8-39.4 1.7-84.4-8.6-125.5c-13-51.8-36.2-105.6-66.2-147.9c-20.5-29-44.4-53-70.8-67.5c-17.8-9.7-36.2-14.9-55-14.9c-18.8 0-37.2 5.2-55 14.9c-26.4 14.5-50.3 38.5-70.8 67.5c-30 42.3-53.2 96.1-66.2 147.9c-10.3 41.1-15.4 86.1-8.6 125.5c4.9 28.1 14.9 48.3 26.4 63.2c12.6 16.3 29.9 30 53.4 40.6c38.1 17 84.6 21.9 120.8 21.9z"/>
<path fill="#f97319" stroke="#f97319" d="M679.4 1459.7c36.1 0 82.2-4.9 120-21.9c23.5-10.5 40.7-24.2 53.3-40.4c11.5-14.9 21.5-35 26.4-63.1c6.8-39.2 1.7-84-8.5-124.9c-12.9-51.5-36.1-104.9-65.9-147c-20.4-28.8-44.2-52.7-70.5-67.1c-17.7-9.7-36.1-14.9-54.8-14.9c-18.7 0-37.1 5.2-54.8 14.9c-26.3 14.4-50.1 38.3-70.5 67.1c-29.8 42.1-53 95.5-65.9 147c-10.2 40.9-15.3 85.7-8.5 124.9c4.9 28.1 14.9 48.2 26.4 63.1c12.6 16.2 29.8 29.9 53.3 40.4c37.8 17 83.9 21.9 120 21.9z"/>
<path fill="#f97319" stroke="#f97319" d="M679.4 1459.2c36 0 81.7-4.9 119.3-21.7c23.5-10.6 40.7-24.3 53.1-40.4c13.7-17.6 22.2-38.7 26.4-62.9c6.7-39 1.7-83.4-8.4-124.1c-12.9-51.2-35.9-104.4-65.6-146.3c-20.3-28.6-43.9-52.3-70-66.7c-17.7-9.7-36.1-14.8-54.8-14.8c-18.7 0-37.1 5.1-54.8 14.8c-26.1 14.4-49.7 38.1-70 66.7c-29.7 41.9-52.7 95.1-65.6 146.3c-10.1 40.7-15.1 85.1-8.4 124.1c4.2 24.2 12.7 45.3 26.4 62.9c12.4 16.1 29.6 29.8 53.1 40.4c37.6 16.8 83.3 21.7 119.3 21.7z"/>
<path fill="#f97419" stroke="#f97419" d="M679.4 1458.8c36 0 81.4-5 118.8-21.8c23.3-10.5 40.4-24.2 52.8-40.2c11.4-14.8 21.4-34.8 26.2-62.6c6.8-38.9 1.8-83.1-8.3-123.6c-12.8-51-35.7-103.9-65.3-145.5c-20.2-28.4-43.7-52-69.6-66.2c-17.7-9.7-35.9-14.8-54.6-14.8c-18.7 0-36.9 5.1-54.6 14.8c-25.9 14.2-49.4 37.8-69.6 66.2c-29.6 41.6-52.5 94.5-65.3 145.5c-10.1 40.5-15.1 84.7-8.3 123.6c4.8 27.8 14.8 47.8 26.2 62.6c12.4 16 29.5 29.7 52.8 40.2c37.4 16.8 82.8 21.8 118.8 21.8z"/>
<path fill="#f97419" stroke="#f97419" d="M679.4 1458.3c35.9 0 80.9-5 118-21.7c23.3-10.5 40.3-24.1 52.7-40c11.4-14.7 21.4-34.7 26.2-62.5c6.7-38.6 1.8-82.6-8.2-122.8c-12.7-50.7-35.5-103.3-64.9-144.8c-20.1-28.3-43.6-51.7-69.4-65.8c-17.6-9.7-35.8-14.8-54.4-14.8c-18.6 0-36.8 5.1-54.4 14.8c-25.8 14.1-49.3 37.5-69.4 65.8c-29.4 41.5-52.2 94.1-64.9 144.8c-10 40.2-14.9 84.2-8.2 122.8c4.8 27.8 14.8 47.8 26.2 62.5c12.4 15.9 29.4 29.5 52.7 40c37.1 16.7 82.1 21.7 118 21.7z"/>
<path fill="#f97519" stroke="#f97519" d="M679.4 1457.8c35.7 0 80.4-5 117.3-21.5c23.3-10.5 40.3-24.2 52.6-40.1c11.3-14.6 21.3-34.5 26.1-62.2c6.7-38.4 1.8-82.2-8.1-122.2c-12.6-50.4-35.3-102.7-64.6-143.9c-20-28.1-43.4-51.4-69.1-65.5c-17.5-9.6-35.7-14.7-54.2-14.7c-18.5 0-36.7 5.1-54.2 14.7c-25.7 14.1-49.1 37.4-69.1 65.5c-29.3 41.2-52 93.5-64.6 143.9c-9.9 40-14.8 83.8-8.1 122.2c4.8 27.7 14.8 47.6 26.1 62.2c12.3 15.9 29.3 29.6 52.6 40.1c36.9 16.5 81.6 21.5 117.3 21.5z"/>
<path fill="#f97519" stroke="#f97519" d="M679.4 1457.3c35.6 0 79.9-5 116.5-21.4c23.4-10.5 40.3-24.2 52.5-40c11.3-14.6 21.2-34.4 26.1-62c6.7-38.3 1.8-81.8-8.1-121.6c-12.5-50.1-35.1-102-64.2-142.9c-19.9-28-43.2-51.2-68.8-65.3c-17.5-9.5-35.6-14.6-54-14.6c-18.4 0-36.5 5.1-54 14.6c-25.6 14.1-48.9 37.3-68.8 65.3c-29.1 40.9-51.7 92.8-64.2 142.9c-9.9 39.8-14.8 83.3-8.1 121.6c4.9 27.6 14.8 47.4 26.1 62c12.2 15.8 29.1 29.5 52.5 40c36.6 16.4 80.9 21.4 116.5 21.4z"/>
<path fill="#f97519" stroke="#f97519" d="M679.4 1456.9c35.5 0 79.4-5 115.8-21.4c23.3-10.5 40.1-24.1 52.3-39.8c11.3-14.5 21.2-34.3 26.1-61.9c6.6-38 1.9-81.2-8-120.8c-12.4-49.9-34.9-101.5-63.9-142.2c-19.8-27.9-43-51-68.5-64.9c-17.4-9.5-35.4-14.5-53.8-14.5c-18.4 0-36.4 5-53.8 14.5c-25.5 13.9-48.7 37-68.5 64.9c-29 40.7-51.5 92.3-63.9 142.2c-9.9 39.6-14.6 82.8-8 120.8c4.9 27.6 14.8 47.4 26.1 61.9c12.2 15.7 29 29.3 52.3 39.8c36.4 16.4 80.3 21.4 115.8 21.4z"/>
<path fill="#f97619" stroke="#f97619" d="M679.4 1456.4c35.4 0 79.1-5 115.3-21.4c23.2-10.4 39.9-24 52-39.6c11.2-14.5 21.1-34.2 25.9-61.7c6.7-37.8 2-80.8-7.9-120.2c-12.3-49.6-34.6-100.9-63.4-141.3c-19.8-27.7-42.9-50.7-68.3-64.6c-17.3-9.4-35.3-14.4-53.6-14.4c-18.3 0-36.3 5-53.6 14.4c-25.4 13.9-48.5 36.9-68.3 64.6c-28.8 40.4-51.1 91.7-63.4 141.3c-9.9 39.4-14.6 82.4-7.9 120.2c4.8 27.5 14.7 47.2 25.9 61.7c12.1 15.6 28.8 29.2 52 39.6c36.2 16.4 79.9 21.4 115.3 21.4z"/>
<path fill="#f97618" stroke="#f97618" d="M679.4 1455.9c35.3 0 78.6-5 114.5-21.2c23.2-10.5 39.8-24 51.8-39.5c11.3-14.4 21.2-34.1 26-61.6c6.6-37.6 2-80.2-7.8-119.4c-12.2-49.3-34.4-100.4-63.1-140.6c-19.7-27.6-42.7-50.4-68-64.3c-17.3-9.3-35.2-14.3-53.4-14.3c-18.2 0-36.1 5-53.4 14.3c-25.3 13.9-48.3 36.7-68 64.3c-28.7 40.2-50.9 91.3-63.1 140.6c-9.8 39.2-14.4 81.8-7.8 119.4c4.8 27.5 14.7 47.2 26 61.6c12 15.5 28.6 29 51.8 39.5c35.9 16.2 79.2 21.2 114.5 21.2z"/>
<path fill="#f97718" stroke="#f97718" d="M679.4 1455.4c35.1 0 78.1-5 113.8-21.1c23.1-10.5 39.8-24 51.7-39.4c11.2-14.4 21.1-34 25.9-61.4c6.6-37.4 2-79.9-7.7-118.8c-12.2-49.1-34.3-99.7-62.8-139.7c-19.6-27.4-42.5-50.2-67.8-63.9c-17.1-9.4-34.9-14.3-53.1-14.3c-18.2 0-36 4.9-53.1 14.3c-25.3 13.7-48.2 36.5-67.8 63.9c-28.5 40-50.6 90.6-62.8 139.7c-9.7 38.9-14.3 81.4-7.7 118.8c4.8 27.4 14.7 47 25.9 61.4c11.9 15.4 28.6 28.9 51.7 39.4c35.7 16.1 78.7 21.1 113.8 21.1z"/>
<path fill="#f97718" stroke="#f97718" d="M679.4 1454.9c35 0 77.7-5 113-21c23.2-10.5 39.8-24 51.7-39.4c11.2-14.4 21-34 25.8-61.1c6.5-37.2 2-79.5-7.7-118.2c-12.1-48.8-34-99.1-62.4-138.8c-19.5-27.3-42.3-49.9-67.5-63.6c-17.1-9.3-34.8-14.2-52.9-14.2c-18.1 0-35.8 4.9-52.9 14.2c-25.2 13.7-48 36.3-67.5 63.6c-28.4 39.7-50.3 90-62.4 138.8c-9.7 38.7-14.2 81-7.7 118.2c4.8 27.1 14.6 46.7 25.8 61.1c11.9 15.4 28.5 28.9 51.7 39.4c35.3 16 78 21 113 21z"/>
<path fill="#f97718" stroke="#f97718" d="M679.4 1454.4c34.8 0 77.2-5 112.3-20.9c23.1-10.4 39.6-23.9 51.5-39.2c11-14.2 20.9-33.7 25.7-60.9c6.6-37.1 2.1-79-7.5-117.5c-12-48.5-33.8-98.6-62.1-138.1c-19.4-27.2-42.1-49.7-67.2-63.3c-17-9.2-34.7-14.1-52.7-14.1c-18 0-35.7 4.9-52.7 14.1c-25.1 13.6-47.8 36.1-67.2 63.3c-28.3 39.5-50.1 89.6-62.1 138.1c-9.6 38.5-14.1 80.4-7.5 117.5c4.8 27.2 14.7 46.7 25.7 60.9c11.9 15.3 28.4 28.8 51.5 39.2c35.1 15.9 77.5 20.9 112.3 20.9z"/>
<path fill="#f97818" stroke="#f97818" d="M679.4 1453.9c34.7 0 76.7-5 111.6-20.8c23.1-10.4 39.6-23.9 51.3-39.1c11.1-14.2 20.9-33.6 25.7-60.7c6.5-36.9 2.1-78.6-7.4-117c-12-48.1-33.7-97.8-61.7-137.1c-19.4-27-41.9-49.3-66.8-62.9c-17-9.2-34.7-14.1-52.7-14.1c-18 0-35.7 4.9-52.7 14.1c-24.9 13.6-47.4 35.9-66.8 62.9c-28 39.3-49.7 89-61.7 137.1c-9.5 38.4-13.9 80.1-7.4 117c4.8 27.1 14.6 46.5 25.7 60.7c11.7 15.2 28.2 28.7 51.3 39.1c34.9 15.8 76.9 20.8 111.6 20.8z"/>
<path fill="#f97818" stroke="#f97818" d="M679.4 1453.5c34.6 0 76.4-5.1 111.1-20.9c23-10.4 39.3-23.9 51-39c11-14.1 20.8-33.5 25.6-60.4c6.5-36.6 2.1-78-7.3-116.2c-11.9-47.9-33.5-97.3-61.4-136.4c-19.3-26.8-41.7-49.1-66.5-62.6c-17-9.2-34.6-14.1-52.5-14.1c-17.9 0-35.5 4.9-52.5 14.1c-24.8 13.5-47.2 35.8-66.5 62.6c-27.9 39.1-49.5 88.5-61.4 136.4c-9.4 38.2-13.8 79.6-7.3 116.2c4.8 26.9 14.6 46.3 25.6 60.4c11.7 15.1 28 28.6 51 39c34.7 15.8 76.5 20.9 111.1 20.9z"/>
<path fill="#f97918" stroke="#f97918" d="M679.4 1453c34.5 0 75.9-5.1 110.3-20.7c23-10.5 39.3-23.9 50.9-38.9c11-14.2 20.8-33.5 25.6-60.3c6.5-36.5 2.1-77.7-7.3-115.6c-11.8-47.7-33.3-96.8-61.1-135.6c-19.2-26.7-41.5-48.7-66.1-62.1c-16.9-9.2-34.4-14.1-52.3-14.1c-17.9 0-35.4 4.9-52.3 14.1c-24.6 13.4-46.9 35.4-66.1 62.1c-27.8 38.8-49.3 87.9-61.1 135.6c-9.4 37.9-13.8 79.1-7.3 115.6c4.8 26.8 14.6 46.1 25.6 60.3c11.6 15 27.9 28.4 50.9 38.9c34.4 15.6 75.8 20.7 110.3 20.7z"/>
<path fill="#f97918" stroke="#f97918" d="M679.4 1452.5c34.3 0 75.4-5.1 109.6-20.6c23-10.5 39.2-23.9 50.8-38.8c10.9-14.1 20.7-33.3 25.4-60.1c6.5-36.3 2.2-77.3-7.2-115c-11.7-47.4-33.1-96.2-60.7-134.7c-19.1-26.6-41.3-48.5-65.8-61.8c-16.8-9.1-34.3-14-52.1-14c-17.8 0-35.3 4.9-52.1 14c-24.5 13.3-46.7 35.2-65.8 61.8c-27.6 38.5-49 87.3-60.7 134.7c-9.4 37.7-13.7 78.7-7.2 115c4.7 26.8 14.5 46 25.4 60.1c11.6 14.9 27.8 28.3 50.8 38.8c34.2 15.5 75.3 20.6 109.6 20.6z"/>
<path fill="#f97a18" stroke="#f97a18" d="M679.4 1452c34.1 0 74.9-5.1 108.9-20.5c23-10.5 39.1-23.9 50.7-38.8c11.4-14.7 20.7-34 25.3-59.8c6.5-36 2.2-76.7-7.1-114.2c-11.7-47.2-32.9-95.7-60.4-134c-19-26.4-41.1-48.3-65.5-61.5c-16.8-9.1-34.2-13.9-51.9-13.9c-17.7 0-35.1 4.8-51.9 13.9c-24.4 13.2-46.5 35.1-65.5 61.5c-27.5 38.3-48.7 86.8-60.4 134c-9.3 37.5-13.6 78.2-7.1 114.2c4.6 25.8 13.9 45.1 25.3 59.8c11.6 14.9 27.7 28.3 50.7 38.8c34 15.4 74.8 20.5 108.9 20.5z"/>
<path fill="#f97a18" stroke="#f97a18" d="M679.4 1451.5c34 0 74.4-5.1 108.1-20.4c23-10.4 39.1-23.9 50.5-38.6c10.8-13.9 20.6-32.9 25.4-59.5c6.4-35.9 2.2-76.5-7-113.8c-11.6-46.9-32.7-95.1-60.1-133.2c-18.9-26.2-40.9-47.9-65.3-61.1c-16.6-9-33.9-13.8-51.6-13.8c-17.7 0-35 4.8-51.6 13.8c-24.4 13.2-46.4 34.9-65.3 61.1c-27.4 38.1-48.5 86.3-60.1 133.2c-9.2 37.3-13.4 77.9-7 113.8c4.8 26.6 14.6 45.6 25.4 59.5c11.4 14.7 27.5 28.2 50.5 38.6c33.7 15.3 74.1 20.4 108.1 20.4z"/>
<path fill="#f97a18" stroke="#f97a18" d="M679.4 1450.9c33.8 0 73.9-5 107.4-20.2c23-10.5 39-23.9 50.4-38.5c11.1-14.3 20.5-33.4 25.2-59.3c6.5-35.7 2.3-75.9-6.9-113c-11.5-46.7-32.5-94.6-59.7-132.5c-18.8-26.1-40.7-47.7-65-60.8c-16.6-9-33.8-13.7-51.4-13.7c-17.6 0-34.8 4.7-51.4 13.7c-24.3 13.1-46.2 34.7-65 60.8c-27.2 37.9-48.2 85.8-59.7 132.5c-9.2 37.1-13.4 77.3-6.9 113c4.7 25.9 14.1 45 25.2 59.3c11.4 14.6 27.4 28 50.4 38.5c33.5 15.2 73.6 20.2 107.4 20.2z"/>
<path fill="#f97b18" stroke="#f97b18" d="M679.4 1450.4c33.7 0 73.5-5 106.7-20.1c23-10.5 39-23.9 50.3-38.5c11.2-14.5 20.5-33.5 25.1-59c6.4-35.5 2.3-75.5-6.8-112.5c-11.5-46.3-32.3-93.9-59.4-131.5c-18.7-26-40.5-47.5-64.7-60.5c-16.5-8.9-33.7-13.7-51.2-13.7c-17.5 0-34.7 4.8-51.2 13.7c-24.2 13-46 34.5-64.7 60.5c-27.1 37.6-47.9 85.2-59.4 131.5c-9.1 37-13.2 77-6.8 112.5c4.6 25.5 13.9 44.5 25.1 59c11.3 14.6 27.3 28 50.3 38.5c33.2 15.1 73 20.1 106.7 20.1z"/>
<path fill="#f97c18" stroke="#f97c18" d="M679.4 1449.9c33.6 0 73.1-5.1 106.2-20.1c22.8-10.4 38.6-23.8 49.8-38.2c11.4-14.7 20.6-33.7 25.2-58.9c6.4-35.3 2.3-75.1-6.8-111.9c-11.4-46-32.1-93.3-59-130.6c-18.6-25.9-40.3-47.2-64.4-60.2c-16.4-8.9-33.5-13.6-51-13.6c-17.5 0-34.6 4.7-51 13.6c-24.1 13-45.8 34.3-64.4 60.2c-26.9 37.3-47.6 84.6-59 130.6c-9.1 36.8-13.2 76.6-6.8 111.9c4.6 25.2 13.8 44.2 25.2 58.9c11.2 14.4 27 27.8 49.8 38.2c33.1 15 72.6 20.1 106.2 20.1z"/>
<path fill="#f97c17" stroke="#f97c17" d="M679.4 1449.4c33.4 0 72.6-5.1 105.5-20c22.8-10.4 38.6-23.8 49.7-38.2c11.8-15.2 20.6-34.4 25-58.6c6.4-35.1 2.4-74.6-6.6-111.1c-11.3-45.8-31.9-92.8-58.6-129.9c-18.6-25.7-40.2-47-64.2-59.9c-16.4-8.8-33.4-13.5-50.8-13.5c-17.4 0-34.4 4.7-50.8 13.5c-24 12.9-45.6 34.2-64.2 59.9c-26.7 37.1-47.3 84.1-58.6 129.9c-9 36.5-13 76-6.6 111.1c4.4 24.2 13.2 43.4 25 58.6c11.1 14.4 26.9 27.8 49.7 38.2c32.9 14.9 72.1 20 105.5 20z"/>
<path fill="#f97d17" stroke="#f97d17" d="M679.4 1448.9c33.2 0 72.2-5.1 104.8-20c22.8-10.4 38.5-23.7 49.6-38c11.5-14.8 20.4-33.8 24.9-58.4c6.4-34.9 2.4-74.2-6.6-110.5c-11.2-45.5-31.7-92.2-58.2-129c-18.4-25.6-40-46.7-63.8-59.5c-16.3-8.9-33.3-13.6-50.7-13.6c-17.4 0-34.4 4.7-50.7 13.6c-23.8 12.8-45.4 33.9-63.8 59.5c-26.5 36.8-47 83.5-58.2 129c-9 36.3-13 75.6-6.6 110.5c4.5 24.6 13.4 43.6 24.9 58.4c11.1 14.3 26.8 27.6 49.6 38c32.6 14.9 71.6 20 104.8 20z"/>
<path fill="#f97d17" stroke="#f97d17" d="M679.4 1448.4c33 0 71.7-5.1 104-19.9c22.8-10.4 38.5-23.7 49.5-37.8c11.5-14.9 20.4-33.9 24.9-58.3c6.3-34.7 2.4-73.8-6.5-110c-11.2-45.1-31.5-91.4-57.9-128.1c-18.4-25.4-39.8-46.3-63.5-59.1c-16.3-8.8-33.2-13.5-50.5-13.5c-17.3 0-34.2 4.7-50.5 13.5c-23.7 12.8-45.1 33.7-63.5 59.1c-26.4 36.7-46.7 83-57.9 128.1c-8.9 36.2-12.8 75.3-6.5 110c4.5 24.4 13.4 43.4 24.9 58.3c11 14.1 26.7 27.4 49.5 37.8c32.3 14.8 71 19.9 104 19.9z"/>
<path fill="#f97e17" stroke="#f97e17" d="M679.4 1447.8c32.9 0 71.2-5 103.3-19.7c22.8-10.4 38.4-23.7 49.3-37.8c12.1-15.5 20.6-34.7 24.8-58c6.3-34.5 2.5-73.3-6.4-109.2c-11-44.9-31.2-91-57.5-127.4c-18.3-25.3-39.6-46.1-63.2-58.8c-16.2-8.8-33.1-13.4-50.3-13.4c-17.2 0-34.1 4.6-50.3 13.4c-23.6 12.7-44.9 33.5-63.2 58.8c-26.3 36.4-46.5 82.5-57.5 127.4c-8.9 35.9-12.7 74.7-6.4 109.2c4.2 23.3 12.7 42.5 24.8 58c10.9 14.1 26.5 27.4 49.3 37.8c32.1 14.7 70.4 19.7 103.3 19.7z"/>
<path fill="#f97e17" stroke="#f97e17" d="M679.4 1447.3c32.7 0 70.7-5.1 102.6-19.6c22.8-10.4 38.3-23.7 49.2-37.8c12.5-16.1 20.6-35.4 24.7-57.7c6.3-34.3 2.5-72.9-6.3-108.6c-11-44.6-31.1-90.4-57.2-126.5c-18.2-25.1-39.4-45.9-62.9-58.5c-16.2-8.7-33-13.4-50.1-13.4c-17.1 0-33.9 4.7-50.1 13.4c-23.5 12.6-44.7 33.4-62.9 58.5c-26.1 36.1-46.2 81.9-57.2 126.5c-8.8 35.7-12.6 74.3-6.3 108.6c4.1 22.3 12.2 41.6 24.7 57.7c10.9 14.1 26.4 27.4 49.2 37.8c31.9 14.5 69.9 19.6 102.6 19.6z"/>
<path fill="#f97f17" stroke="#f97f17" d="M679.4 1446.8c32.5 0 70.2-5.1 101.9-19.5c22.7-10.4 38.2-23.7 49-37.6c12.5-16.1 20.6-35.4 24.7-57.6c6.2-34.1 2.5-72.5-6.3-108.1c-10.9-44.3-30.9-89.6-56.8-125.5c-18.1-25-39.2-45.7-62.6-58.2c-16.1-8.7-32.8-13.3-49.9-13.3c-17.1 0-33.8 4.6-49.9 13.3c-23.4 12.5-44.5 33.2-62.6 58.2c-25.9 35.9-45.9 81.2-56.8 125.5c-8.8 35.6-12.5 74-6.3 108.1c4.1 22.2 12.2 41.5 24.7 57.6c10.8 13.9 26.3 27.2 49 37.6c31.7 14.4 69.4 19.5 101.9 19.5z"/>
<path fill="#f97f17" stroke="#f97f17" d="M679.4 1446.3c32.4 0 69.7-5.1 101.2-19.5c22.7-10.3 38.1-23.6 48.9-37.5c12.5-16.1 20.5-35.4 24.5-57.3c6.3-33.9 2.5-72-6.1-107.3c-10.9-44.1-30.8-89.3-56.6-125c-18-24.8-39-45.3-62.2-57.8c-16.1-8.6-32.7-13.1-49.7-13.1c-17 0-33.6 4.5-49.7 13.1c-23.2 12.5-44.2 33-62.2 57.8c-25.8 35.7-45.7 80.9-56.6 125c-8.6 35.3-12.4 73.4-6.1 107.3c4 21.9 12 41.2 24.5 57.3c10.8 13.9 26.2 27.2 48.9 37.5c31.5 14.4 68.8 19.5 101.2 19.5z"/>
<path fill="#f98016" stroke="#f98016" d="M679.4 1445.7c32.2 0 69.4-5.1 100.7-19.4c22.5-10.3 37.8-23.5 48.4-37.2c12.6-16.1 20.6-35.4 24.6-57.2c6.2-33.7 2.5-71.6-6.1-106.7c-10.8-43.9-30.5-88.7-56.2-124.2c-17.9-24.6-38.8-45-61.9-57.4c-16-8.5-32.6-13.1-49.5-13.1c-16.9 0-33.5 4.6-49.5 13.1c-23.1 12.4-44 32.8-61.9 57.4c-25.7 35.5-45.4 80.3-56.2 124.2c-8.6 35.1-12.3 73-6.1 106.7c4 21.8 12 41.1 24.6 57.2c10.6 13.7 25.9 26.9 48.4 37.2c31.3 14.3 68.5 19.4 100.7 19.4z"/>
<path fill="#f98116" stroke="#f98116" d="M679.4 1445.2c32.1 0 68.9-5.1 100-19.3c22.5-10.3 37.7-23.5 48.3-37.2c12.6-16.1 20.5-35.3 24.5-56.9c6.2-33.5 2.5-71.2-6.1-106.1c-10.7-43.6-30.3-88.1-55.8-123.3c-17.8-24.5-38.6-44.8-61.7-57.1c-15.8-8.5-32.4-13-49.2-13c-16.8 0-33.4 4.5-49.2 13c-23.1 12.3-43.9 32.6-61.7 57.1c-25.5 35.2-45.1 79.7-55.8 123.3c-8.6 34.9-12.3 72.6-6.1 106.1c4 21.6 11.9 40.8 24.5 56.9c10.6 13.7 25.8 26.9 48.3 37.2c31.1 14.2 67.9 19.3 100 19.3z"/>
<path fill="#f98116" stroke="#f98116" d="M679.4 1444.6c31.9 0 68.5-5 99.3-19.2c22.3-10.2 37.5-23.4 48.2-37c12.5-16.2 20.4-35.3 24.3-56.7c6.2-33.3 2.6-70.7-5.9-105.4c-10.6-43.3-30.1-87.5-55.5-122.5c-17.7-24.4-38.5-44.5-61.4-56.8c-15.8-8.5-32.2-13-49-13c-16.8 0-33.2 4.5-49 13c-22.9 12.3-43.7 32.4-61.4 56.8c-25.4 35-44.9 79.2-55.5 122.5c-8.5 34.7-12.1 72.1-5.9 105.4c3.9 21.4 11.8 40.5 24.3 56.7c10.7 13.6 25.9 26.8 48.2 37c30.8 14.2 67.4 19.2 99.3 19.2z"/>
<path fill="#f98216" stroke="#f98216" d="M679.4 1444.1c31.7 0 68-5.1 98.5-19.1c21.7-9.9 37.1-22.8 48-36.9c12.6-16.1 20.4-35.2 24.4-56.5c6.1-33.1 2.6-70.3-5.9-104.8c-10.5-43-29.9-86.9-55.1-121.7c-17.7-24.2-38.3-44.2-61.1-56.4c-15.7-8.4-32.1-12.9-48.8-12.9c-16.7 0-33.1 4.5-48.8 12.9c-22.8 12.2-43.4 32.2-61.1 56.4c-25.2 34.8-44.6 78.7-55.1 121.7c-8.5 34.5-12 71.7-5.9 104.8c4 21.3 11.8 40.4 24.4 56.5c10.9 14.1 26.3 27 48 36.9c30.5 14 66.8 19.1 98.5 19.1z"/>
<path fill="#fa8216" stroke="#fa8216" d="M679.4 1443.5c31.5 0 67.5-5 97.8-18.9c22.5-10.3 37.5-23.5 47.9-36.8c12.5-16.2 20.3-35.2 24.2-56.3c6.2-33 2.6-69.9-5.8-104.2c-10.4-42.7-29.7-86.3-54.7-120.8c-17.5-24.1-38-43.9-60.7-56.1c-15.7-8.4-32-12.9-48.7-12.9c-16.7 0-33 4.5-48.7 12.9c-22.7 12.2-43.2 32-60.7 56.1c-25 34.5-44.3 78.1-54.7 120.8c-8.4 34.3-12 71.2-5.8 104.2c3.9 21.1 11.7 40.1 24.2 56.3c10.4 13.3 25.4 26.5 47.9 36.8c30.3 13.9 66.3 18.9 97.8 18.9z"/>
<path fill="#fa8316" stroke="#fa8316" d="M679.4 1443c31.3 0 67-5 97.1-18.9c22.5-10.3 37.5-23.5 47.8-36.7c12.5-16.1 20.2-35.1 24.1-56c6.1-32.7 2.6-69.4-5.7-103.5c-10.4-42.4-29.5-85.7-54.4-120c-17.5-24-37.8-43.7-60.4-55.8c-15.6-8.4-31.9-12.8-48.5-12.8c-16.6 0-32.9 4.4-48.5 12.8c-22.6 12.1-42.9 31.8-60.4 55.8c-24.9 34.3-44 77.6-54.4 120c-8.3 34.1-11.8 70.8-5.7 103.5c3.9 20.9 11.6 39.9 24.1 56c10.3 13.2 25.3 26.4 47.8 36.7c30.1 13.9 65.8 18.9 97.1 18.9z"/>
<path fill="#fa8316" stroke="#fa8316" d="M679.4 1442.4c31.1 0 66.5-5 96.4-18.7c20.2-9.3 35.9-21.6 47.5-36.6c12.6-16 20.3-35 24.2-55.8c6-32.6 2.6-69-5.7-102.9c-10.3-42.2-29.3-85.1-54.1-119.2c-17.3-23.8-37.6-43.4-60-55.4c-15.6-8.3-31.8-12.7-48.3-12.7c-16.5 0-32.7 4.4-48.3 12.7c-22.4 12-42.7 31.6-60 55.4c-24.8 34.1-43.8 77-54.1 119.2c-8.3 33.9-11.7 70.3-5.7 102.9c3.9 20.8 11.6 39.8 24.2 55.8c11.6 15 27.3 27.3 47.5 36.6c29.9 13.7 65.3 18.7 96.4 18.7z"/>
<path fill="#fa8416" stroke="#fa8416" d="M679.4 1441.9c31 0 66.1-5 95.7-18.7c21-9.6 36.3-22.2 47.4-36.4c12.5-16.1 20.1-34.9 24-55.6c6.1-32.4 2.7-68.6-5.6-102.3c-10.2-41.9-29.1-84.5-53.7-118.3c-17.2-23.7-37.4-43.2-59.7-55.1c-15.5-8.3-31.6-12.7-48.1-12.7c-16.5 0-32.6 4.4-48.1 12.7c-22.3 11.9-42.5 31.4-59.7 55.1c-24.6 33.8-43.5 76.4-53.7 118.3c-8.3 33.7-11.7 69.9-5.6 102.3c3.9 20.7 11.5 39.5 24 55.6c11.1 14.2 26.4 26.8 47.4 36.4c29.6 13.7 64.7 18.7 95.7 18.7z"/>
<path fill="#fa8415" stroke="#fa8415" d="M679.4 1441.3c30.8 0 65.6-5 95-18.5c21.2-9.8 36.4-22.4 47.3-36.4c12.4-16 20-34.8 23.9-55.3c6-32.2 2.7-68.1-5.5-101.6c-10.2-41.6-28.9-84-53.4-117.6c-17.1-23.5-37.2-42.9-59.4-54.8c-15.5-8.2-31.5-12.5-47.9-12.5c-16.4 0-32.4 4.3-47.9 12.5c-22.2 11.9-42.3 31.3-59.4 54.8c-24.5 33.6-43.2 76-53.4 117.6c-8.2 33.5-11.5 69.4-5.5 101.6c3.9 20.5 11.5 39.3 23.9 55.3c10.9 14 26.1 26.6 47.3 36.4c29.4 13.5 64.2 18.5 95 18.5z"/>
<path fill="#fa8515" stroke="#fa8515" d="M679.4 1440.7c30.6 0 65.1-4.9 94.3-18.4c19.3-8.9 35.1-20.9 47-36.2c12.5-16 20.1-34.7 23.9-55.1c6-32 2.7-67.7-5.4-101c-10.1-41.3-28.7-83.4-53-116.7c-17.1-23.4-37.1-42.7-59.2-54.5c-15.3-8.2-31.3-12.5-47.6-12.5c-16.3 0-32.3 4.3-47.6 12.5c-22.1 11.8-42.1 31.1-59.2 54.5c-24.3 33.3-42.9 75.4-53 116.7c-8.1 33.3-11.4 69-5.4 101c3.8 20.4 11.4 39.1 23.9 55.1c11.9 15.3 27.7 27.3 47 36.2c29.2 13.5 63.7 18.4 94.3 18.4z"/>
<path fill="#fa8615" stroke="#fa8615" d="M679.4 1440.2c30.4 0 64.8-5 93.8-18.4c19-8.8 34.7-20.7 46.7-36.1c12.4-15.9 20-34.6 23.8-54.8c5.9-31.8 2.7-67.3-5.4-100.4c-10-41-28.5-82.8-52.6-115.9c-17-23.2-36.9-42.4-58.9-54.1c-15.3-8.1-31.2-12.5-47.4-12.5c-16.2 0-32.1 4.4-47.4 12.5c-22 11.7-41.9 30.9-58.9 54.1c-24.1 33.1-42.6 74.9-52.6 115.9c-8.1 33.1-11.3 68.6-5.4 100.4c3.8 20.2 11.4 38.9 23.8 54.8c12 15.4 27.7 27.3 46.7 36.1c29 13.4 63.4 18.4 93.8 18.4z"/>
<path fill="#fa8615" stroke="#fa8615" d="M679.4 1439.6c30.3 0 64.3-5 93.1-18.3c18.8-8.7 34.5-20.4 46.5-35.8c12.4-16 19.9-34.6 23.7-54.8c6-31.6 2.7-66.9-5.3-99.8c-9.9-40.7-28.3-82.1-52.2-114.9c-16.9-23.1-36.7-42.2-58.6-53.8c-15.2-8.1-31.1-12.4-47.2-12.4c-16.1 0-32 4.3-47.2 12.4c-21.9 11.6-41.7 30.7-58.6 53.8c-23.9 32.8-42.3 74.2-52.2 114.9c-8 32.9-11.3 68.2-5.3 99.8c3.8 20.2 11.3 38.8 23.7 54.8c12 15.4 27.7 27.1 46.5 35.8c28.8 13.3 62.8 18.3 93.1 18.3z"/>
<path fill="#fa8715" stroke="#fa8715" d="M679.4 1439c30.1 0 63.8-5 92.4-18.2c18.6-8.6 34.3-20.3 46.3-35.7c12.4-15.9 19.9-34.5 23.7-54.5c5.9-31.3 2.7-66.3-5.2-99c-9.9-40.5-28.2-81.8-52.1-114.4c-16.7-22.9-36.4-41.8-58.1-53.4c-15.2-8-30.9-12.3-47-12.3c-16.1 0-31.8 4.3-47 12.3c-21.7 11.6-41.4 30.5-58.1 53.4c-23.9 32.6-42.2 73.9-52.1 114.4c-7.9 32.7-11.1 67.7-5.2 99c3.8 20 11.3 38.6 23.7 54.5c12 15.4 27.7 27.1 46.3 35.7c28.6 13.2 62.3 18.2 92.4 18.2z"/>
<path fill="#fa8715" stroke="#fa8715" d="M679.4 1438.4c29.9 0 63.3-4.9 91.7-18c18.5-8.6 34.2-20.3 46.2-35.7c12.3-15.9 19.7-34.3 23.5-54.2c5.9-31.2 2.8-66-5.1-98.4c-9.8-40.3-28-81.2-51.7-113.5c-16.6-22.8-36.1-41.5-57.7-53c-15.1-8-30.9-12.3-46.9-12.3c-16 0-31.8 4.3-46.9 12.3c-21.6 11.5-41.1 30.2-57.7 53c-23.7 32.3-41.9 73.2-51.7 113.5c-7.9 32.4-11 67.2-5.1 98.4c3.8 19.9 11.2 38.3 23.5 54.2c12 15.4 27.7 27.1 46.2 35.7c28.4 13.1 61.8 18 91.7 18z"/>
<path fill="#fa8815" stroke="#fa8815" d="M679.4 1437.9c29.7 0 62.8-5 91-18c18.3-8.5 33.9-20.1 45.9-35.5c12.4-15.8 19.8-34.2 23.5-54c5.9-31 2.8-65.6-5-97.9c-9.7-39.9-27.8-80.5-51.3-112.6c-16.6-22.6-36-41.2-57.5-52.6c-15-8-30.6-12.3-46.6-12.3c-16 0-31.6 4.3-46.6 12.3c-21.5 11.4-40.9 30-57.5 52.6c-23.5 32.1-41.6 72.7-51.3 112.6c-7.8 32.3-10.9 66.9-5 97.9c3.7 19.8 11.1 38.2 23.5 54c12 15.4 27.6 27 45.9 35.5c28.2 13 61.3 18 91 18z"/>
<path fill="#fa8814" stroke="#fa8814" d="M679.4 1437.3c29.5 0 62.4-5 90.3-17.9c18.1-8.4 33.8-19.9 45.8-35.4c12.3-15.8 19.7-34.2 23.4-53.9c5.8-30.8 2.8-65.1-5-97.1c-9.7-39.6-27.6-79.9-50.9-111.7c-16.5-22.5-35.8-41-57.2-52.4c-14.9-7.9-30.5-12.1-46.4-12.1c-15.9 0-31.5 4.2-46.4 12.1c-21.4 11.4-40.7 29.9-57.2 52.4c-23.3 31.8-41.2 72.1-50.9 111.7c-7.8 32-10.8 66.3-5 97.1c3.7 19.7 11.1 38.1 23.4 53.9c12 15.5 27.7 27 45.8 35.4c27.9 12.9 60.8 17.9 90.3 17.9z"/>
<path fill="#fa8914" stroke="#fa8914" d="M679.4 1436.7c29.3 0 61.9-4.9 89.6-17.8c18-8.3 33.6-19.8 45.7-35.3c12.2-15.7 19.5-34.1 23.2-53.6c5.8-30.5 2.8-64.6-4.9-96.3c-9.5-39.5-27.3-79.4-50.5-111.1c-16.4-22.3-35.7-40.7-56.9-52c-14.9-7.9-30.4-12.1-46.2-12.1c-15.8 0-31.3 4.2-46.2 12.1c-21.2 11.3-40.5 29.7-56.9 52c-23.2 31.7-41 71.6-50.5 111.1c-7.7 31.7-10.7 65.8-4.9 96.3c3.7 19.5 11 37.9 23.2 53.6c12.1 15.5 27.7 27 45.7 35.3c27.7 12.9 60.3 17.8 89.6 17.8z"/>
<path fill="#fa8914" stroke="#fa8914" d="M679.4 1436.1c29.1 0 61.4-4.9 88.9-17.7c17.8-8.2 33.4-19.6 45.4-35c12.3-15.8 19.6-34.1 23.3-53.5c5.7-30.4 2.8-64.2-4.9-95.8c-9.5-39.1-27.1-78.7-50.2-110.1c-16.3-22.3-35.4-40.5-56.5-51.7c-14.9-7.9-30.3-12-46-12c-15.7 0-31.1 4.1-46 12c-21.1 11.2-40.2 29.4-56.5 51.7c-23.1 31.4-40.7 71-50.2 110.1c-7.7 31.6-10.6 65.4-4.9 95.8c3.7 19.4 11 37.7 23.3 53.5c12 15.4 27.6 26.8 45.4 35c27.5 12.8 59.8 17.7 88.9 17.7z"/>
<path fill="#fa8a14" stroke="#fa8a14" d="M679.4 1435.5c28.9 0 60.9-4.9 88.2-17.6c17.7-8.2 33.3-19.5 45.3-35c12.1-15.6 19.4-33.7 23.1-53.1c5.8-30.2 2.8-63.8-4.8-95.2c-9.4-38.8-26.9-78.1-49.8-109.3c-16.2-22.1-35.2-40.2-56.3-51.4c-14.7-7.7-30-11.9-45.7-11.9c-15.7 0-31 4.2-45.7 11.9c-21.1 11.2-40.1 29.3-56.3 51.4c-22.9 31.2-40.4 70.5-49.8 109.3c-7.6 31.4-10.6 65-4.8 95.2c3.7 19.4 11 37.5 23.1 53.1c12 15.5 27.6 26.8 45.3 35c27.3 12.7 59.3 17.6 88.2 17.6z"/>
<path fill="#fa8b14" stroke="#fa8b14" d="M679.4 1434.9c28.7 0 60.4-4.9 87.5-17.5c17.6-8.1 33-19.4 45-34.7c12.3-15.7 19.5-33.8 23.1-53c5.8-30.1 2.9-63.4-4.7-94.7c-9.3-38.5-26.7-77.4-49.4-108.3c-16.1-22-35.1-40-56-51.1c-14.7-7.7-29.9-11.8-45.5-11.8c-15.6 0-30.8 4.1-45.5 11.8c-20.9 11.1-39.9 29.1-56 51.1c-22.7 30.9-40.1 69.8-49.4 108.3c-7.6 31.3-10.5 64.6-4.7 94.7c3.6 19.2 10.8 37.3 23.1 53c12 15.3 27.4 26.6 45 34.7c27.1 12.6 58.8 17.5 87.5 17.5z"/>
<path fill="#fa8b14" stroke="#fa8b14" d="M679.4 1434.3c28.5 0 60-4.9 86.8-17.4c17.5-8 32.9-19.3 44.9-34.6c12-15.5 19.3-33.5 23-52.8c5.7-29.7 2.8-62.8-4.7-93.8c-9.2-38.3-26.5-77-49.1-107.7c-16-21.8-34.8-39.7-55.6-50.7c-14.6-7.7-29.8-11.8-45.3-11.8c-15.5 0-30.7 4.1-45.3 11.8c-20.8 11-39.6 28.9-55.6 50.7c-22.6 30.7-39.9 69.4-49.1 107.7c-7.5 31-10.4 64.1-4.7 93.8c3.7 19.3 11 37.3 23 52.8c12 15.3 27.4 26.6 44.9 34.6c26.8 12.5 58.3 17.4 86.8 17.4z"/>
<path fill="#fa8c14" stroke="#fa8c14" d="M679.4 1433.6c28.3 0 59.5-4.8 86.1-17.2c17.3-8 32.8-19.2 44.7-34.6c12.1-15.5 19.3-33.4 22.9-52.4c5.7-29.6 2.9-62.4-4.6-93.2c-9.2-38-26.3-76.4-48.7-106.9c-15.9-21.6-34.6-39.4-55.2-50.3c-14.4-7.6-29.5-11.7-45.2-11.7c-15.7 0-30.8 4.1-45.2 11.7c-20.6 10.9-39.3 28.7-55.2 50.3c-22.4 30.5-39.5 68.9-48.7 106.9c-7.5 30.8-10.3 63.6-4.6 93.2c3.6 19 10.8 36.9 22.9 52.4c11.9 15.4 27.4 26.6 44.7 34.6c26.6 12.4 57.8 17.2 86.1 17.2z"/>
<path fill="#fa8c14" stroke="#fa8c14" d="M679.4 1433c28.1 0 59-4.8 85.5-17.1c17.1-7.9 32.4-19 44.4-34.3c12.1-15.6 19.2-33.5 22.8-52.3c5.7-29.4 2.9-62.1-4.5-92.7c-9.1-37.6-26.1-75.7-48.3-105.9c-15.9-21.5-34.4-39.2-55-50c-14.4-7.6-29.5-11.7-44.9-11.7c-15.4 0-30.5 4.1-44.9 11.7c-20.6 10.8-39.1 28.5-55 50c-22.2 30.2-39.2 68.3-48.3 105.9c-7.4 30.6-10.2 63.3-4.5 92.7c3.6 18.8 10.7 36.7 22.8 52.3c12 15.3 27.3 26.4 44.4 34.3c26.5 12.3 57.4 17.1 85.5 17.1z"/>
<path fill="#fa8d14" stroke="#fa8d14" d="M679.4 1432.4c27.9 0 58.5-4.8 84.8-17c17-7.9 32.3-19 44.2-34.3c12.1-15.4 19.2-33.3 22.7-51.9c5.7-29.2 2.9-61.7-4.4-92.1c-9.1-37.4-25.9-75.1-48-105.1c-15.7-21.3-34.2-38.9-54.6-49.6c-14.4-7.6-29.4-11.6-44.7-11.6c-15.3 0-30.3 4-44.7 11.6c-20.4 10.7-38.9 28.3-54.6 49.6c-22.1 30-38.9 67.7-48 105.1c-7.3 30.4-10.1 62.9-4.4 92.1c3.5 18.6 10.6 36.5 22.7 51.9c11.9 15.3 27.2 26.4 44.2 34.3c26.3 12.2 56.9 17 84.8 17z"/>
<path fill="#fa8d14" stroke="#fa8d14" d="M679.4 1431.8c27.7 0 58.1-4.8 84.1-16.9c16.9-7.9 32.2-18.9 44.1-34.2c12-15.4 19-33.1 22.6-51.6c5.5-29 2.9-61.2-4.4-91.3c-9-37.2-25.7-74.6-47.6-104.4c-15.7-21.2-34-38.7-54.3-49.4c-14.4-7.5-29.3-11.5-44.5-11.5c-15.2 0-30.1 4-44.5 11.5c-20.3 10.7-38.6 28.2-54.3 49.4c-21.9 29.8-38.6 67.2-47.6 104.4c-7.3 30.1-9.9 62.3-4.4 91.3c3.6 18.5 10.6 36.2 22.6 51.6c11.9 15.3 27.2 26.3 44.1 34.2c26 12.1 56.4 16.9 84.1 16.9z"/>
<path fill="#fa8e14" stroke="#fa8e14" d="M679.4 1431.1c27.5 0 57.6-4.7 83.4-16.7c16.7-7.8 31.9-18.8 43.8-34c12-15.3 19-33 22.6-51.4c5.5-28.9 2.9-60.8-4.3-90.8c-8.9-36.9-25.6-74.1-47.4-103.6c-15.5-21-33.7-38.3-53.9-48.9c-14.2-7.5-29.1-11.4-44.2-11.4c-15.1 0-30 3.9-44.2 11.4c-20.2 10.6-38.4 27.9-53.9 48.9c-21.8 29.5-38.5 66.7-47.4 103.6c-7.2 30-9.8 61.9-4.3 90.8c3.6 18.4 10.6 36.1 22.6 51.4c11.9 15.2 27.1 26.2 43.8 34c25.8 12 55.9 16.7 83.4 16.7z"/>
<path fill="#fa8e14" stroke="#fa8e14" d="M679.4 1430.5c27.3 0 57.1-4.7 82.7-16.6c16.6-7.8 31.8-18.7 43.7-33.9c11.9-15.3 18.8-32.9 22.4-51.2c5.5-28.6 2.9-60.3-4.3-90.1c-8.8-36.6-25.3-73.5-46.9-102.8c-15.4-20.8-33.6-38-53.6-48.5c-14.2-7.5-29-11.4-44-11.4c-15 0-29.8 3.9-44 11.4c-20 10.5-38.2 27.7-53.6 48.5c-21.6 29.3-38.1 66.2-46.9 102.8c-7.2 29.8-9.8 61.5-4.3 90.1c3.6 18.3 10.5 35.9 22.4 51.2c11.9 15.2 27.1 26.1 43.7 33.9c25.6 11.9 55.4 16.6 82.7 16.6z"/>
<path fill="#fa8f14" stroke="#fa8f14" d="M679.4 1429.9c27.1 0 56.8-4.8 82.2-16.6c16.4-7.7 31.4-18.5 43.2-33.6c11.9-15.3 18.9-32.8 22.4-51c5.5-28.4 3-59.9-4.2-89.5c-8.7-36.3-25.1-72.9-46.6-101.9c-15.3-20.7-33.3-37.8-53.3-48.2c-14.1-7.4-28.7-11.3-43.7-11.3c-15 0-29.6 3.9-43.7 11.3c-20 10.4-38 27.5-53.3 48.2c-21.5 29-37.9 65.6-46.6 101.9c-7.2 29.6-9.7 61.1-4.2 89.5c3.5 18.2 10.5 35.7 22.4 51c11.8 15.1 26.8 25.9 43.2 33.6c25.4 11.8 55.1 16.6 82.2 16.6z"/>
<path fill="#fa8f14" stroke="#fa8f14" d="M679.4 1429.2c26.9 0 56.3-4.7 81.5-16.5c16.3-7.6 31.3-18.4 43-33.4c11.9-15.2 18.8-32.7 22.3-50.7c5.5-28.3 3-59.6-4.1-89c-8.7-35.9-24.9-72.2-46.2-101c-15.3-20.6-33.2-37.5-53-47.9c-14-7.3-28.6-11.2-43.5-11.2c-14.9 0-29.5 3.9-43.5 11.2c-19.8 10.4-37.7 27.3-53 47.9c-21.3 28.8-37.5 65.1-46.2 101c-7.1 29.4-9.6 60.7-4.1 89c3.5 18 10.4 35.5 22.3 50.7c11.7 15 26.7 25.8 43 33.4c25.2 11.8 54.6 16.5 81.5 16.5z"/>
<path fill="#fa9014" stroke="#fa9014" d="M679.4 1428.6c26.7 0 55.8-4.7 80.8-16.4c16.2-7.6 31.1-18.3 42.9-33.4c11.8-15.1 18.6-32.5 22.1-50.3c5.5-28.1 3-59.2-4.1-88.4c-8.6-35.7-24.7-71.6-45.8-100.1c-15.1-20.4-32.9-37.2-52.5-47.5c-14-7.4-28.6-11.2-43.4-11.2c-14.8 0-29.4 3.8-43.4 11.2c-19.6 10.3-37.4 27.1-52.5 47.5c-21.1 28.5-37.2 64.4-45.8 100.1c-7.1 29.2-9.6 60.3-4.1 88.4c3.5 17.8 10.3 35.2 22.1 50.3c11.8 15.1 26.7 25.8 42.9 33.4c25 11.7 54.1 16.4 80.8 16.4z"/>
<path fill="#fa9114" stroke="#fa9114" d="M679.4 1427.9c26.5 0 55.3-4.7 80.1-16.3c16-7.5 30.9-18.1 42.6-33.1c11.8-15.1 18.6-32.4 22.1-50.2c5.4-27.8 3-58.6-3.9-87.5c-8.6-35.5-24.5-71.1-45.5-99.5c-15.1-20.2-32.7-36.9-52.3-47.1c-13.9-7.3-28.3-11.2-43.1-11.2c-14.8 0-29.2 3.9-43.1 11.2c-19.6 10.2-37.2 26.9-52.3 47.1c-21 28.4-36.9 64-45.5 99.5c-6.9 28.9-9.3 59.7-3.9 87.5c3.5 17.8 10.3 35.1 22.1 50.2c11.7 15 26.6 25.6 42.6 33.1c24.8 11.6 53.6 16.3 80.1 16.3z"/>
<path fill="#fa9114" stroke="#fa9114" d="M679.4 1427.3c26.3 0 54.9-4.7 79.4-16.2c15.9-7.5 30.8-18.1 42.4-33c11.8-15.1 18.6-32.4 22-50c5.4-27.7 3-58.2-3.9-86.9c-8.4-35.1-24.3-70.4-45.1-98.5c-14.9-20.2-32.5-36.7-51.9-46.9c-13.8-7.2-28.2-11-42.9-11c-14.7 0-29.1 3.8-42.9 11c-19.4 10.2-37 26.7-51.9 46.9c-20.8 28.1-36.7 63.4-45.1 98.5c-6.9 28.7-9.3 59.2-3.9 86.9c3.4 17.6 10.2 34.9 22 50c11.6 14.9 26.5 25.5 42.4 33c24.5 11.5 53.1 16.2 79.4 16.2z"/>
<path fill="#fa9214" stroke="#fa9214" d="M679.4 1426.6c29 0 61.3-5.8 87.8-20.7c16.9-9.6 31.8-23.2 42.3-42.1c12.9-23.4 16.2-50 15.6-73.4c-1.1-39.3-13.9-82.3-33.5-118.2c-16-29.3-37.2-54.8-61.7-70.2c-16-10-33-15.5-50.5-15.5c-17.5 0-34.5 5.5-50.5 15.5c-24.5 15.4-45.7 40.9-61.7 70.2c-19.6 35.9-32.4 78.9-33.5 118.2c-.6 23.4 2.7 50 15.6 73.4c10.5 18.9 25.4 32.5 42.3 42.1c26.5 14.9 58.8 20.7 87.8 20.7z"/>
<path fill="#fa9214" stroke="#fa9214" d="M679.4 1425.9c28.8 0 60.8-5.7 87-20.5c16.9-9.6 31.7-23.1 42.1-42c12.9-23.3 16.2-49.6 15.6-72.8c-1.1-39.1-13.7-81.7-33.2-117.2c-15.9-29.2-36.9-54.4-61.3-69.7c-15.9-10-32.8-15.4-50.2-15.4c-17.4 0-34.3 5.4-50.2 15.4c-24.4 15.3-45.4 40.5-61.3 69.7c-19.5 35.5-32.1 78.1-33.2 117.2c-.6 23.2 2.7 49.5 15.6 72.8c10.4 18.9 25.2 32.4 42.1 42c26.2 14.8 58.2 20.5 87 20.5z"/>
<path fill="#fa9314" stroke="#fa9314" d="M679.4 1425.2c28.6 0 60.2-5.7 86.2-20.4c16.8-9.4 31.6-22.9 42-41.7c12.8-23.2 16.1-49.4 15.5-72.4c-1.1-38.8-13.6-81.1-33-116.3c-15.8-28.9-36.6-53.9-60.8-69.1c-15.8-9.9-32.6-15.3-49.9-15.3c-17.3 0-34.1 5.4-49.9 15.3c-24.2 15.2-45 40.2-60.8 69.1c-19.4 35.2-31.9 77.5-33 116.3c-.6 23 2.7 49.2 15.5 72.4c10.4 18.8 25.2 32.3 42 41.7c26 14.7 57.6 20.4 86.2 20.4z"/>
<path fill="#fa9314" stroke="#fa9314" d="M679.4 1424.6c28.4 0 59.7-5.7 85.5-20.3c16.6-9.4 31.4-22.8 41.8-41.6c12.7-23.1 16-49.2 15.3-72c-1-38.5-13.4-80.3-32.6-115.2c-15.7-28.6-36.3-53.5-60.4-68.5c-15.7-9.8-32.4-15.2-49.6-15.2c-17.2 0-33.9 5.4-49.6 15.2c-24.1 15-44.7 39.9-60.4 68.5c-19.2 34.9-31.6 76.7-32.6 115.2c-.7 22.8 2.6 48.9 15.3 72c10.4 18.8 25.2 32.2 41.8 41.6c25.8 14.6 57.1 20.3 85.5 20.3z"/>
<path fill="#fa9414" stroke="#fa9414" d="M679.4 1423.9c28.1 0 59.2-5.7 84.7-20.1c16.5-9.4 31.2-22.7 41.6-41.5c12.7-22.9 15.9-48.8 15.3-71.5c-1-38.1-13.3-79.6-32.3-114.2c-15.6-28.4-36.1-53-60-68c-15.6-9.7-32.2-15-49.3-15c-17.1 0-33.7 5.3-49.3 15c-23.9 15-44.4 39.6-60 68c-19 34.6-31.3 76.1-32.3 114.2c-.6 22.7 2.6 48.6 15.3 71.5c10.4 18.8 25.1 32.1 41.6 41.5c25.5 14.4 56.6 20.1 84.7 20.1z"/>
<path fill="#fa9414" stroke="#fa9414" d="M679.4 1423.2c27.9 0 58.6-5.7 83.9-20c16.4-9.2 31-22.4 41.4-41.1c12.7-22.9 15.9-48.7 15.3-71.2c-1-37.8-13.2-78.9-32.1-113.3c-15.4-28.1-35.7-52.4-59.4-67.2c-15.5-9.8-32.1-15.1-49.1-15.1c-17 0-33.6 5.3-49.1 15.1c-23.7 14.8-44 39.1-59.4 67.2c-18.9 34.4-31.1 75.5-32.1 113.3c-.6 22.5 2.6 48.3 15.3 71.2c10.4 18.7 25 31.9 41.4 41.1c25.3 14.3 56 20 83.9 20z"/>
<path fill="#fa9514" stroke="#fa9514" d="M679.4 1422.5c27.7 0 58.1-5.6 83.2-19.8c16.2-9.2 30.8-22.3 41.1-41c12.6-22.7 15.8-48.3 15.3-70.7c-1-37.5-13.1-78.2-31.8-112.2c-15.3-27.9-35.5-52.1-59-66.8c-15.5-9.6-31.9-14.9-48.8-14.9c-16.9 0-33.3 5.3-48.8 14.9c-23.5 14.7-43.7 38.9-59 66.8c-18.7 34-30.8 74.7-31.8 112.2c-.5 22.4 2.7 48 15.3 70.7c10.3 18.7 24.9 31.8 41.1 41c25.1 14.2 55.5 19.8 83.2 19.8z"/>
<path fill="#fa9514" stroke="#fa9514" d="M679.4 1421.8c27.5 0 57.7-5.6 82.6-19.8c16-9.1 30.5-22.1 40.8-40.6c12.4-22.4 15.7-47.7 15.1-70.2c-.9-37.2-12.9-77.6-31.4-111.3c-15.2-27.7-35.3-51.7-58.6-66.2c-15.4-9.6-31.7-14.8-48.5-14.8c-16.8 0-33.1 5.2-48.5 14.8c-23.3 14.5-43.4 38.5-58.6 66.2c-18.5 33.7-30.5 74.1-31.4 111.3c-.6 22.5 2.7 47.8 15.1 70.2c10.3 18.5 24.8 31.5 40.8 40.6c24.9 14.2 55.1 19.8 82.6 19.8z"/>
<path fill="#fa9614" stroke="#fa9614" d="M679.4 1421.1c27.3 0 57.2-5.6 81.8-19.6c15.9-9.1 30.4-22 40.6-40.5c12.2-22 15.7-47 15.1-69.7c-1-36.9-12.8-76.9-31.2-110.3c-15.1-27.5-35-51.2-58.1-65.7c-15.3-9.5-31.5-14.6-48.2-14.6c-16.7 0-32.9 5.1-48.2 14.6c-23.1 14.5-43 38.2-58.1 65.7c-18.4 33.4-30.2 73.4-31.2 110.3c-.6 22.7 2.9 47.7 15.1 69.7c10.2 18.5 24.7 31.4 40.6 40.5c24.6 14 54.5 19.6 81.8 19.6z"/>
<path fill="#fa9714" stroke="#fa9714" d="M679.4 1420.3c27.1 0 56.6-5.5 81-19.4c15.8-9 30.2-21.8 40.5-40.3c12-21.8 15.5-46.6 14.9-69.3c-.9-36.6-12.6-76.1-30.8-109.2c-15-27.2-34.7-50.8-57.7-65.1c-15.2-9.4-31.3-14.6-47.9-14.6c-16.6 0-32.7 5.2-47.9 14.6c-23 14.3-42.7 37.9-57.7 65.1c-18.2 33.1-29.9 72.6-30.8 109.2c-.6 22.7 2.9 47.5 14.9 69.3c10.3 18.5 24.7 31.3 40.5 40.3c24.4 13.9 53.9 19.4 81 19.4z"/>
<path fill="#fa9714" stroke="#fa9714" d="M679.4 1419.6c26.8 0 56.1-5.5 80.3-19.3c15.6-8.9 30-21.7 40.2-40.1c11.9-21.5 15.5-46.1 14.9-68.8c-.9-36.2-12.5-75.4-30.5-108.1c-14.9-27.1-34.5-50.4-57.3-64.6c-15.1-9.4-31.1-14.5-47.6-14.5c-16.5 0-32.5 5.1-47.6 14.5c-22.8 14.2-42.4 37.5-57.3 64.6c-18 32.7-29.6 71.9-30.5 108.1c-.6 22.7 3 47.3 14.9 68.8c10.2 18.4 24.6 31.2 40.2 40.1c24.2 13.8 53.5 19.3 80.3 19.3z"/>
<path fill="#fa9814" stroke="#fa9814" d="M679.4 1418.9c26.6 0 55.6-5.5 79.5-19.1c15.5-8.9 29.8-21.6 39.9-39.8c11.9-21.4 15.5-45.8 14.9-68.5c-.9-35.9-12.3-74.8-30.2-107.2c-14.7-26.7-34.1-49.8-56.7-63.9c-15-9.3-31-14.4-47.4-14.4c-16.4 0-32.4 5.1-47.4 14.4c-22.6 14.1-42 37.2-56.7 63.9c-17.9 32.4-29.3 71.3-30.2 107.2c-.6 22.7 3 47.1 14.9 68.5c10.1 18.2 24.4 30.9 39.9 39.8c23.9 13.6 52.9 19.1 79.5 19.1z"/>
<path fill="#fa9814" stroke="#fa9814" d="M679.4 1418.2c26.4 0 55-5.5 78.7-19c15.4-8.8 29.7-21.4 39.8-39.6c11.7-21.2 15.3-45.3 14.8-67.9c-.9-35.7-12.2-74.1-29.9-106.3c-14.6-26.5-33.9-49.4-56.3-63.3c-14.9-9.3-30.8-14.3-47.1-14.3c-16.3 0-32.2 5-47.1 14.3c-22.4 13.9-41.7 36.8-56.3 63.3c-17.7 32.2-29 70.6-29.9 106.3c-.5 22.6 3.1 46.7 14.8 67.9c10.1 18.2 24.4 30.8 39.8 39.6c23.7 13.5 52.3 19 78.7 19z"/>
<path fill="#fa9914" stroke="#fa9914" d="M679.4 1417.4c26.1 0 54.5-5.4 78-18.8c15.2-8.7 29.4-21.2 39.5-39.4c11.6-21 15.3-44.9 14.7-67.4c-.8-35.3-12-73.4-29.6-105.2c-14.5-26.3-33.6-49-55.9-62.8c-14.8-9.2-30.5-14.2-46.7-14.2c-16.2 0-31.9 5-46.7 14.2c-22.3 13.8-41.4 36.5-55.9 62.8c-17.6 31.8-28.8 69.9-29.6 105.2c-.6 22.5 3.1 46.4 14.7 67.4c10.1 18.2 24.3 30.7 39.5 39.4c23.5 13.4 51.9 18.8 78 18.8z"/>
<path fill="#fa9914" stroke="#fa9914" d="M679.4 1416.7c25.9 0 53.9-5.5 77.2-18.7c15.1-8.6 29.3-21.1 39.3-39.2c11.5-20.8 15.2-44.5 14.6-67c-.8-35-11.9-72.7-29.3-104.2c-14.4-26-33.3-48.5-55.4-62.2c-14.7-9.1-30.3-14-46.4-14c-16.1 0-31.7 4.9-46.4 14c-22.1 13.7-41 36.2-55.4 62.2c-17.4 31.5-28.5 69.2-29.3 104.2c-.6 22.5 3.1 46.2 14.6 67c10 18.1 24.2 30.6 39.3 39.2c23.3 13.2 51.3 18.7 77.2 18.7z"/>
<path fill="#fa9a14" stroke="#fa9a14" d="M679.4 1415.9c25.7 0 53.4-5.4 76.4-18.5c15.1-8.6 29.1-21 39.1-39c11.4-20.6 15.1-44.1 14.6-66.5c-.8-34.7-11.8-72-29-103.1c-14.3-25.8-33.1-48.1-55-61.7c-14.6-9-30.1-13.9-46.1-13.9c-16 0-31.5 4.9-46.1 13.9c-21.9 13.6-40.7 35.9-55 61.7c-17.2 31.1-28.2 68.4-29 103.1c-.5 22.4 3.2 45.9 14.6 66.5c10 18 24 30.4 39.1 39c23 13.1 50.7 18.5 76.4 18.5z"/>
<path fill="#fa9a14" stroke="#fa9a14" d="M679.4 1415.1c25.4 0 52.9-5.3 75.7-18.3c15-8.6 28.9-21 38.8-38.8c11.3-20.4 15-43.7 14.5-66c-.8-34.3-11.7-71.2-28.7-102.1c-14.1-25.6-32.8-47.7-54.5-61.1c-14.5-9-30-13.8-45.8-13.8c-15.8 0-31.3 4.8-45.8 13.8c-21.7 13.4-40.4 35.5-54.5 61.1c-17 30.9-27.9 67.8-28.7 102.1c-.5 22.3 3.2 45.6 14.5 66c9.9 17.8 23.8 30.2 38.8 38.8c22.8 13 50.3 18.3 75.7 18.3z"/>
<path fill="#fa9b14" stroke="#fa9b14" d="M679.4 1414.4c25.2 0 52.3-5.4 74.9-18.2c15.1-8.6 28.8-21 38.5-38.5c11.3-20.2 15-43.3 14.5-65.5c-.7-34.1-11.5-70.7-28.4-101.3c-14-25.2-32.5-47-54-60.4c-14.4-8.9-29.7-13.7-45.5-13.7c-15.8 0-31.1 4.8-45.5 13.7c-21.5 13.4-40 35.2-54 60.4c-16.9 30.6-27.7 67.2-28.4 101.3c-.5 22.2 3.2 45.3 14.5 65.5c9.7 17.5 23.4 29.9 38.5 38.5c22.6 12.8 49.7 18.2 74.9 18.2z"/>
<path fill="#fa9b14" stroke="#fa9b14" d="M679.4 1413.6c25 0 51.8-5.3 74.1-18.1c15.1-8.6 28.7-20.9 38.3-38.2c11.2-20 14.9-43 14.4-65.2c-.7-33.6-11.4-69.8-28.1-100c-13.8-25-32.2-46.7-53.5-59.9c-14.3-8.8-29.6-13.6-45.2-13.6c-15.6 0-30.9 4.8-45.2 13.6c-21.3 13.2-39.7 34.9-53.5 59.9c-16.7 30.2-27.4 66.4-28.1 100c-.5 22.2 3.2 45.2 14.4 65.2c9.6 17.3 23.2 29.6 38.3 38.2c22.3 12.8 49.1 18.1 74.1 18.1z"/>
<path fill="#fa9c14" stroke="#fa9c14" d="M679.4 1412.8c24.7 0 51.2-5.3 73.3-17.9c15.1-8.6 28.6-20.8 38.1-38c11.1-19.9 14.8-42.6 14.3-64.6c-.7-33.4-11.2-69.1-27.7-99c-13.8-24.9-32-46.3-53.1-59.4c-14.2-8.7-29.4-13.5-44.9-13.5c-15.5 0-30.7 4.8-44.9 13.5c-21.1 13.1-39.3 34.5-53.1 59.4c-16.5 29.9-27 65.6-27.7 99c-.5 22 3.2 44.7 14.3 64.6c9.5 17.2 23 29.4 38.1 38c22.1 12.6 48.6 17.9 73.3 17.9z"/>
<path fill="#fa9c14" stroke="#fa9c14" d="M679.4 1412c24.5 0 50.7-5.2 72.6-17.7c15-8.6 28.4-20.8 37.8-37.8c11-19.7 14.7-42.2 14.2-64.1c-.7-33.1-11.1-68.5-27.5-98.1c-13.6-24.6-31.6-45.7-52.6-58.7c-14.1-8.7-29.1-13.4-44.5-13.4c-15.4 0-30.4 4.7-44.5 13.4c-21 13-39 34.1-52.6 58.7c-16.4 29.6-26.8 65-27.5 98.1c-.5 21.9 3.2 44.4 14.2 64.1c9.4 17 22.8 29.2 37.8 37.8c21.9 12.5 48.1 17.7 72.6 17.7z"/>
<path fill="#fa9d14" stroke="#fa9d14" d="M679.4 1411.2c24.2 0 50.1-5.2 71.8-17.6c15-8.5 28.2-20.7 37.6-37.6c10.8-19.4 14.6-41.7 14.1-63.5c-.7-32.7-11-67.7-27.2-97c-13.4-24.4-31.3-45.4-52.1-58.2c-14-8.6-28.9-13.3-44.2-13.3c-15.3 0-30.2 4.7-44.2 13.3c-20.8 12.8-38.7 33.8-52.1 58.2c-16.2 29.3-26.5 64.3-27.2 97c-.5 21.8 3.3 44.1 14.1 63.5c9.4 16.9 22.6 29.1 37.6 37.6c21.7 12.4 47.6 17.6 71.8 17.6z"/>
<path fill="#fa9d14" stroke="#fa9d14" d="M679.4 1410.4c24 0 49.6-5.2 71-17.4c14.9-8.5 28.1-20.7 37.4-37.4c10.7-19.3 14.5-41.4 14-63.1c-.7-32.3-10.8-66.9-26.8-95.8c-13.4-24.2-31.1-45-51.7-57.7c-13.9-8.5-28.7-13.1-43.9-13.1c-15.2 0-30 4.6-43.9 13.1c-20.6 12.7-38.3 33.5-51.7 57.7c-16 28.9-26.1 63.5-26.8 95.8c-.5 21.7 3.3 43.8 14 63.1c9.3 16.7 22.5 28.9 37.4 37.4c21.4 12.2 47 17.4 71 17.4z"/>
<path fill="#fa9e13" stroke="#fa9e13" d="M679.4 1409.5c23.7 0 49-5.1 70.2-17.2c14.9-8.5 27.9-20.5 37.1-37.1c10.7-19.1 14.4-41.1 14-62.6c-.7-32-10.7-66.2-26.6-94.9c-13.2-23.8-30.7-44.3-51.1-56.9c-13.8-8.5-28.5-13.1-43.6-13.1c-15.1 0-29.8 4.6-43.6 13.1c-20.4 12.6-37.9 33.1-51.1 56.9c-15.9 28.7-25.9 62.9-26.6 94.9c-.4 21.5 3.3 43.5 14 62.6c9.2 16.6 22.2 28.6 37.1 37.1c21.2 12.1 46.5 17.2 70.2 17.2z"/>
<path fill="#fa9e13" stroke="#fa9e13" d="M679.4 1408.7c23.5 0 48.5-5.1 69.4-17c14.8-8.5 27.7-20.4 36.8-36.8c10.6-19 14.4-40.7 14-62.1c-.7-31.7-10.6-65.6-26.3-93.9c-13.1-23.6-30.4-43.9-50.6-56.4c-13.7-8.4-28.3-12.9-43.3-12.9c-15 0-29.6 4.5-43.3 12.9c-20.2 12.5-37.5 32.8-50.6 56.4c-15.7 28.3-25.6 62.2-26.3 93.9c-.4 21.4 3.4 43.1 14 62.1c9.1 16.4 22 28.3 36.8 36.8c20.9 11.9 45.9 17 69.4 17z"/>
<path fill="#fa9f13" stroke="#fa9f13" d="M679.4 1407.9c23.2 0 47.9-5.1 68.7-16.9c14.6-8.4 27.4-20.3 36.5-36.6c10.5-18.7 14.3-40.3 13.8-61.6c-.6-31.4-10.4-64.8-26-92.9c-12.9-23.3-30.1-43.4-50.1-55.6c-13.6-8.4-28-12.9-42.9-12.9c-14.9 0-29.3 4.5-42.9 12.9c-20 12.2-37.2 32.3-50.1 55.6c-15.6 28.1-25.4 61.5-26 92.9c-.5 21.3 3.3 42.9 13.8 61.6c9.1 16.3 21.9 28.2 36.5 36.6c20.8 11.8 45.5 16.9 68.7 16.9z"/>
<path fill="#fa9f13" stroke="#fa9f13" d="M679.4 1407c23 0 47.4-5 67.9-16.7c14.6-8.4 27.3-20.2 36.3-36.3c10.3-18.6 14.1-40 13.7-61.1c-.6-31-10.3-64.1-25.7-91.8c-12.8-23.1-29.8-42.9-49.6-55.1c-13.5-8.3-27.9-12.7-42.6-12.7c-14.7 0-29.1 4.4-42.6 12.7c-19.8 12.2-36.8 32-49.6 55.1c-15.4 27.7-25.1 60.8-25.7 91.8c-.4 21.1 3.4 42.5 13.7 61.1c9 16.1 21.7 27.9 36.3 36.3c20.5 11.7 44.9 16.7 67.9 16.7z"/>
<path fill="#faa013" stroke="#faa013" d="M679.4 1406.2c22.7 0 46.8-5 67.1-16.6c14.5-8.3 27.1-20.1 36-36c10.3-18.4 14-39.6 13.6-60.6c-.5-30.7-10.1-63.3-25.3-90.7c-12.7-22.9-29.6-42.5-49.2-54.6c-13.4-8.2-27.6-12.6-42.2-12.6c-14.6 0-28.8 4.4-42.2 12.6c-19.6 12.1-36.5 31.7-49.2 54.6c-15.2 27.4-24.8 60-25.3 90.7c-.4 21 3.3 42.2 13.6 60.6c8.9 15.9 21.5 27.7 36 36c20.3 11.6 44.4 16.6 67.1 16.6z"/>
<path fill="#faa013" stroke="#faa013" d="M679.4 1405.3c22.5 0 46.3-4.9 66.3-16.4c14.4-8.3 26.9-19.9 35.7-35.8c10.2-18.2 14-39.2 13.6-60.1c-.6-30.3-10.1-62.6-25.1-89.6c-12.5-22.6-29.2-42-48.6-53.9c-13.2-8.1-27.4-12.5-41.9-12.5c-14.5 0-28.7 4.4-41.9 12.5c-19.4 11.9-36.1 31.3-48.6 53.9c-15 27-24.5 59.3-25.1 89.6c-.4 20.9 3.4 41.9 13.6 60.1c8.8 15.9 21.3 27.5 35.7 35.8c20 11.5 43.8 16.4 66.3 16.4z"/>
<path fill="#faa113" stroke="#faa113" d="M679.4 1404.4c22.2 0 45.7-4.9 65.5-16.2c14.3-8.2 26.7-19.8 35.5-35.5c10-18.1 13.8-38.9 13.4-59.5c-.5-30-9.9-61.9-24.7-88.6c-12.4-22.4-28.9-41.6-48.1-53.3c-13.2-8.1-27.2-12.4-41.6-12.4c-14.4 0-28.4 4.3-41.6 12.4c-19.2 11.7-35.7 30.9-48.1 53.3c-14.8 26.7-24.2 58.6-24.7 88.6c-.4 20.6 3.4 41.4 13.4 59.5c8.8 15.7 21.2 27.3 35.5 35.5c19.8 11.3 43.3 16.2 65.5 16.2z"/>
<path fill="#faa113" stroke="#faa113" d="M679.4 1403.5c22 0 45.2-4.8 64.7-16c14.2-8.2 26.5-19.7 35.2-35.3c10-17.9 13.7-38.4 13.3-58.9c-.5-29.7-9.7-61.1-24.3-87.5c-12.3-22.2-28.7-41.1-47.7-52.8c-13-8-26.9-12.3-41.2-12.3c-14.3 0-28.2 4.3-41.2 12.3c-19 11.7-35.4 30.6-47.7 52.8c-14.6 26.4-23.8 57.8-24.3 87.5c-.4 20.5 3.3 41 13.3 58.9c8.7 15.6 21 27.1 35.2 35.3c19.5 11.2 42.7 16 64.7 16z"/>
<path fill="#faa213" stroke="#faa213" d="M679.4 1402.6c21.7 0 44.6-4.8 63.9-15.9c14.1-8.1 26.3-19.5 34.9-35c9.9-17.7 13.6-38.1 13.3-58.4c-.6-29.3-9.6-60.4-24.1-86.5c-12.2-21.8-28.4-40.5-47.2-52c-12.9-7.9-26.7-12.2-40.8-12.2c-14.1 0-27.9 4.3-40.8 12.2c-18.8 11.5-35 30.2-47.2 52c-14.5 26.1-23.5 57.2-24.1 86.5c-.3 20.3 3.4 40.7 13.3 58.4c8.6 15.5 20.8 26.9 34.9 35c19.3 11.1 42.2 15.9 63.9 15.9z"/>
<path fill="#faa213" stroke="#faa213" d="M679.4 1401.7c21.5 0 44-4.8 63.1-15.7c14-8 26-19.4 34.6-34.6c9.8-17.6 13.5-37.8 13.2-58c-.5-28.9-9.5-59.6-23.8-85.4c-12-21.6-28-40.1-46.7-51.5c-12.7-7.8-26.4-12-40.4-12c-14 0-27.7 4.2-40.4 12c-18.7 11.4-34.7 29.9-46.7 51.5c-14.3 25.8-23.3 56.5-23.8 85.4c-.3 20.2 3.4 40.4 13.2 58c8.6 15.2 20.6 26.6 34.6 34.6c19.1 10.9 41.6 15.7 63.1 15.7z"/>
<path fill="#faa313" stroke="#faa313" d="M679.4 1400.8c21.2 0 43.5-4.8 62.3-15.6c13.9-7.9 25.8-19.2 34.3-34.3c9.7-17.4 13.4-37.4 13.1-57.5c-.5-28.6-9.4-58.9-23.5-84.3c-11.9-21.3-27.7-39.5-46.1-50.7c-12.6-7.8-26.2-12-40.1-12c-13.9 0-27.5 4.2-40.1 12c-18.4 11.2-34.2 29.4-46.1 50.7c-14.1 25.4-23 55.7-23.5 84.3c-.3 20.1 3.4 40.1 13.1 57.5c8.5 15.1 20.4 26.4 34.3 34.3c18.8 10.8 41.1 15.6 62.3 15.6z"/>
<path fill="#faa313" stroke="#faa313" d="M679.4 1399.9c20.9 0 42.9-4.8 61.5-15.4c13.7-7.9 25.6-19.1 34-34.1c9.6-17.2 13.3-37 13-56.8c-.5-28.3-9.2-58.2-23.2-83.2c-11.7-21.1-27.3-39.1-45.5-50.2c-12.6-7.7-26-11.9-39.8-11.9c-13.8 0-27.2 4.2-39.8 11.9c-18.2 11.1-33.8 29.1-45.5 50.2c-14 25-22.7 54.9-23.2 83.2c-.3 19.8 3.4 39.6 13 56.8c8.4 15 20.3 26.2 34 34.1c18.6 10.6 40.6 15.4 61.5 15.4z"/>
<path fill="#faa413" stroke="#faa413" d="M679.4 1398.9c20.6 0 42.3-4.6 60.5-15.1c13.7-7.9 25.5-19 33.8-33.9c9.6-17 13.3-36.6 12.9-56.3c-.4-27.9-9-57.4-22.8-82.1c-11.6-20.8-27-38.6-45-49.6c-12.5-7.5-25.8-11.6-39.4-11.6c-13.6 0-26.9 4.1-39.4 11.6c-18 11-33.4 28.8-45 49.6c-13.8 24.7-22.4 54.2-22.8 82.1c-.4 19.7 3.3 39.3 12.9 56.3c8.3 14.9 20.1 26 33.8 33.9c18.2 10.5 39.9 15.1 60.5 15.1z"/>
<path fill="#faa413" stroke="#faa413" d="M679.4 1397.9c20.4 0 41.7-4.6 59.7-14.9c13.6-7.8 25.3-18.8 33.5-33.6c9.4-16.8 13.1-36.2 12.8-55.7c-.4-27.6-8.9-56.6-22.5-81c-11.4-20.6-26.7-38.1-44.5-49c-12.3-7.4-25.5-11.5-39-11.5c-13.5 0-26.7 4.1-39 11.5c-17.8 10.9-33.1 28.4-44.5 49c-13.6 24.4-22.1 53.4-22.5 81c-.3 19.5 3.4 38.9 12.8 55.7c8.2 14.8 19.9 25.8 33.5 33.6c18 10.3 39.3 14.9 59.7 14.9z"/>
<path fill="#faa512" stroke="#faa512" d="M679.4 1397c20.1 0 41.1-4.6 58.9-14.8c13.5-7.7 25-18.7 33.2-33.3c9.3-16.6 13-35.8 12.7-55.2c-.5-27.1-8.8-55.7-22.2-79.8c-11.3-20.3-26.4-37.6-43.9-48.3c-12.2-7.4-25.3-11.4-38.7-11.4c-13.4 0-26.5 4-38.7 11.4c-17.5 10.7-32.6 28-43.9 48.3c-13.4 24.1-21.7 52.7-22.2 79.8c-.3 19.4 3.4 38.6 12.7 55.2c8.2 14.6 19.7 25.6 33.2 33.3c17.8 10.2 38.8 14.8 58.9 14.8z"/>
<path fill="#faa512" stroke="#faa512" d="M679.4 1396c19.8 0 40.5-4.5 58.1-14.6c13.3-7.7 24.8-18.5 32.8-33c9.2-16.4 12.9-35.4 12.6-54.5c-.4-26.9-8.6-55.1-21.8-78.9c-11.2-20-26.1-37-43.4-47.6c-12.1-7.3-25-11.3-38.3-11.3c-13.3 0-26.2 4-38.3 11.3c-17.3 10.6-32.2 27.6-43.4 47.6c-13.2 23.8-21.4 52-21.8 78.9c-.3 19.1 3.4 38.1 12.6 54.5c8 14.5 19.5 25.3 32.8 33c17.6 10.1 38.3 14.6 58.1 14.6z"/>
<path fill="#faa612" stroke="#faa612" d="M679.4 1395c19.6 0 39.9-4.5 57.3-14.4c13.2-7.7 24.5-18.4 32.5-32.7c9.1-16.2 12.7-35 12.5-54c-.5-26.5-8.5-54.3-21.6-77.6c-11-19.8-25.7-36.6-42.9-47c-11.9-7.3-24.7-11.2-37.8-11.2c-13.1 0-25.9 3.9-37.8 11.2c-17.2 10.4-31.9 27.2-42.9 47c-13.1 23.3-21.1 51.1-21.6 77.6c-.2 19 3.4 37.8 12.5 54c8 14.3 19.3 25 32.5 32.7c17.4 9.9 37.7 14.4 57.3 14.4z"/>
<path fill="#faa612" stroke="#faa612" d="M679.4 1394c19.3 0 39.4-4.4 56.4-14.3c13.1-7.5 24.3-18.2 32.2-32.3c9-16.1 12.6-34.6 12.4-53.4c-.4-26.1-8.4-53.5-21.2-76.6c-10.9-19.5-25.4-36-42.4-46.3c-11.8-7.2-24.4-11-37.4-11c-13 0-25.6 3.8-37.4 11c-17 10.3-31.5 26.8-42.4 46.3c-12.8 23.1-20.8 50.5-21.2 76.6c-.2 18.8 3.4 37.3 12.4 53.4c7.9 14.1 19.1 24.8 32.2 32.3c17 9.9 37.1 14.3 56.4 14.3z"/>
<path fill="#faa712" stroke="#faa712" d="M679.4 1392.9c19 0 38.8-4.3 55.6-14c13-7.5 24-18 31.9-32c8.9-15.9 12.5-34.2 12.2-52.8c-.4-25.8-8.2-52.8-20.9-75.4c-10.7-19.3-25-35.6-41.8-45.8c-11.7-7-24.2-10.9-37-10.9c-12.8 0-25.3 3.9-37 10.9c-16.8 10.2-31.1 26.5-41.8 45.8c-12.7 22.6-20.5 49.6-20.9 75.4c-.3 18.6 3.3 36.9 12.2 52.8c7.9 14 18.9 24.5 31.9 32c16.8 9.7 36.6 14 55.6 14z"/>
<path fill="#faa712" stroke="#faa712" d="M679.4 1391.9c18.7 0 38.2-4.3 54.7-13.9c12.9-7.4 23.8-17.8 31.6-31.7c8.8-15.6 12.3-33.7 12.1-52.1c-.4-25.4-8.1-52-20.6-74.4c-10.5-18.9-24.7-35-41.1-45c-11.6-7-24-10.8-36.7-10.8c-12.7 0-25.1 3.8-36.7 10.8c-16.4 10-30.6 26.1-41.1 45c-12.5 22.4-20.2 49-20.6 74.4c-.2 18.4 3.3 36.5 12.1 52.1c7.8 13.9 18.7 24.3 31.6 31.7c16.5 9.6 36 13.9 54.7 13.9z"/>
<path fill="#faa712" stroke="#faa712" d="M679.4 1390.8c18.5 0 37.6-4.2 53.9-13.7c12.7-7.3 23.5-17.6 31.2-31.3c8.7-15.5 12.2-33.4 12-51.6c-.4-25-7.9-51.1-20.2-73.1c-10.4-18.7-24.4-34.5-40.7-44.4c-11.4-6.9-23.6-10.6-36.2-10.6c-12.6 0-24.8 3.7-36.2 10.6c-16.3 9.9-30.3 25.7-40.7 44.4c-12.3 22-19.8 48.1-20.2 73.1c-.2 18.2 3.3 36.1 12 51.6c7.7 13.7 18.5 24 31.2 31.3c16.3 9.5 35.4 13.7 53.9 13.7z"/>
<path fill="#faa812" stroke="#faa812" d="M679.4 1389.7c18.1 0 36.9-4.2 52.9-13.4c12.6-7.2 23.4-17.5 31-31c8.6-15.4 12.1-33 11.8-51c-.3-24.7-7.7-50.4-19.8-72.1c-10.3-18.3-24.1-33.9-40.1-43.6c-11.3-6.8-23.4-10.5-35.8-10.5c-12.4 0-24.5 3.7-35.8 10.5c-16 9.7-29.8 25.3-40.1 43.6c-12.1 21.7-19.5 47.4-19.8 72.1c-.3 18 3.2 35.6 11.8 51c7.6 13.5 18.4 23.8 31 31c16 9.2 34.8 13.4 52.9 13.4z"/>
<path fill="#faa912" stroke="#faa912" d="M679.4 1388.7c17.9 0 36.3-4.2 52.1-13.3c12.4-7.2 23-17.3 30.5-30.6c8.5-15.1 12-32.6 11.8-50.4c-.3-24.3-7.6-49.6-19.5-70.9c-10.1-18-23.7-33.4-39.5-43c-11.1-6.7-23.1-10.4-35.4-10.4c-12.3 0-24.3 3.7-35.4 10.4c-15.8 9.6-29.4 25-39.5 43c-11.9 21.3-19.2 46.6-19.5 70.9c-.2 17.8 3.3 35.3 11.8 50.4c7.5 13.3 18.1 23.4 30.5 30.6c15.8 9.1 34.2 13.3 52.1 13.3z"/>
<path fill="#faa912" stroke="#faa912" d="M679.4 1387.5c17.6 0 35.7-4.1 51.2-13c12.3-7.1 22.8-17.1 30.2-30.3c8.4-14.9 11.9-32.2 11.6-49.8c-.3-23.9-7.4-48.7-19.2-69.7c-9.9-17.7-23.3-32.8-38.8-42.2c-11.1-6.7-22.9-10.3-35-10.3c-12.1 0-23.9 3.6-35 10.3c-15.5 9.4-28.9 24.5-38.8 42.2c-11.8 21-18.9 45.8-19.2 69.7c-.3 17.6 3.2 34.9 11.6 49.8c7.4 13.2 17.9 23.2 30.2 30.3c15.5 8.9 33.6 13 51.2 13z"/>
<path fill="#faaa12" stroke="#faaa12" d="M679.4 1386.4c17.3 0 35.1-4.1 50.4-12.9c12.1-7 22.4-16.9 29.7-29.9c8.3-14.7 11.8-31.7 11.6-49.1c-.3-23.5-7.4-47.9-18.9-68.5c-9.8-17.5-22.9-32.4-38.3-41.6c-10.9-6.6-22.5-10.1-34.5-10.1c-12 0-23.6 3.5-34.5 10.1c-15.4 9.2-28.5 24.1-38.3 41.6c-11.5 20.6-18.6 45-18.9 68.5c-.2 17.4 3.3 34.4 11.6 49.1c7.3 13 17.6 22.9 29.7 29.9c15.3 8.8 33.1 12.9 50.4 12.9z"/>
<path fill="#faaa12" stroke="#faaa12" d="M679.4 1385.2c17 0 34.5-4 49.5-12.6c12-6.9 22.1-16.7 29.4-29.5c8.1-14.6 11.6-31.4 11.4-48.6c-.3-23.1-7.2-47.1-18.5-67.3c-9.7-17.2-22.6-31.8-37.7-40.9c-10.8-6.4-22.3-9.9-34.1-9.9c-11.8 0-23.3 3.5-34.1 9.9c-15.1 9.1-28 23.7-37.7 40.9c-11.3 20.2-18.2 44.2-18.5 67.3c-.2 17.2 3.3 34 11.4 48.6c7.3 12.8 17.4 22.6 29.4 29.5c15 8.6 32.5 12.6 49.5 12.6z"/>
<path fill="#faab12" stroke="#faab12" d="M679.4 1384.1c16.7 0 33.8-4 48.5-12.4c11.9-6.9 21.9-16.6 29.1-29.2c8-14.4 11.5-30.9 11.3-47.9c-.3-22.7-7.1-46.3-18.2-66.2c-9.5-16.8-22.2-31.1-37-40.1c-10.6-6.4-22-9.8-33.7-9.8c-11.7 0-23.1 3.4-33.7 9.8c-14.8 9-27.5 23.3-37 40.1c-11.1 19.9-17.9 43.5-18.2 66.2c-.2 17 3.3 33.5 11.3 47.9c7.2 12.6 17.2 22.3 29.1 29.2c14.7 8.4 31.8 12.4 48.5 12.4z"/>
<path fill="#faab12" stroke="#faab12" d="M679.4 1382.9c16.4 0 33.2-3.9 47.6-12.2c11.7-6.8 21.6-16.3 28.7-28.9c7.9-14.1 11.3-30.4 11.2-47.1c-.3-22.3-6.9-45.5-17.9-64.9c-9.3-16.6-21.8-30.7-36.4-39.5c-10.5-6.3-21.7-9.7-33.2-9.7c-11.5 0-22.7 3.4-33.2 9.7c-14.6 8.8-27.1 22.9-36.4 39.5c-11 19.4-17.6 42.6-17.9 64.9c-.1 16.7 3.3 33 11.2 47.1c7.1 12.6 17 22.1 28.7 28.9c14.4 8.3 31.2 12.2 47.6 12.2z"/>
<path fill="#faac12" stroke="#faac12" d="M679.4 1381.6c16.1 0 32.6-3.8 46.7-12c11.5-6.6 21.3-16.1 28.3-28.4c7.8-13.9 11.2-30 11-46.5c-.2-21.9-6.7-44.6-17.5-63.7c-9.2-16.3-21.5-30.1-35.8-38.7c-10.3-6.2-21.4-9.5-32.7-9.5c-11.3 0-22.4 3.3-32.7 9.5c-14.3 8.6-26.6 22.4-35.8 38.7c-10.8 19.1-17.3 41.8-17.5 63.7c-.2 16.5 3.2 32.6 11 46.5c7 12.3 16.8 21.8 28.3 28.4c14.1 8.2 30.6 12 46.7 12z"/>
<path fill="#faac11" stroke="#faac11" d="M679.4 1380.4c15.8 0 31.9-3.8 45.8-11.8c11.4-6.6 21-15.9 27.9-28c7.7-13.7 11-29.6 10.8-45.8c-.2-21.5-6.6-43.7-17.1-62.4c-9-16-21-29.6-35.1-38c-10.2-6.2-21.1-9.4-32.3-9.4c-11.2 0-22.1 3.2-32.3 9.4c-14.1 8.4-26.1 22-35.1 38c-10.5 18.7-16.9 40.9-17.1 62.4c-.2 16.2 3.1 32.1 10.8 45.8c6.9 12.1 16.5 21.4 27.9 28c13.9 8 30 11.8 45.8 11.8z"/>
<path fill="#faad11" stroke="#faad11" d="M679.4 1379.1c15.5 0 31.3-3.7 44.9-11.6c11.2-6.4 20.7-15.6 27.4-27.6c7.6-13.4 10.9-29 10.8-45.1c-.3-21-6.5-42.8-16.8-61.2c-8.9-15.7-20.7-28.9-34.5-37.2c-10-6-20.8-9.2-31.8-9.2c-11 0-21.8 3.2-31.8 9.2c-13.8 8.3-25.6 21.5-34.5 37.2c-10.3 18.4-16.5 40.2-16.8 61.2c-.1 16.1 3.2 31.7 10.8 45.1c6.7 12 16.2 21.2 27.4 27.6c13.6 7.9 29.4 11.6 44.9 11.6z"/>
<path fill="#faad11" stroke="#faad11" d="M679.4 1377.8c15.1 0 30.6-3.6 43.9-11.3c11-6.4 20.4-15.4 27.1-27.2c7.4-13.3 10.7-28.6 10.5-44.4c-.2-20.6-6.2-41.9-16.4-59.9c-8.6-15.4-20.3-28.4-33.9-36.6c-9.8-5.8-20.4-9-31.2-9c-10.8 0-21.4 3.2-31.2 9c-13.6 8.2-25.3 21.2-33.9 36.6c-10.2 18-16.2 39.3-16.4 59.9c-.2 15.8 3.1 31.1 10.5 44.4c6.7 11.8 16.1 20.8 27.1 27.2c13.3 7.7 28.8 11.3 43.9 11.3z"/>
<path fill="#faae11" stroke="#faae11" d="M679.4 1376.5c14.8 0 29.9-3.6 43-11.1c10.8-6.3 20-15.2 26.6-26.8c7.3-13 10.6-28.1 10.4-43.7c-.2-20.2-6.1-41-16-58.6c-8.5-15.1-20-27.8-33.3-35.8c-9.7-5.8-20.1-8.9-30.7-8.9c-10.6 0-21 3.1-30.7 8.9c-13.3 8-24.8 20.7-33.3 35.8c-9.9 17.6-15.8 38.4-16 58.6c-.2 15.6 3.1 30.7 10.4 43.7c6.6 11.6 15.8 20.5 26.6 26.8c13.1 7.5 28.2 11.1 43 11.1z"/>
<path fill="#faaf11" stroke="#faaf11" d="M679.4 1375.1c14.5 0 29.3-3.5 42-10.8c10.7-6.2 19.7-15 26.2-26.4c7.2-12.8 10.4-27.6 10.3-42.9c-.2-19.8-6.1-40.2-15.7-57.4c-8.3-14.7-19.5-27.1-32.6-34.9c-9.5-5.7-19.7-8.8-30.2-8.8c-10.5 0-20.7 3.1-30.2 8.8c-13.1 7.8-24.3 20.2-32.6 34.9c-9.6 17.2-15.5 37.6-15.7 57.4c-.1 15.3 3.1 30.1 10.3 42.9c6.5 11.4 15.5 20.2 26.2 26.4c12.7 7.3 27.5 10.8 42 10.8z"/>
<path fill="#faaf11" stroke="#faaf11" d="M679.4 1373.8c14.1 0 28.5-3.5 41-10.7c10.5-6 19.4-14.7 25.7-25.9c7.1-12.6 10.3-27.1 10.2-42.1c-.2-19.4-5.9-39.3-15.3-56.1c-8.2-14.4-19.1-26.6-31.9-34.2c-9.4-5.6-19.4-8.6-29.7-8.6c-10.3 0-20.3 3-29.7 8.6c-12.8 7.6-23.7 19.8-31.9 34.2c-9.4 16.8-15.1 36.7-15.3 56.1c-.1 15 3.1 29.5 10.2 42.1c6.3 11.2 15.2 19.9 25.7 25.9c12.5 7.2 26.9 10.7 41 10.7z"/>
<path fill="#fab011" stroke="#fab011" d="M679.4 1372.3c13.8 0 27.9-3.3 40-10.4c10.4-5.9 19.1-14.5 25.3-25.5c7-12.3 10.1-26.6 10-41.3c-.2-18.9-5.7-38.3-15-54.7c-7.9-14.1-18.6-26-31.1-33.4c-9.2-5.5-19.1-8.5-29.2-8.5c-10.1 0-20 3-29.2 8.5c-12.5 7.4-23.2 19.3-31.1 33.4c-9.3 16.4-14.8 35.8-15 54.7c-.1 14.7 3 29 10 41.3c6.2 11 14.9 19.6 25.3 25.5c12.1 7.1 26.2 10.4 40 10.4z"/>
<path fill="#fbb011" stroke="#fbb011" d="M679.4 1370.9c13.5 0 27.2-3.3 39.1-10.2c10.1-5.9 18.6-14.2 24.7-25c6.9-12.1 9.9-26.1 9.8-40.5c-.1-18.5-5.5-37.5-14.6-53.5c-7.7-13.7-18.2-25.3-30.4-32.5c-9-5.4-18.7-8.3-28.6-8.3c-9.9 0-19.6 2.9-28.6 8.3c-12.2 7.2-22.7 18.8-30.4 32.5c-9.1 16-14.5 35-14.6 53.5c-.1 14.4 2.9 28.4 9.8 40.5c6.1 10.8 14.6 19.1 24.7 25c11.9 6.9 25.6 10.2 39.1 10.2z"/>
<path fill="#fbb111" stroke="#fbb111" d="M679.4 1369.4c13.1 0 26.4-3.2 38-9.9c9.9-5.8 18.4-14 24.3-24.6c6.7-11.8 9.7-25.5 9.6-39.6c-.1-18.1-5.3-36.6-14.2-52.2c-7.5-13.4-17.8-24.6-29.7-31.7c-8.8-5.3-18.3-8.1-28-8.1c-9.7 0-19.2 2.8-28 8.1c-11.9 7.1-22.2 18.3-29.7 31.7c-8.9 15.6-14.1 34.1-14.2 52.2c-.1 14.1 2.9 27.8 9.6 39.6c5.9 10.6 14.4 18.8 24.3 24.6c11.6 6.7 24.9 9.9 38 9.9z"/>
<path fill="#fbb111" stroke="#fbb111" d="M679.4 1367.8c12.8 0 25.7-3.1 37-9.6c9.7-5.7 17.9-13.7 23.8-24.1c6.6-11.5 9.5-25 9.4-38.9c-.1-17.5-5.2-35.4-13.8-50.6c-7.3-13-17.3-24-28.9-30.9c-8.7-5.2-18-7.9-27.5-7.9c-9.5 0-18.8 2.7-27.5 7.9c-11.6 6.9-21.6 17.9-28.9 30.9c-8.6 15.2-13.7 33.1-13.8 50.6c-.1 13.9 2.8 27.4 9.4 38.9c5.9 10.4 14.1 18.4 23.8 24.1c11.3 6.5 24.2 9.6 37 9.6z"/>
<path fill="#fbb211" stroke="#fbb211" d="M679.4 1366.3c12.4 0 25-3.1 36-9.5c9.5-5.5 17.5-13.3 23.2-23.5c6.4-11.3 9.4-24.4 9.3-38c-.2-17.1-5.1-34.5-13.4-49.2c-7.2-12.7-16.9-23.4-28.3-30.1c-8.4-5.1-17.5-7.7-26.8-7.7c-9.3 0-18.4 2.6-26.8 7.7c-11.4 6.7-21.1 17.4-28.3 30.1c-8.3 14.7-13.2 32.1-13.4 49.2c-.1 13.6 2.9 26.7 9.3 38c5.7 10.2 13.7 18 23.2 23.5c11 6.4 23.6 9.5 36 9.5z"/>
<path fill="#fbb211" stroke="#fbb211" d="M679.4 1364.6c12 0 24.2-2.9 34.9-9.1c9.2-5.4 17.1-13.1 22.7-23c6.3-11 9.2-23.9 9.1-37.1c-.1-16.6-4.9-33.5-13-47.9c-7-12.3-16.5-22.7-27.5-29.2c-8.2-4.9-17.1-7.5-26.2-7.5c-9.1 0-18 2.6-26.2 7.5c-11 6.5-20.5 16.9-27.5 29.2c-8.1 14.4-12.9 31.3-13 47.9c-.1 13.2 2.8 26.1 9.1 37.1c5.6 9.9 13.5 17.6 22.7 23c10.7 6.2 22.9 9.1 34.9 9.1z"/>
<path fill="#fbb311" stroke="#fbb311" d="M679.4 1363c11.7 0 23.5-2.9 33.8-8.9c9-5.3 16.7-12.8 22.2-22.4c6.1-10.8 8.9-23.4 8.8-36.3c-.1-16.1-4.7-32.5-12.6-46.4c-6.7-11.9-15.9-22-26.6-28.3c-8-4.8-16.7-7.3-25.6-7.3c-8.9 0-17.6 2.5-25.6 7.3c-10.7 6.3-19.9 16.4-26.6 28.3c-7.9 13.9-12.5 30.3-12.6 46.4c-.1 12.9 2.7 25.5 8.8 36.3c5.5 9.6 13.2 17.1 22.2 22.4c10.3 6 22.1 8.9 33.8 8.9z"/>
<path fill="#fbb311" stroke="#fbb311" d="M679.4 1361.2c11.3 0 22.7-2.8 32.7-8.6c8.8-5.1 16.3-12.4 21.6-21.8c6-10.5 8.7-22.7 8.7-35.3c-.1-15.6-4.6-31.5-12.2-44.9c-6.6-11.6-15.5-21.3-25.9-27.5c-7.8-4.6-16.3-7.1-24.9-7.1c-8.6 0-17.1 2.5-24.9 7.1c-10.4 6.2-19.3 15.9-25.9 27.5c-7.6 13.4-12.1 29.3-12.2 44.9c0 12.6 2.7 24.8 8.7 35.3c5.3 9.4 12.8 16.7 21.6 21.8c10 5.8 21.4 8.6 32.7 8.6z"/>
<path fill="#fbb411" stroke="#fbb411" d="M679.4 1359.4c10.9 0 21.9-2.7 31.6-8.3c8.5-5 15.8-12.1 21-21.3c5.8-10.2 8.5-22 8.4-34.3c-.1-15.1-4.4-30.4-11.7-43.3c-6.4-11.2-15-20.6-25-26.6c-7.7-4.5-15.9-6.9-24.3-6.9c-8.4 0-16.6 2.4-24.3 6.9c-10 6-18.6 15.4-25 26.6c-7.3 12.9-11.6 28.2-11.7 43.3c-.1 12.3 2.6 24.1 8.4 34.3c5.2 9.2 12.5 16.3 21 21.3c9.7 5.6 20.7 8.3 31.6 8.3z"/>
<path fill="#fbb510" stroke="#fbb510" d="M679.4 1357.6c10.5 0 21.1-2.7 30.4-8.1c8.3-4.8 15.4-11.8 20.4-20.6c5.6-9.9 8.3-21.4 8.2-33.3c0-14.6-4.2-29.3-11.3-41.8c-6.1-10.9-14.4-19.9-24.2-25.7c-7.4-4.3-15.3-6.7-23.5-6.7c-8.2 0-16.1 2.4-23.5 6.7c-9.8 5.8-18.1 14.8-24.2 25.7c-7.1 12.5-11.3 27.2-11.3 41.8c-.1 11.9 2.6 23.4 8.2 33.3c5 8.8 12.1 15.8 20.4 20.6c9.3 5.4 19.9 8.1 30.4 8.1z"/>
<path fill="#fbb510" stroke="#fbb510" d="M679.4 1355.6c10.1 0 20.3-2.5 29.2-7.7c8.1-4.7 14.9-11.4 19.8-20c5.5-9.6 8-20.8 8-32.3c-.1-14-4.1-28.2-10.9-40.2c-5.9-10.4-13.9-19.1-23.3-24.6c-7.1-4.3-14.9-6.5-22.8-6.5c-7.9 0-15.7 2.2-22.8 6.5c-9.4 5.5-17.4 14.2-23.3 24.6c-6.8 12-10.8 26.2-10.9 40.2c0 11.5 2.5 22.7 8 32.3c4.9 8.6 11.7 15.3 19.8 20c8.9 5.2 19.1 7.7 29.2 7.7z"/>
<path fill="#fbb610" stroke="#fbb610" d="M679.4 1353.6c10.1 0 19.8-2.7 28-7.4c7.8-4.5 14.4-11.1 19.1-19.4c5.3-9.2 7.8-20 7.7-31.2c0-13.4-3.8-27-10.4-38.5c-5.6-10-13.3-18.4-22.4-23.7c-6.9-4-14.4-6.2-22-6.2c-7.6 0-15.1 2.2-22 6.2c-9.1 5.3-16.8 13.7-22.4 23.7c-6.6 11.5-10.4 25.1-10.4 38.5c-.1 11.2 2.4 22 7.7 31.2c4.7 8.3 11.3 14.9 19.1 19.4c8.2 4.7 17.9 7.4 28 7.4z"/>
<path fill="#fbb610" stroke="#fbb610" d="M679.4 1351.5c9.3 0 18.5-2.4 26.7-7.1c7.5-4.4 13.9-10.7 18.5-18.7c5.1-8.9 7.5-19.3 7.4-30c0-12.9-3.6-25.9-9.9-36.9c-5.4-9.5-12.8-17.5-21.4-22.6c-6.7-3.9-13.9-6-21.3-6c-7.4 0-14.6 2.1-21.3 6c-8.6 5.1-16 13.1-21.4 22.6c-6.3 11-9.9 24-9.9 36.9c-.1 10.7 2.3 21.1 7.4 30c4.6 8 11 14.3 18.5 18.7c8.2 4.7 17.4 7.1 26.7 7.1z"/>
<path fill="#fbb710" stroke="#fbb710" d="M679.4 1349.3c8.8 0 17.7-2.3 25.5-6.8c7.2-4.2 13.3-10.3 17.7-17.9c4.8-8.6 7.2-18.6 7.1-28.9c0-12.3-3.5-24.6-9.4-35.1c-5.2-9.1-12.3-16.7-20.5-21.6c-6.4-3.7-13.3-5.7-20.4-5.7c-7.1 0-14 2-20.4 5.7c-8.2 4.9-15.3 12.5-20.5 21.6c-5.9 10.5-9.4 22.8-9.4 35.1c-.1 10.3 2.3 20.3 7.1 28.9c4.4 7.6 10.5 13.7 17.7 17.9c7.8 4.5 16.7 6.8 25.5 6.8z"/>
<path fill="#fbb710" stroke="#fbb710" d="M679.4 1346.9c8.4 0 16.7-2.1 24.1-6.4c6.9-4 12.7-9.8 16.9-17.1c4.7-8.2 7-17.8 6.9-27.7c0-11.6-3.3-23.3-8.9-33.3c-5-8.6-11.6-15.8-19.5-20.4c-6.1-3.6-12.7-5.5-19.5-5.5c-6.8 0-13.4 1.9-19.5 5.5c-7.9 4.6-14.5 11.8-19.5 20.4c-5.6 10-8.9 21.7-8.9 33.3c-.1 9.9 2.2 19.5 6.9 27.7c4.2 7.3 10 13.1 16.9 17.1c7.4 4.3 15.7 6.4 24.1 6.4z"/>
<path fill="#fbb810" stroke="#fbb810" d="M679.4 1344.5c7.9 0 15.7-2.1 22.7-6.1c6.6-3.8 12.1-9.3 16.1-16.4c4.5-7.8 6.6-16.8 6.6-26.2c0-11-3.1-22.1-8.4-31.4c-4.7-8.2-11-15-18.4-19.3c-5.8-3.4-12.1-5.3-18.6-5.3c-6.5 0-12.8 1.9-18.6 5.3c-7.4 4.3-13.7 11.1-18.4 19.3c-5.3 9.3-8.4 20.4-8.4 31.4c0 9.4 2.1 18.4 6.6 26.2c4 7.1 9.5 12.6 16.1 16.4c7 4 14.8 6.1 22.7 6.1z"/>
<path fill="#fbb810" stroke="#fbb810" d="M679.4 1341.8c7.4 0 14.7-1.9 21.2-5.7c6.3-3.6 11.5-8.8 15.3-15.4c4.2-7.4 6.3-16 6.2-24.9c0-10.3-2.8-20.6-7.8-29.4c-4.4-7.7-10.4-14-17.3-18.1c-5.5-3.2-11.5-4.9-17.6-4.9c-6.1 0-12.1 1.7-17.6 4.9c-6.9 4.1-12.9 10.4-17.3 18.1c-5 8.8-7.8 19.1-7.8 29.4c-.1 8.9 2 17.5 6.2 24.9c3.8 6.6 9 11.8 15.3 15.4c6.5 3.8 13.8 5.7 21.2 5.7z"/>
<path fill="#fbb910" stroke="#fbb910" d="M679.4 1339c6.8 0 13.7-1.8 19.7-5.3c5.8-3.4 10.8-8.3 14.3-14.5c4-7 5.9-15 5.9-23.4c0-9.6-2.7-19.2-7.3-27.3c-4.1-7.1-9.6-13-16.1-16.8c-5-2.9-10.6-4.6-16.5-4.6c-5.9 0-11.5 1.7-16.5 4.6c-6.5 3.8-12 9.7-16.1 16.8c-4.6 8.1-7.3 17.7-7.3 27.3c0 8.4 1.9 16.4 5.9 23.4c3.5 6.2 8.5 11.1 14.3 14.5c6 3.5 12.9 5.3 19.7 5.3z"/>
<path fill="#fbba10" stroke="#fbba10" d="M679.4 1335.9c6.3 0 12.5-1.6 18.1-4.8c5.4-3.2 10-7.8 13.3-13.6c3.7-6.4 5.5-13.9 5.5-21.6c0-8.8-2.5-17.7-6.7-25.1c-3.8-6.6-8.9-12-14.9-15.5c-4.8-2.8-10-4.3-15.3-4.3c-5.3 0-10.5 1.5-15.3 4.3c-6 3.5-11.1 8.9-14.9 15.5c-4.2 7.4-6.7 16.3-6.7 25.1c0 7.7 1.8 15.2 5.5 21.6c3.3 5.8 7.9 10.4 13.3 13.6c5.6 3.2 11.8 4.8 18.1 4.8z"/>
<path fill="#fbba10" stroke="#fbba10" d="M679.4 1332.5c5.7 0 11.3-1.4 16.3-4.4c5-2.8 9.2-7 12.2-12.3c3.4-5.9 5.1-12.8 5.1-19.9c-.1-8-2.2-16-6.1-22.7c-3.4-6-8-10.9-13.4-14c-4.4-2.6-9.2-3.9-14.1-3.9c-4.9 0-9.7 1.3-14.1 3.9c-5.4 3.1-10 8-13.4 14c-3.9 6.7-6 14.7-6.1 22.7c0 7.1 1.7 14 5.1 19.9c3 5.3 7.2 9.5 12.2 12.3c5 3 10.6 4.4 16.3 4.4z"/>
<path fill="#fcbb10" stroke="#fcbb10" d="M679.4 1328.8c5 0 10-1.4 14.4-3.9c4.5-2.6 8.3-6.4 11-11.1c3-5.3 4.5-11.5 4.5-17.9c0-7.1-1.9-14.1-5.3-20.1c-3.1-5.3-7.2-9.6-12-12.4c-3.9-2.3-8.2-3.5-12.6-3.5c-4.4 0-8.7 1.2-12.6 3.5c-4.8 2.8-8.9 7.1-12 12.4c-3.4 6-5.3 13-5.3 20.1c0 6.4 1.5 12.6 4.5 17.9c2.7 4.7 6.5 8.5 11 11.1c4.4 2.5 9.4 3.9 14.4 3.9z"/>
<path fill="#fcbb10" stroke="#fcbb10" d="M679.4 1324.4c4.3 0 8.5-1.1 12.3-3.3c3.9-2.3 7.1-5.6 9.5-9.7c2.6-4.6 4-9.9 4-15.4c-.1-6.1-1.7-12.1-4.6-17.2c-2.6-4.5-6.1-8.2-10.3-10.6c-3.4-2-7.1-3.1-10.9-3.1c-3.8 0-7.5 1.1-10.9 3.1c-4.2 2.4-7.7 6.1-10.3 10.6c-2.9 5.1-4.5 11.1-4.6 17.2c0 5.5 1.4 10.8 4 15.4c2.4 4.1 5.6 7.4 9.5 9.7c3.8 2.2 8 3.3 12.3 3.3z"/>
<path fill="#fcbc10" stroke="#fcbc10" d="M679.4 1319.1c3.4 0 6.8-.9 9.8-2.6c3.2-1.9 5.8-4.5 7.7-7.9c2.2-3.8 3.3-8.1 3.3-12.6c0-4.9-1.3-9.7-3.7-13.8c-2-3.6-4.9-6.5-8.2-8.5c-2.8-1.6-5.8-2.4-8.9-2.4c-3.1 0-6.1 .8-8.9 2.4c-3.3 2-6.2 4.9-8.2 8.5c-2.4 4.1-3.7 8.9-3.7 13.8c0 4.5 1.1 8.8 3.3 12.6c1.9 3.4 4.5 6 7.7 7.9c3 1.7 6.4 2.6 9.8 2.6z"/>
<path fill="#fcbd0f" stroke="#fcbd0f" d="M679.4 1312c2.3 0 4.6-.6 6.6-1.8c2.2-1.3 4-3.1 5.4-5.5c1.4-2.6 2.2-5.6 2.2-8.7c0-3.3-.9-6.5-2.4-9.3c-1.4-2.4-3.4-4.4-5.6-5.7c-1.9-1.1-4.1-1.7-6.2-1.7c-2.1 0-4.3 .6-6.2 1.7c-2.2 1.3-4.2 3.3-5.6 5.7c-1.5 2.8-2.4 6-2.4 9.3c0 3.1 .8 6.1 2.2 8.7c1.4 2.4 3.2 4.2 5.4 5.5c2 1.2 4.3 1.8 6.6 1.8z"/>
</g>
<ellipse cx="680.0" cy="1295.6" rx="13.5" ry="17" fill="#fff2b0" opacity="0.3"/>
<ellipse cx="680.0" cy="1295.6" rx="8" ry="11" fill="#fffef0"/>
<g id="black" fill="none" stroke="#0a0002" stroke-width="6">
<path d="M679.4 1526.2c204.5 0 280.6-7.9 325.9-16.8c38.9-7.6 68.7-19.1 91.3-37c17.4-13.8 31.1-31.9 40.9-56.2c12.4-30.6 20.2-74.9 17.9-143.5c-3.1-90.9-23.3-204.4-49.4-310.8c-27-110.2-64.6-230.2-109.8-338.7c-37.4-89.6-81.6-175.1-131.5-240.2c-31.7-41.4-67.4-76.9-106.6-98.2c-25.9-14.1-52.1-21.3-78.7-21.3c-26.6 0-52.8 7.2-78.7 21.3c-39.2 21.3-74.9 56.8-106.6 98.2c-49.9 65.1-94.1 150.6-131.5 240.2c-45.2 108.5-82.8 228.5-109.8 338.7c-26.1 106.4-46.3 219.9-49.4 310.8c-2.3 68.6 5.5 112.9 17.9 143.5c9.8 24.3 23.5 42.4 40.9 56.2c22.6 17.9 52.4 29.4 91.3 37c45.3 8.9 121.4 16.8 325.9 16.8z"/>
<path d="M679.4 1519.8c171.3 0 237.6-12.2 266.9-18.9c35.4-8.1 63.1-19.7 84.4-36.6c16.5-13.1 29.6-29.8 39.3-51.4c11.6-26 19.5-61.9 19.8-114.2c.4-75-15.1-166.1-35.4-249.6c-22.8-93.7-56.1-195.7-96.7-287.1c-33-74-72-143.9-115.9-196.7c-26.9-32.4-57.8-61-92.2-78.5c-22.9-11.7-46.4-17.8-70.2-17.8c-23.8 0-47.3 6.1-70.2 17.8c-34.4 17.5-65.3 46.1-92.2 78.5c-43.9 52.8-82.9 122.7-115.9 196.7c-40.6 91.4-73.9 193.4-96.7 287.1c-20.3 83.5-35.8 174.6-35.4 249.6c.3 52.3 8.2 88.2 19.8 114.2c9.7 21.6 22.8 38.3 39.3 51.4c21.3 16.9 49 28.5 84.4 36.6c29.3 6.7 95.6 18.9 266.9 18.9z"/>
<path d="M679.4 1505.9c67 0 153.4-4.4 213.3-23.7c30.1-9.7 53.8-22.9 71.9-41c15.6-15.7 27.7-35.6 35.7-61.8c11.8-38.7 13.1-87.3 7.4-140.8c-8.2-76.8-31.3-166.8-62.5-249.2c-28-73.6-64.3-146.3-107.1-202c-27.6-35.9-58-64.9-90.6-82.3c-22.2-11.8-44.9-18.1-68.1-18.1c-23.2 0-45.9 6.3-68.1 18.1c-32.6 17.4-63 46.4-90.6 82.3c-42.8 55.7-79.1 128.4-107.1 202c-31.2 82.4-54.3 172.4-62.5 249.2c-5.7 53.5-4.4 102.1 7.4 140.8c8 26.2 20.1 46.1 35.7 61.8c18.1 18.1 41.8 31.3 71.9 41c59.9 19.3 146.3 23.7 213.3 23.7z"/>
<path d="M679.4 1489.9c48.3 0 124-4.2 178.9-27.1c27-11.3 47.9-26.4 63.3-46.6c14.4-18.8 25.5-44 30.3-79.3c7.7-55.8-2.4-123.1-17.8-181.8c-19.3-73.7-51.7-152.5-92.6-214.4c-27.1-41-58.5-75.3-93.1-95.6c-22.4-13.2-45.5-20.2-69-20.2c-23.5 0-46.6 7-69 20.2c-34.6 20.3-66 54.6-93.1 95.6c-40.9 61.9-73.3 140.7-92.6 214.4c-15.4 58.7-25.5 126-17.8 181.8c4.8 35.3 15.9 60.5 30.3 79.3c15.4 20.2 36.3 35.3 63.3 46.6c54.9 22.9 130.6 27.1 178.9 27.1z"/>
<path d="M679.4 1447.8c32.9 0 71.2-5 103.3-19.7c22.8-10.4 38.4-23.7 49.3-37.8c12.1-15.5 20.6-34.7 24.8-58c6.3-34.5 2.5-73.3-6.4-109.2c-11-44.9-31.2-91-57.5-127.4c-18.3-25.3-39.6-46.1-63.2-58.8c-16.2-8.8-33.1-13.4-50.3-13.4c-17.2 0-34.1 4.6-50.3 13.4c-23.6 12.7-44.9 33.5-63.2 58.8c-26.3 36.4-46.5 82.5-57.5 127.4c-8.9 35.9-12.7 74.7-6.4 109.2c4.2 23.3 12.7 42.5 24.8 58c10.9 14.1 26.5 27.4 49.3 37.8c32.1 14.7 70.4 19.7 103.3 19.7z"/>
</g>
<text class="b" x="633.5" y="425.0">0.025</text>
<text class="b" x="633.5" y="603.8">0.05</text>
<text class="b" x="633.5" y="794.0">0.1</text>
<text class="b" x="633.5" y="959.0">0.15</text>
<text class="b" x="633.5" y="1136.8">0.25</text>
<text class="t" x="78" y="1553.3" text-anchor="end">0</text>
<text class="t" x="78" y="1317.0" text-anchor="end">1</text>
<text class="t" x="78" y="1080.7" text-anchor="end">2</text>
<text class="t" x="78" y="844.4" text-anchor="end">3</text>
<text class="t" x="78" y="608.1" text-anchor="end">4</text>
<text class="t" x="78" y="371.8" text-anchor="end">5</text>
<text class="t" x="78" y="135.5" text-anchor="end">6</text>
<text class="t" x="98.4" y="1603" text-anchor="middle">-2</text>
<text class="t" x="388.9" y="1603" text-anchor="middle">-1</text>
<text class="t" x="679.4" y="1603" text-anchor="middle">0</text>
<text class="t" x="969.9" y="1603" text-anchor="middle">1</text>
<text class="t" x="1260.4" y="1603" text-anchor="middle">2</text>
<text class="i" transform="translate(21,802) scale(1.22,1)">Z</text>
<text class="i" transform="translate(680,1663) scale(1.22,1)" text-anchor="middle">X</text>
<defs><linearGradient id="cb" x1="0" y1="1" x2="0" y2="0">
<stop offset="0.000" stop-color="#a618d8"/>
<stop offset="0.008" stop-color="#b812dc"/>
<stop offset="0.010" stop-color="#c810d4"/>
<stop offset="0.014" stop-color="#cc10b6"/>
<stop offset="0.020" stop-color="#d210a4"/>
<stop offset="0.028" stop-color="#d81096"/>
<stop offset="0.042" stop-color="#df1282"/>
<stop offset="0.072" stop-color="#e61a66"/>
<stop offset="0.102" stop-color="#ea2250"/>
<stop offset="0.142" stop-color="#ee2c3c"/>
<stop offset="0.202" stop-color="#f0382c"/>
<stop offset="0.263" stop-color="#f54a22"/>
<stop offset="0.323" stop-color="#f8581e"/>
<stop offset="0.384" stop-color="#f86a1a"/>
<stop offset="0.465" stop-color="#f97a18"/>
<stop offset="0.525" stop-color="#fa8a14"/>
<stop offset="0.586" stop-color="#fa9a14"/>
<stop offset="0.646" stop-color="#faa812"/>
<stop offset="0.707" stop-color="#fbb810"/>
<stop offset="0.768" stop-color="#ffca0e"/>
<stop offset="0.848" stop-color="#ffdc10"/>
<stop offset="0.929" stop-color="#fff010"/>
<stop offset="1.000" stop-color="#ffff14"/>
</linearGradient></defs>
<rect x="1128" y="35" width="100" height="495" fill="url(#cb)"/>
<linearGradient id="cs" x1="0" y1="1" x2="0" y2="0">
<stop offset="0.000" stop-color="#8d2daf"/>
<stop offset="0.008" stop-color="#9a29b3"/>
<stop offset="0.010" stop-color="#a629ae"/>
<stop offset="0.014" stop-color="#a82899"/>
<stop offset="0.020" stop-color="#ac288d"/>
<stop offset="0.028" stop-color="#b02883"/>
<stop offset="0.042" stop-color="#b52a76"/>
<stop offset="0.072" stop-color="#bb3064"/>
<stop offset="0.102" stop-color="#bf3756"/>
<stop offset="0.142" stop-color="#c33f4a"/>
<stop offset="0.202" stop-color="#c64941"/>
<stop offset="0.263" stop-color="#cd593e"/>
<stop offset="0.323" stop-color="#d2653e"/>
<stop offset="0.384" stop-color="#d5753e"/>
<stop offset="0.465" stop-color="#d98340"/>
<stop offset="0.525" stop-color="#dd9040"/>
<stop offset="0.586" stop-color="#e09e43"/>
<stop offset="0.646" stop-color="#e2aa44"/>
<stop offset="0.707" stop-color="#e6b846"/>
<stop offset="0.768" stop-color="#ecc848"/>
<stop offset="0.848" stop-color="#f0d84d"/>
<stop offset="0.929" stop-color="#f3e951"/>
<stop offset="1.000" stop-color="#f6f657"/>
</linearGradient>
<rect x="1128" y="35" width="4.6" height="495" fill="url(#cs)"/>
<rect x="1223.4" y="35" width="4.6" height="495" fill="url(#cs)"/>
<rect x="1128" y="30" width="100" height="5" fill="#9e9a1e"/>
<rect x="1128" y="530" width="100" height="5" fill="#eba2f4"/>
<text class="s" x="1263.5" y="67.3">0.5</text>
<text class="s" x="1263.5" y="183.0">0.25</text>
<text class="s" x="1263.5" y="315.5">0.1</text>
<text class="s" x="1263.5" y="438.0">0.05</text>
<text class="s" x="1263.5" y="545.0">0.02</text>
</g>
</svg>
</body></html>
